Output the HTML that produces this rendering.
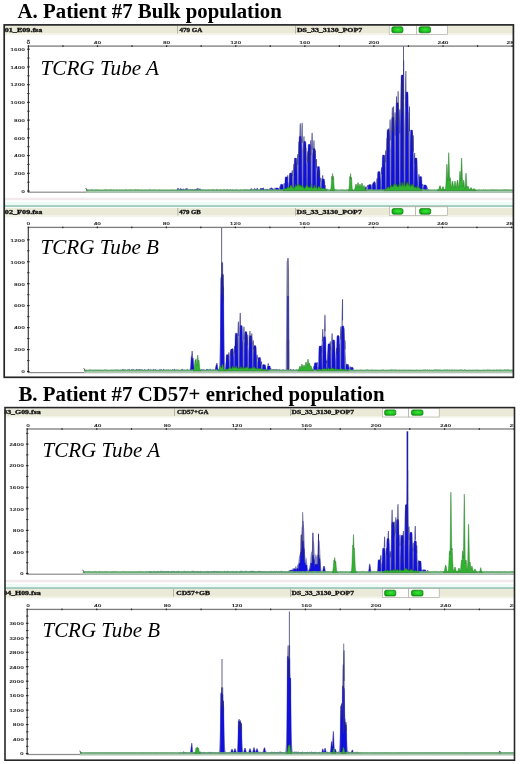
<!DOCTYPE html><html><head><meta charset="utf-8"><style>
html,body{margin:0;padding:0;background:#fff;}
body{width:520px;height:764px;overflow:hidden;position:relative;}
.ttl{font-family:"Liberation Serif",serif;font-weight:bold;font-size:20px;fill:#000;}
.tc{font-family:"Liberation Serif",serif;font-style:italic;font-size:20px;fill:#000;}
.hd{font-family:"Liberation Serif",serif;font-weight:bold;font-size:5.2px;fill:#111;stroke:#1a1a1a;stroke-width:0.3px;}
.ax{font-family:"Liberation Sans",sans-serif;font-weight:bold;font-size:10px;fill:#2a2a2a;}
</style></head><body><svg width="520" height="764" viewBox="0 0 520 764" style="position:absolute;left:0;top:0;will-change:transform;filter:blur(0.3px)">
<defs><radialGradient id="gbtn" cx="0.55" cy="0.45" r="0.6"><stop offset="0" stop-color="#3ee23e"/><stop offset="0.6" stop-color="#1ec81e"/><stop offset="1" stop-color="#129a12"/></radialGradient></defs>
<rect width="520" height="764" fill="#ffffff"/>
<text x="17.6" y="17.6" class="ttl" textLength="264.2" lengthAdjust="spacingAndGlyphs">A. Patient #7 Bulk population</text>
<text x="18.4" y="400.8" class="ttl" textLength="366.2" lengthAdjust="spacingAndGlyphs">B. Patient #7 CD57+ enriched population</text>
<rect x="4.20" y="26.00" width="509.20" height="7.60" fill="#ebe9d7"/>
<rect x="4.20" y="33.60" width="509.20" height="1.6" fill="#f3f4e8"/>
<rect x="177.20" y="26.00" width="0.8" height="7.60" fill="#a8a898"/>
<rect x="295.00" y="26.00" width="0.8" height="7.60" fill="#a8a898"/>
<text x="4.80" y="31.60" class="hd" textLength="37.50" lengthAdjust="spacingAndGlyphs">01_E09.fsa</text>
<text x="179.40" y="31.60" class="hd" textLength="23.00" lengthAdjust="spacingAndGlyphs">479 GA</text>
<text x="296.90" y="31.60" class="hd" textLength="65.40" lengthAdjust="spacingAndGlyphs">DS_33_3130_POP7</text>
<rect x="389.20" y="25.40" width="27.10" height="9.00" fill="#fdfdfb" stroke="#a4a49c" stroke-width="0.6"/>
<rect x="416.30" y="25.40" width="31.00" height="9.00" fill="#fdfdfb" stroke="#a4a49c" stroke-width="0.6"/>
<rect x="391.80" y="26.80" width="11.10" height="6.00" rx="1.6" fill="url(#gbtn)" stroke="#127a12" stroke-width="0.7"/>
<rect x="419.00" y="26.80" width="11.50" height="6.00" rx="1.6" fill="url(#gbtn)" stroke="#127a12" stroke-width="0.7"/>
<rect x="27.85" y="45.60" width="1.1" height="147.10" fill="#303030"/>
<rect x="28.40" y="45.45" width="485.00" height="1.3" fill="#7c7c7c"/>
<rect x="28.40" y="191.60" width="485.00" height="1.2" fill="#8c8c8c"/>
<rect x="27.80" y="45.30" width="1.2" height="1.6" fill="#222"/>
<text transform="translate(28.40 44.00) scale(0.660 0.440)" class="ax" text-anchor="middle">0</text>
<rect x="62.35" y="45.30" width="1.2" height="1.6" fill="#222"/>
<rect x="96.90" y="45.30" width="1.2" height="1.6" fill="#222"/>
<text transform="translate(97.50 44.00) scale(0.660 0.440)" class="ax" text-anchor="middle">40</text>
<rect x="131.45" y="45.30" width="1.2" height="1.6" fill="#222"/>
<rect x="166.00" y="45.30" width="1.2" height="1.6" fill="#222"/>
<text transform="translate(166.60 44.00) scale(0.660 0.440)" class="ax" text-anchor="middle">80</text>
<rect x="200.55" y="45.30" width="1.2" height="1.6" fill="#222"/>
<rect x="235.10" y="45.30" width="1.2" height="1.6" fill="#222"/>
<text transform="translate(235.70 44.00) scale(0.660 0.440)" class="ax" text-anchor="middle">120</text>
<rect x="269.65" y="45.30" width="1.2" height="1.6" fill="#222"/>
<rect x="304.20" y="45.30" width="1.2" height="1.6" fill="#222"/>
<text transform="translate(304.80 44.00) scale(0.660 0.440)" class="ax" text-anchor="middle">160</text>
<rect x="338.75" y="45.30" width="1.2" height="1.6" fill="#222"/>
<rect x="373.30" y="45.30" width="1.2" height="1.6" fill="#222"/>
<text transform="translate(373.90 44.00) scale(0.660 0.440)" class="ax" text-anchor="middle">200</text>
<rect x="407.85" y="45.30" width="1.2" height="1.6" fill="#222"/>
<rect x="442.40" y="45.30" width="1.2" height="1.6" fill="#222"/>
<text transform="translate(443.00 44.00) scale(0.660 0.440)" class="ax" text-anchor="middle">240</text>
<rect x="476.95" y="45.30" width="1.2" height="1.6" fill="#222"/>
<rect x="511.50" y="45.30" width="1.2" height="1.6" fill="#222"/>
<text transform="translate(512.10 44.00) scale(0.660 0.440)" class="ax" text-anchor="middle">280</text>
<rect x="27.10" y="48.65" width="2.6" height="1.1" fill="#222"/>
<text transform="translate(25.00 51.00) scale(0.660 0.440)" class="ax" text-anchor="end">1600</text>
<rect x="27.10" y="66.38" width="2.6" height="1.1" fill="#222"/>
<text transform="translate(25.00 68.73) scale(0.660 0.440)" class="ax" text-anchor="end">1400</text>
<rect x="27.10" y="84.11" width="2.6" height="1.1" fill="#222"/>
<text transform="translate(25.00 86.46) scale(0.660 0.440)" class="ax" text-anchor="end">1200</text>
<rect x="27.10" y="101.84" width="2.6" height="1.1" fill="#222"/>
<text transform="translate(25.00 104.19) scale(0.660 0.440)" class="ax" text-anchor="end">1000</text>
<rect x="27.10" y="119.57" width="2.6" height="1.1" fill="#222"/>
<text transform="translate(25.00 121.92) scale(0.660 0.440)" class="ax" text-anchor="end">800</text>
<rect x="27.10" y="137.30" width="2.6" height="1.1" fill="#222"/>
<text transform="translate(25.00 139.65) scale(0.660 0.440)" class="ax" text-anchor="end">600</text>
<rect x="27.10" y="155.03" width="2.6" height="1.1" fill="#222"/>
<text transform="translate(25.00 157.38) scale(0.660 0.440)" class="ax" text-anchor="end">400</text>
<rect x="27.10" y="172.76" width="2.6" height="1.1" fill="#222"/>
<text transform="translate(25.00 175.11) scale(0.660 0.440)" class="ax" text-anchor="end">200</text>
<rect x="27.10" y="190.49" width="2.6" height="1.1" fill="#222"/>
<text transform="translate(25.00 192.84) scale(0.660 0.440)" class="ax" text-anchor="end">0</text>
<rect x="27.20" y="57.57" width="2.4" height="1" fill="#333"/>
<rect x="27.20" y="75.30" width="2.4" height="1" fill="#333"/>
<rect x="27.20" y="93.02" width="2.4" height="1" fill="#333"/>
<rect x="27.20" y="110.75" width="2.4" height="1" fill="#333"/>
<rect x="27.20" y="128.49" width="2.4" height="1" fill="#333"/>
<rect x="27.20" y="146.22" width="2.4" height="1" fill="#333"/>
<rect x="27.20" y="163.94" width="2.4" height="1" fill="#333"/>
<rect x="27.20" y="181.68" width="2.4" height="1" fill="#333"/>
<rect x="27.20" y="39.84" width="2.4" height="1" fill="#333"/>
<text x="40.50" y="75.20" class="tc" textLength="118.50" lengthAdjust="spacingAndGlyphs">TCRG Tube A</text>
<path d="M176.0 190.60L176.00 190.60L176.50 190.49L176.75 190.32L177.00 189.98L177.25 189.46L177.50 188.84L177.75 188.32L178.00 188.11L178.25 188.32L178.50 188.84L178.75 189.46L179.00 189.98L179.25 190.01L179.50 189.55L179.75 189.00L180.00 188.57L180.25 188.43L180.50 188.65L180.75 189.13L181.00 189.33L181.25 188.98L181.50 188.86L181.75 189.03L182.00 189.41L182.25 189.11L182.50 189.03L182.75 189.21L183.00 189.56L183.50 189.12L183.75 189.12L184.25 189.57L184.50 189.48L184.75 189.58L185.00 189.32L185.25 188.91L185.50 188.72L185.75 188.85L186.00 189.23L186.25 189.36L186.50 188.74L186.75 188.27L187.00 188.14L187.25 188.42L187.75 189.58L188.00 189.45L188.25 189.49L188.50 189.69L188.75 189.98L189.00 190.12L189.50 189.55L189.75 189.40L190.00 189.45L190.25 189.67L190.50 189.73L190.75 189.61L191.00 189.67L191.25 189.86L191.50 189.85L191.75 189.51L192.00 189.28L192.25 189.25L192.50 189.44L193.00 190.06L193.25 189.99L193.50 190.02L194.00 189.76L194.25 189.79L194.75 189.34L195.00 189.28L195.25 189.44L195.50 189.74L195.75 189.57L196.00 189.15L196.25 188.88L196.50 188.89L196.75 188.98L197.00 188.49L197.25 188.28L197.50 188.46L198.00 189.36L198.25 188.92L198.50 188.70L198.75 188.79L199.25 189.55L199.50 189.06L199.75 188.70L200.00 188.63L200.25 188.89L200.75 189.83L201.00 190.13L201.25 190.16L201.50 190.26L202.00 189.97L202.25 189.94L202.50 190.01L203.25 190.45L204.50 190.37L205.25 189.93L205.50 189.92L205.75 190.02L206.00 190.19L206.50 190.04L206.75 190.07L207.50 190.44L208.25 190.50L213.00 190.22L213.50 189.83L213.75 189.76L214.00 189.82L214.75 190.38L215.00 190.44L215.75 190.11L216.00 190.10L216.50 189.69L216.75 189.61L217.00 189.70L217.75 190.35L218.00 190.49L219.25 190.41L220.00 190.00L220.25 189.98L220.50 190.07L221.00 189.91L221.25 189.94L222.00 190.40L222.25 190.46L223.25 190.20L223.50 190.26L224.00 190.04L224.25 190.01L224.50 190.07L224.75 190.20L225.00 190.26L225.50 190.15L225.75 189.98L226.00 189.88L226.25 189.90L226.75 190.14L227.25 189.70L227.50 189.62L227.75 189.71L228.25 190.16L228.50 190.26L229.00 190.26L229.50 189.95L229.75 189.91L230.00 189.99L230.75 190.45L231.00 190.47L232.00 190.25L232.25 190.19L232.75 189.84L233.00 189.79L233.25 189.88L234.00 190.42L234.25 190.52L235.25 190.18L235.50 190.18L236.00 190.35L236.75 190.40L237.50 190.21L238.50 190.49L241.00 190.54L243.25 190.54L244.50 190.39L245.25 190.13L245.50 190.14L246.00 190.34L246.50 190.16L246.75 190.12L247.00 190.16L247.75 190.47L248.75 190.44L249.25 190.24L249.75 189.89L250.00 189.82L250.25 189.89L250.50 189.61L250.75 189.09L251.00 188.68L251.25 188.55L251.50 188.76L252.00 189.71L252.25 190.11L252.50 190.04L252.75 190.07L253.00 190.18L253.25 190.19L253.50 189.87L254.00 188.82L254.25 188.46L254.50 188.43L254.75 188.75L255.00 189.14L255.25 189.01L255.50 189.14L255.75 189.47L256.00 189.75L256.25 189.73L256.50 189.37L256.75 188.74L257.00 188.24L257.25 188.09L257.50 188.35L257.75 188.91L258.00 189.53L258.25 190.03L258.50 190.35L258.75 190.33L259.25 190.16L259.50 190.18L259.75 189.88L260.25 188.73L260.50 188.28L260.75 188.19L261.00 188.48L261.25 189.04L261.50 188.81L261.75 188.31L262.00 188.12L262.25 188.35L262.50 188.88L262.75 188.58L263.00 187.98L263.25 187.75L263.50 187.99L263.75 188.59L264.00 189.30L264.25 189.89L264.50 189.83L264.75 189.87L265.00 190.02L265.25 189.75L265.50 189.40L265.75 189.17L266.00 189.17L266.50 189.64L266.75 189.23L267.00 188.95L267.25 188.94L267.50 189.19L267.75 189.59L268.25 189.51L268.50 189.64L268.75 189.89L269.00 189.74L269.25 189.66L269.75 188.52L270.00 188.17L270.25 188.22L270.50 188.64L270.75 188.93L271.00 188.21L271.25 187.73L271.50 187.69L271.75 188.12L272.00 188.83L272.25 189.22L272.50 188.97L272.75 188.98L273.00 189.24L273.50 190.04L273.75 190.21L274.00 190.20L274.25 190.11L274.75 189.48L275.00 189.29L275.25 189.31L275.50 189.54L275.75 189.86L276.00 189.99L276.50 190.14L276.75 189.96L277.00 189.85L277.25 189.86L277.50 189.63L277.75 189.18L278.00 188.86L278.25 188.80L278.50 189.03L279.00 189.90L279.25 190.21L279.50 190.25L280.00 189.98L280.25 189.90L280.50 189.93L280.75 190.07L281.25 190.02L281.50 190.07L282.00 190.35L282.25 190.19L282.50 189.75L282.75 189.11L283.00 188.40L283.25 187.87L283.50 187.76L283.75 188.10L284.25 189.46L284.50 190.01L284.75 190.34L285.00 190.50L285.25 190.60L285.25 190.60ZM363.5 190.60L363.50 190.60L364.00 190.48L364.25 190.33L364.50 190.05L364.75 189.58L365.00 188.91L365.50 187.32L365.75 186.72L366.00 186.50L366.25 186.72L366.50 187.32L366.75 188.11L367.00 188.50L367.50 186.52L367.75 185.78L368.00 185.50L368.25 185.78L368.50 186.52L368.75 187.51L369.00 188.09L369.50 185.72L369.75 184.83L370.00 184.50L370.25 184.83L370.50 185.72L371.00 188.09L371.25 187.81L371.50 186.92L371.75 186.25L372.00 186.00L372.25 186.25L372.50 186.92L373.00 188.71L373.25 189.45L373.50 189.98L373.75 190.30L374.00 190.47L374.50 190.60L374.50 190.60ZM423.0 190.60L423.00 190.60L423.50 190.45L423.75 190.26L424.00 189.91L424.25 189.33L424.50 188.50L425.00 186.52L425.25 185.78L425.50 185.50L425.75 185.78L426.00 186.52L426.50 186.00L426.75 186.25L427.00 186.92L427.50 188.71L427.75 189.45L428.00 189.98L428.25 190.30L428.50 190.47L429.00 190.60L429.00 190.60Z" fill="#1010e0" stroke="#2a2a78" stroke-width="0.42"/>
<path d="M269.0 190.60L269.00 190.59L269.25 190.58L270.25 190.28L270.50 190.08L271.50 188.80L271.75 188.58L272.00 188.50L272.25 188.58L272.50 188.80L273.25 189.80L273.50 189.83L273.75 189.42L274.50 187.94L274.75 187.62L275.00 187.50L275.25 187.62L275.50 187.94L276.25 189.42L276.50 189.83L276.75 190.13L277.00 190.34L277.25 190.46L277.50 190.50L277.75 190.40L278.00 190.21L278.25 189.91L278.50 189.45L278.75 188.85L279.25 187.35L279.50 186.66L279.75 186.17L280.00 186.00L280.25 186.17L280.50 186.66L280.75 187.35L281.25 188.85L281.50 189.45L281.75 189.91L282.00 189.96L282.25 189.45L282.50 188.70L282.75 187.70L283.00 186.50L283.25 185.23L283.50 184.09L283.75 183.29L284.00 183.00L284.25 183.29L284.50 184.09L284.75 185.23L285.00 186.50L285.25 187.70L285.50 188.70L285.75 188.24L286.00 186.71L286.25 184.65L286.50 182.19L286.75 179.58L287.00 177.23L287.25 175.59L287.50 175.00L287.75 175.59L288.00 177.23L288.25 179.58L288.50 182.19L288.75 184.18L289.00 181.51L289.25 178.69L289.50 176.16L289.75 174.39L290.00 173.75L290.25 174.39L290.50 176.16L290.75 178.69L291.00 179.49L291.25 176.04L291.50 172.95L291.75 170.78L292.00 170.00L292.25 170.78L292.50 172.95L292.75 176.04L293.00 171.63L293.25 167.59L293.50 164.77L293.75 163.75L294.00 164.77L294.25 167.59L294.50 171.63L294.75 167.56L295.00 162.66L295.25 159.23L295.50 158.00L295.75 159.23L296.00 162.66L296.25 167.56L296.50 170.72L296.75 164.56L297.00 159.02L297.25 155.14L297.50 153.75L297.75 155.14L298.00 155.73L298.25 148.31L298.50 143.12L298.75 141.25L299.00 143.12L299.25 142.83L299.50 132.67L299.75 125.56L300.00 123.00L300.25 125.56L300.50 132.67L300.75 142.83L301.00 149.30L301.25 138.13L301.50 128.90L301.75 123.44L302.00 122.92L302.25 127.46L302.50 136.07L302.75 147.00L303.00 152.02L303.25 143.81L303.50 138.07L303.75 136.00L304.00 138.07L304.25 143.81L304.50 152.02L304.75 161.15L305.00 156.09L305.25 150.64L305.50 147.77L305.75 148.09L306.00 151.55L306.25 157.39L306.50 164.46L306.75 162.62L307.00 156.66L307.25 152.50L307.50 151.00L307.75 152.50L308.00 156.66L308.25 161.91L308.50 155.81L308.75 151.54L309.00 150.00L309.25 151.54L309.50 155.81L309.75 154.84L310.00 147.24L310.25 141.91L310.50 140.00L310.75 141.91L311.00 147.24L311.25 145.84L311.50 137.96L311.75 133.30L312.00 132.86L312.25 136.73L312.50 144.08L312.75 153.40L313.00 154.84L313.25 147.24L313.50 141.91L313.75 140.00L314.00 141.91L314.25 147.24L314.50 154.84L314.75 151.54L315.00 150.00L315.25 151.54L315.50 155.81L315.75 161.91L316.00 159.96L316.25 158.75L316.50 159.96L316.75 163.30L317.00 168.09L317.25 173.42L317.50 173.80L317.75 171.74L318.00 171.00L318.25 171.74L318.50 173.80L318.75 173.51L319.00 171.11L319.25 170.03L319.50 170.50L319.75 172.42L320.00 175.38L320.25 178.45L320.50 177.58L320.75 177.68L321.00 178.73L321.25 180.51L321.50 182.19L321.75 179.58L322.00 177.23L322.25 175.59L322.50 175.00L322.75 175.59L323.00 177.23L323.25 179.58L323.50 182.19L323.75 181.36L324.00 181.00L324.25 181.36L324.50 182.37L324.75 183.82L325.00 185.00L325.25 185.21L325.50 185.80L325.75 186.64L326.25 188.47L326.50 189.20L326.75 189.29L327.00 189.01L327.25 188.82L327.50 188.75L327.75 188.82L328.00 189.01L329.00 190.14L330.25 190.58L330.50 190.59L330.50 190.60Z" fill="#8a8ac0"/>
<path d="M269.0 190.60L269.00 190.60L270.40 190.60L270.60 190.47L271.00 189.01L271.20 188.75L273.40 188.74L273.60 188.97L273.80 189.63L274.00 190.42L274.20 190.60L275.20 190.59L275.40 190.20L275.60 189.01L275.80 188.20L276.00 187.95L278.00 187.92L278.20 188.02L278.40 188.48L278.60 189.58L278.80 190.50L279.00 190.60L279.80 190.58L280.00 189.64L280.20 186.83L280.40 184.96L280.60 184.38L280.80 184.26L282.60 184.29L282.80 184.56L283.00 185.64L283.20 188.23L283.40 190.37L283.60 190.60L284.40 190.60L284.60 189.98L284.80 185.08L285.00 179.64L285.20 177.46L285.40 176.94L285.60 176.86L287.20 176.90L287.40 177.17L287.60 178.54L287.80 182.80L288.00 188.81L288.20 190.58L288.40 190.60L288.80 190.59L289.00 189.41L289.20 182.49L289.40 175.97L289.60 173.56L289.80 173.02L290.00 172.94L291.60 173.00L291.80 173.44L292.00 175.51L292.20 181.53L292.40 188.92L292.60 190.59L293.60 190.58L293.80 187.86L294.00 174.53L294.20 163.09L294.40 159.05L294.60 158.18L294.80 158.06L296.20 158.06L296.40 158.19L296.60 159.11L296.80 163.31L297.00 174.99L297.20 188.09L297.40 190.59L298.20 190.60L298.40 190.40L298.60 181.41L298.80 157.16L299.00 141.90L299.20 137.30L299.40 136.41L299.60 136.30L301.00 136.34L301.20 136.73L301.40 139.16L301.60 149.02L301.80 171.68L302.00 189.01L302.20 190.60L302.80 190.60L303.00 190.18L303.20 179.35L303.40 157.33L303.60 145.37L303.80 142.03L304.00 141.42L304.20 141.35L305.60 141.40L305.80 141.89L306.00 144.69L306.20 155.28L306.40 176.87L306.60 189.85L306.80 190.60L307.20 190.60L307.40 190.51L307.60 184.37L307.80 164.03L308.00 149.79L308.20 145.27L308.40 144.36L308.60 144.24L310.00 144.25L310.20 144.53L310.40 146.29L310.60 153.75L310.80 172.23L311.00 188.60L311.20 190.60L312.00 190.60L312.20 190.56L312.40 186.31L312.60 168.51L312.80 154.42L313.00 149.66L313.20 148.65L313.40 148.51L314.80 148.52L315.00 148.72L315.20 150.06L315.40 155.98L315.60 171.76L315.80 187.97L316.00 190.59L316.40 190.60L316.60 190.44L316.80 185.59L317.00 174.80L317.20 168.66L317.40 166.90L317.60 166.58L319.20 166.56L319.40 166.77L319.60 168.04L319.80 172.94L320.00 183.35L320.20 190.14L320.40 190.60L321.20 190.60L321.40 190.58L321.60 189.09L321.80 184.03L322.00 180.45L322.20 179.31L322.40 179.08L324.00 179.05L324.20 179.12L324.40 179.55L324.60 181.39L324.80 185.97L325.00 190.08L325.20 190.60L330.40 190.60L330.40 190.60Z" fill="#1010e0" stroke="#1c1c90" stroke-width="0.3"/>
<line x1="272.30" y1="188.90" x2="272.30" y2="189.13" stroke="#2a2a78" stroke-width="0.75"/>
<line x1="275.30" y1="187.90" x2="275.30" y2="188.43" stroke="#2a2a78" stroke-width="0.75"/>
<line x1="280.30" y1="186.40" x2="280.30" y2="187.38" stroke="#2a2a78" stroke-width="0.75"/>
<line x1="284.30" y1="183.40" x2="284.30" y2="185.28" stroke="#2a2a78" stroke-width="0.75"/>
<line x1="287.80" y1="175.40" x2="287.80" y2="179.68" stroke="#2a2a78" stroke-width="0.75"/>
<line x1="290.30" y1="174.15" x2="290.30" y2="178.81" stroke="#2a2a78" stroke-width="0.75"/>
<line x1="292.30" y1="170.40" x2="292.30" y2="176.18" stroke="#2a2a78" stroke-width="0.75"/>
<line x1="294.05" y1="164.15" x2="294.05" y2="171.81" stroke="#2a2a78" stroke-width="0.75"/>
<line x1="295.80" y1="158.40" x2="295.80" y2="167.78" stroke="#2a2a78" stroke-width="0.75"/>
<line x1="297.80" y1="154.15" x2="297.80" y2="164.81" stroke="#2a2a78" stroke-width="0.75"/>
<line x1="299.05" y1="141.65" x2="299.05" y2="156.06" stroke="#2a2a78" stroke-width="0.75"/>
<line x1="300.30" y1="123.40" x2="300.30" y2="143.28" stroke="#2a2a78" stroke-width="0.75"/>
<line x1="302.20" y1="122.90" x2="302.20" y2="142.93" stroke="#2a2a78" stroke-width="0.75"/>
<line x1="304.05" y1="136.40" x2="304.05" y2="152.38" stroke="#2a2a78" stroke-width="0.75"/>
<line x1="305.90" y1="147.90" x2="305.90" y2="160.43" stroke="#2a2a78" stroke-width="0.75"/>
<line x1="307.80" y1="151.40" x2="307.80" y2="162.88" stroke="#2a2a78" stroke-width="0.75"/>
<line x1="309.30" y1="150.40" x2="309.30" y2="162.18" stroke="#2a2a78" stroke-width="0.75"/>
<line x1="310.80" y1="140.40" x2="310.80" y2="155.18" stroke="#2a2a78" stroke-width="0.75"/>
<line x1="312.20" y1="132.90" x2="312.20" y2="149.93" stroke="#2a2a78" stroke-width="0.75"/>
<line x1="314.05" y1="140.40" x2="314.05" y2="155.18" stroke="#2a2a78" stroke-width="0.75"/>
<line x1="315.30" y1="150.40" x2="315.30" y2="162.18" stroke="#2a2a78" stroke-width="0.75"/>
<line x1="316.55" y1="159.15" x2="316.55" y2="168.31" stroke="#2a2a78" stroke-width="0.75"/>
<line x1="318.30" y1="171.40" x2="318.30" y2="176.88" stroke="#2a2a78" stroke-width="0.75"/>
<line x1="319.60" y1="170.40" x2="319.60" y2="176.18" stroke="#2a2a78" stroke-width="0.75"/>
<line x1="320.90" y1="177.90" x2="320.90" y2="181.43" stroke="#2a2a78" stroke-width="0.75"/>
<line x1="322.80" y1="175.40" x2="322.80" y2="179.68" stroke="#2a2a78" stroke-width="0.75"/>
<line x1="324.30" y1="181.40" x2="324.30" y2="183.88" stroke="#2a2a78" stroke-width="0.75"/>
<line x1="325.30" y1="185.40" x2="325.30" y2="186.68" stroke="#2a2a78" stroke-width="0.75"/>
<line x1="327.80" y1="189.15" x2="327.80" y2="189.31" stroke="#2a2a78" stroke-width="0.75"/>
<path d="M364.5 190.60L364.50 190.58L365.00 190.48L365.25 190.35L365.50 190.13L365.75 189.75L366.00 189.20L366.25 188.47L366.75 186.64L367.00 185.80L367.25 185.21L367.50 185.00L367.75 185.21L368.00 185.80L368.25 186.64L368.75 188.47L369.00 188.12L369.25 187.35L369.50 186.66L369.75 186.17L370.00 186.00L370.25 186.17L370.50 186.66L370.75 187.35L371.00 187.04L371.25 185.94L371.50 184.94L371.75 184.25L372.00 184.00L372.25 184.25L372.50 184.94L372.75 185.94L373.00 187.04L373.25 186.94L373.50 185.42L373.75 183.82L374.00 182.37L374.25 181.36L374.50 181.00L374.75 181.36L375.00 182.37L375.25 183.82L375.50 185.42L375.75 185.03L376.25 180.89L376.50 179.18L376.75 178.17L377.00 178.08L377.25 178.92L377.50 180.51L377.75 182.53L378.00 180.57L378.25 177.46L378.50 174.66L378.75 172.70L379.00 172.00L379.25 172.70L379.50 174.66L379.75 177.46L380.00 180.57L380.25 177.87L380.50 173.92L380.75 170.37L381.00 167.89L381.25 167.00L381.50 167.89L381.75 170.37L382.00 173.92L382.25 177.87L382.50 177.03L382.75 171.40L383.00 165.44L383.25 160.09L383.50 156.35L383.75 155.00L384.00 156.35L384.25 160.09L384.50 165.44L384.75 161.91L385.00 155.81L385.25 151.54L385.50 150.00L385.75 151.54L386.00 155.81L386.25 149.69L386.50 142.49L386.75 138.23L387.00 137.83L387.25 141.37L387.50 148.08L387.75 146.36L388.00 136.95L388.25 130.37L388.50 128.00L388.75 130.37L389.00 136.95L389.25 135.44L389.50 125.73L389.75 119.99L390.00 119.44L390.25 124.21L390.50 133.27L390.75 144.76L391.00 150.99L391.25 137.08L391.50 123.66L391.75 113.09L392.00 107.51L392.25 108.15L392.50 114.86L392.75 120.41L393.00 110.57L393.25 106.13L393.50 108.06L393.75 115.94L394.00 128.08L394.25 125.39L394.50 116.25L394.75 112.12L395.00 113.92L395.25 121.24L395.50 120.69L395.75 107.12L396.00 98.31L396.25 96.15L396.50 101.11L396.75 112.11L397.00 126.87L397.25 113.71L397.50 100.19L397.75 92.18L398.00 91.41L398.25 98.07L398.50 110.69L398.75 126.71L399.00 120.67L399.25 112.09L399.50 109.00L399.75 112.09L400.00 120.67L400.25 128.16L400.50 110.05L400.75 94.41L401.00 84.26L401.25 81.77L401.50 87.49L401.75 85.55L402.00 78.00L402.25 78.86L402.50 87.96L402.75 89.98L403.00 72.28L403.25 61.80L403.50 60.80L403.75 69.51L404.00 86.02L404.25 106.99L404.50 128.72L404.75 113.78L405.00 94.51L405.25 79.34L405.50 71.34L405.75 72.26L406.00 81.89L406.25 98.15L406.50 117.82L406.75 135.06L407.00 123.24L407.25 114.97L407.50 112.00L407.75 114.97L408.00 123.24L408.25 135.06L408.50 128.08L408.75 115.94L409.00 108.06L409.25 106.13L409.50 110.57L409.75 120.41L410.00 133.61L410.25 147.76L410.50 160.79L410.75 164.25L411.25 144.68L411.50 136.61L411.75 131.82L412.00 131.37L412.25 135.34L412.50 142.88L412.75 137.10L413.00 135.00L413.25 137.10L413.50 142.95L413.75 151.31L414.00 156.08L414.25 153.03L414.50 152.73L414.75 155.27L415.00 160.09L415.25 166.21L415.50 170.74L415.75 166.52L416.00 163.56L416.25 162.50L416.50 163.56L416.75 166.52L417.00 170.74L417.25 175.44L417.50 179.89L417.75 181.51L418.00 178.69L418.25 176.16L418.50 174.39L418.75 173.75L419.00 174.39L419.25 176.16L419.50 178.69L419.75 181.51L420.00 179.80L420.25 178.48L420.50 178.00L420.75 178.48L421.00 179.80L421.25 181.70L421.50 183.80L421.75 185.76L422.00 184.73L422.25 184.01L422.50 183.75L422.75 184.01L423.00 184.73L423.25 185.76L423.50 186.91L423.75 187.99L424.00 188.89L424.25 189.57L424.50 189.91L424.75 189.45L425.00 188.85L425.50 187.35L425.75 186.66L426.00 186.17L426.25 186.00L426.50 186.17L426.75 186.66L427.00 187.35L427.50 188.85L427.75 189.06L428.00 189.00L428.25 189.06L428.50 189.23L430.75 190.58L431.00 190.59L431.00 190.60Z" fill="#8a8ac0"/>
<path d="M364.5 190.60L364.50 190.60L367.70 190.60L367.90 190.53L368.10 189.06L368.30 186.39L368.50 185.03L368.70 184.66L370.70 184.66L370.90 185.03L371.10 186.42L371.30 189.09L371.50 190.53L371.70 190.60L372.10 190.60L372.30 190.34L372.50 187.64L372.70 184.22L372.90 182.76L373.10 182.40L374.90 182.35L375.10 182.49L375.30 183.21L375.50 185.58L375.70 189.26L375.90 190.57L376.10 190.60L376.90 190.60L377.10 189.80L377.30 183.11L377.50 175.51L377.70 172.42L377.90 171.69L378.10 171.58L379.70 171.62L379.90 171.99L380.10 173.83L380.30 179.65L380.50 188.01L380.70 190.56L380.90 190.60L381.50 190.60L381.70 190.43L381.90 184.01L382.10 168.08L382.30 158.49L382.50 155.67L382.70 155.13L382.90 155.06L384.30 155.09L384.50 155.37L384.70 157.08L384.90 163.86L385.10 178.95L385.30 189.73L385.50 190.60L386.10 190.60L386.30 190.56L386.50 185.02L386.70 159.61L386.90 138.51L387.10 131.20L387.30 129.64L387.50 129.42L388.90 129.42L389.10 129.69L389.30 131.50L389.50 139.68L389.70 162.05L389.90 186.27L390.10 190.58L390.30 190.60L390.90 190.59L391.10 187.34L391.30 161.26L391.50 132.22L391.70 120.56L391.90 117.83L392.10 117.40L393.50 117.37L393.70 117.56L393.90 119.03L394.10 126.27L394.30 148.93L394.50 180.98L394.70 190.47L394.90 190.60L395.30 190.60L395.50 190.56L395.70 183.31L395.90 147.42L396.10 116.40L396.30 105.44L396.50 103.06L396.70 102.71L398.10 102.71L398.30 103.07L398.50 105.54L398.70 116.79L398.90 148.23L399.10 183.72L399.30 190.56L399.50 190.60L400.10 190.60L400.30 189.83L400.50 166.45L400.70 114.59L400.90 85.12L401.10 76.71L401.30 75.14L401.50 74.96L402.70 74.95L402.90 75.06L403.10 76.10L403.30 82.20L403.50 105.81L403.70 155.86L403.90 188.40L404.10 190.60L404.90 190.60L405.10 190.45L405.30 178.48L405.50 135.63L405.70 104.39L405.90 94.26L406.10 92.18L406.30 91.90L407.70 91.93L407.90 92.48L408.10 96.01L408.30 111.19L408.50 149.77L408.70 185.75L408.90 190.59L409.50 190.60L409.70 190.36L409.90 180.00L410.10 152.86L410.30 136.04L410.50 131.02L410.70 130.05L410.90 129.93L412.30 129.97L412.50 130.43L412.70 133.21L412.90 144.42L413.10 169.89L413.30 188.92L413.50 190.60L413.90 190.60L414.10 190.03L414.30 181.06L414.50 166.85L414.70 160.05L414.90 158.27L415.10 157.97L416.70 157.99L416.90 158.42L417.10 160.73L417.30 168.90L417.50 183.53L417.70 190.36L417.90 190.60L418.50 190.60L418.70 190.23L418.90 185.88L419.10 179.96L419.30 177.34L419.50 176.69L419.70 176.58L421.30 176.60L421.50 176.82L421.70 177.97L421.90 181.82L422.10 188.10L422.30 190.54L422.50 190.60L423.10 190.60L423.30 190.12L423.50 187.76L423.70 185.74L423.90 185.03L424.10 184.88L425.90 184.88L426.10 185.04L426.30 185.78L426.50 187.85L426.70 190.16L426.90 190.60L430.90 190.60L430.90 190.60Z" fill="#1010e0" stroke="#1c1c90" stroke-width="0.3"/>
<line x1="367.80" y1="185.40" x2="367.80" y2="186.68" stroke="#2a2a78" stroke-width="0.75"/>
<line x1="370.30" y1="186.40" x2="370.30" y2="187.38" stroke="#2a2a78" stroke-width="0.75"/>
<line x1="372.30" y1="184.40" x2="372.30" y2="185.98" stroke="#2a2a78" stroke-width="0.75"/>
<line x1="374.80" y1="181.40" x2="374.80" y2="183.88" stroke="#2a2a78" stroke-width="0.75"/>
<line x1="377.20" y1="178.40" x2="377.20" y2="181.78" stroke="#2a2a78" stroke-width="0.75"/>
<line x1="379.30" y1="172.40" x2="379.30" y2="177.58" stroke="#2a2a78" stroke-width="0.75"/>
<line x1="381.55" y1="167.40" x2="381.55" y2="174.08" stroke="#2a2a78" stroke-width="0.75"/>
<line x1="384.05" y1="155.40" x2="384.05" y2="165.68" stroke="#2a2a78" stroke-width="0.75"/>
<line x1="385.80" y1="150.40" x2="385.80" y2="162.18" stroke="#2a2a78" stroke-width="0.75"/>
<line x1="387.20" y1="137.90" x2="387.20" y2="153.43" stroke="#2a2a78" stroke-width="0.75"/>
<line x1="388.80" y1="128.40" x2="388.80" y2="146.78" stroke="#2a2a78" stroke-width="0.75"/>
<line x1="390.20" y1="119.40" x2="390.20" y2="140.48" stroke="#2a2a78" stroke-width="0.75"/>
<line x1="392.40" y1="107.40" x2="392.40" y2="132.08" stroke="#2a2a78" stroke-width="0.75"/>
<line x1="393.60" y1="106.40" x2="393.60" y2="131.38" stroke="#2a2a78" stroke-width="0.75"/>
<line x1="395.10" y1="112.40" x2="395.10" y2="135.58" stroke="#2a2a78" stroke-width="0.75"/>
<line x1="396.50" y1="96.40" x2="396.50" y2="124.38" stroke="#2a2a78" stroke-width="0.75"/>
<line x1="398.20" y1="91.20" x2="398.20" y2="120.74" stroke="#2a2a78" stroke-width="0.75"/>
<line x1="399.80" y1="109.40" x2="399.80" y2="133.48" stroke="#2a2a78" stroke-width="0.75"/>
<line x1="401.50" y1="82.00" x2="401.50" y2="114.30" stroke="#2a2a78" stroke-width="0.75"/>
<line x1="402.40" y1="77.70" x2="402.40" y2="111.29" stroke="#2a2a78" stroke-width="0.75"/>
<line x1="403.70" y1="60.40" x2="403.70" y2="99.18" stroke="#2a2a78" stroke-width="0.75"/>
<line x1="405.90" y1="71.00" x2="405.90" y2="106.60" stroke="#2a2a78" stroke-width="0.75"/>
<line x1="407.80" y1="112.40" x2="407.80" y2="135.58" stroke="#2a2a78" stroke-width="0.75"/>
<line x1="409.50" y1="106.40" x2="409.50" y2="131.38" stroke="#2a2a78" stroke-width="0.75"/>
<line x1="412.20" y1="131.40" x2="412.20" y2="148.88" stroke="#2a2a78" stroke-width="0.75"/>
<line x1="413.30" y1="135.40" x2="413.30" y2="151.68" stroke="#2a2a78" stroke-width="0.75"/>
<line x1="414.70" y1="152.90" x2="414.70" y2="163.93" stroke="#2a2a78" stroke-width="0.75"/>
<line x1="416.55" y1="162.90" x2="416.55" y2="170.93" stroke="#2a2a78" stroke-width="0.75"/>
<line x1="419.05" y1="174.15" x2="419.05" y2="178.81" stroke="#2a2a78" stroke-width="0.75"/>
<line x1="420.80" y1="178.40" x2="420.80" y2="181.78" stroke="#2a2a78" stroke-width="0.75"/>
<line x1="422.80" y1="184.15" x2="422.80" y2="185.81" stroke="#2a2a78" stroke-width="0.75"/>
<line x1="426.55" y1="186.40" x2="426.55" y2="187.38" stroke="#2a2a78" stroke-width="0.75"/>
<line x1="428.30" y1="189.40" x2="428.30" y2="189.48" stroke="#2a2a78" stroke-width="0.75"/>
<rect x="403.00" y="46.50" width="0.80" height="124.10" fill="#3a3a72"/>
<rect x="86.00" y="190.90" width="426.90" height="1.9" fill="#adc9b2"/>
<rect x="86.00" y="189.50" width="426.90" height="1.4" fill="#6aa876"/>
<path d="M85.70 188.00 L87.60 191.20" stroke="#3c4a44" stroke-width="0.9"/>
<path d="M85.8 190.60L85.75 190.60L86.00 190.43L86.25 190.40L87.00 189.75L87.25 189.62L87.50 189.65L88.00 190.02L88.25 189.96L88.75 190.07L89.00 189.87L89.25 189.76L89.50 189.78L90.25 190.34L90.50 190.26L91.00 189.74L91.25 189.55L91.50 189.52L92.00 189.87L92.25 189.67L92.50 189.61L92.75 189.71L93.00 189.93L93.50 190.07L94.00 190.34L94.75 190.33L95.00 190.20L95.50 189.64L95.75 189.46L96.00 189.45L96.25 189.63L96.75 190.19L97.00 190.10L97.50 189.52L97.75 189.38L98.00 189.45L98.25 189.68L98.75 190.25L99.75 190.47L100.50 190.09L100.75 190.03L101.00 190.07L101.50 190.32L103.25 190.38L103.75 190.23L104.25 189.74L104.50 189.55L104.75 189.52L105.00 189.67L105.25 189.93L105.75 189.77L106.00 189.81L106.50 189.37L106.75 189.32L107.00 189.47L107.50 190.08L107.75 190.33L108.00 190.38L108.75 189.75L109.00 189.66L109.25 189.73L109.50 189.92L109.75 189.75L110.00 189.49L110.25 189.38L110.50 189.48L110.75 189.73L111.25 189.53L111.50 189.58L111.75 189.78L112.00 190.05L112.25 190.24L112.50 190.21L112.75 190.23L113.25 189.71L113.50 189.50L113.75 189.46L114.00 189.61L114.50 190.14L114.75 190.00L115.00 189.94L115.25 190.00L116.00 190.40L116.25 190.22L116.75 189.72L117.00 189.58L117.25 189.60L117.50 189.77L118.00 190.27L118.25 190.38L119.00 189.77L119.25 189.69L119.50 189.75L120.00 190.16L120.50 190.11L121.00 190.16L121.25 190.01L121.50 189.94L121.75 189.98L122.25 190.17L122.50 190.02L122.75 189.93L123.00 189.95L123.25 190.07L123.50 190.07L123.75 189.97L124.00 189.98L124.75 190.38L125.00 190.17L125.50 189.56L125.75 189.35L126.00 189.35L126.25 189.54L126.75 190.15L127.00 190.09L127.50 190.09L127.75 189.97L128.00 189.95L128.25 190.04L128.50 190.19L129.00 189.75L129.25 189.61L129.50 189.63L129.75 189.80L130.00 189.78L130.25 189.55L130.50 189.48L130.75 189.60L131.00 189.84L131.25 189.95L131.50 189.94L131.75 190.04L132.00 190.20L132.25 190.10L132.50 189.93L132.75 189.85L133.00 189.89L133.50 190.23L134.00 190.26L134.25 190.03L134.75 189.46L135.00 189.36L135.25 189.46L135.50 189.68L135.75 189.58L136.00 189.65L136.25 189.86L136.50 189.88L136.75 189.61L137.00 189.46L137.25 189.49L137.75 189.95L138.00 189.71L138.25 189.56L138.50 189.58L138.75 189.77L139.00 190.02L139.25 189.91L139.50 189.87L139.75 189.95L140.50 190.44L140.75 190.46L141.50 189.97L141.75 189.87L142.00 189.88L142.25 190.01L142.75 189.94L143.00 190.00L143.25 190.14L143.50 190.21L143.75 190.14L144.25 190.17L144.50 190.00L144.75 189.91L145.00 189.92L145.25 190.05L145.50 190.05L145.75 189.88L146.00 189.80L146.25 189.86L147.00 190.39L147.25 190.50L148.00 190.37L148.25 190.25L148.75 189.72L149.00 189.52L149.25 189.49L149.50 189.64L149.75 189.90L150.00 189.83L150.25 189.63L150.50 189.57L150.75 189.67L151.25 190.16L151.50 190.30L152.25 190.28L152.75 189.86L153.00 189.74L153.25 189.75L153.50 189.90L153.75 190.11L154.00 190.11L154.50 189.67L154.75 189.62L155.00 189.73L155.75 190.38L156.00 190.43L156.75 190.16L157.00 190.17L157.50 190.36L158.25 190.45L158.75 190.34L159.50 189.73L159.75 189.68L160.00 189.78L160.50 190.21L161.75 190.49L162.75 190.07L163.00 190.06L163.75 190.41L164.00 190.47L164.25 190.38L165.00 189.96L165.25 189.95L165.50 190.04L166.00 189.82L166.25 189.85L167.25 190.49L168.75 190.48L169.50 190.40L169.75 190.29L170.25 189.87L170.50 189.74L170.75 189.74L171.00 189.88L171.50 190.30L172.00 190.34L172.25 190.28L172.75 189.78L173.00 189.60L173.25 189.57L173.50 189.71L174.00 190.21L174.25 190.31L174.75 190.35L175.25 190.12L175.50 190.09L175.75 190.14L176.00 190.25L176.25 190.26L176.50 190.19L176.75 190.19L177.50 190.46L177.75 190.31L178.50 189.47L178.75 189.34L179.00 189.43L179.25 189.68L179.75 190.26L180.25 190.21L180.75 190.37L181.50 190.20L182.00 190.25L182.50 189.79L182.75 189.65L183.00 189.66L183.25 189.82L183.75 190.25L184.25 189.71L184.50 189.50L184.75 189.47L185.00 189.62L185.50 189.54L185.75 189.65L186.25 190.14L186.75 189.87L187.00 189.88L187.25 189.81L187.50 189.57L187.75 189.47L188.00 189.56L188.50 190.08L189.00 189.72L189.25 189.69L189.50 189.81L189.75 190.03L190.00 190.16L190.25 190.11L190.50 190.14L191.00 190.36L191.75 190.34L192.25 190.08L192.50 190.04L192.75 190.09L193.50 190.46L193.75 190.46L194.50 190.22L195.00 190.29L195.25 190.28L195.75 190.18L196.00 190.23L196.25 190.11L196.75 189.56L197.00 189.43L197.25 189.50L197.50 189.73L197.75 190.02L198.00 190.08L198.50 189.48L198.75 189.32L199.00 189.38L199.25 189.62L199.75 190.22L200.00 190.16L200.25 190.17L200.75 189.80L201.00 189.72L201.25 189.79L201.50 189.97L201.75 189.84L202.00 189.56L202.25 189.40L202.50 189.44L202.75 189.65L203.00 189.61L203.25 189.46L203.50 189.50L203.75 189.71L204.00 189.99L204.25 190.04L204.50 189.97L204.75 190.00L205.25 190.28L205.50 190.38L206.75 190.47L207.00 190.38L207.25 190.17L207.75 189.60L208.00 189.43L208.25 189.45L208.50 189.65L208.75 189.70L209.00 189.61L209.25 189.69L209.50 189.89L210.00 189.55L210.25 189.51L210.50 189.65L211.00 190.17L211.25 190.16L211.50 189.98L211.75 189.70L212.00 189.51L212.25 189.49L212.75 189.81L213.00 189.53L213.25 189.37L213.50 189.41L213.75 189.64L214.25 190.23L214.50 190.42L216.75 190.46L217.00 190.31L217.75 189.63L218.00 189.58L218.25 189.70L218.75 190.18L219.25 190.16L219.50 190.19L219.75 190.08L220.00 189.82L220.25 189.63L220.50 189.59L220.75 189.71L221.00 189.94L221.50 189.86L221.75 189.94L222.25 190.29L222.50 190.15L223.00 189.60L223.25 189.45L223.50 189.49L223.75 189.70L224.00 189.71L224.25 189.47L224.50 189.40L224.75 189.52L225.25 190.09L225.50 190.24L225.75 190.26L226.00 190.19L226.50 189.67L226.75 189.53L227.00 189.57L227.25 189.76L227.75 189.75L228.00 189.90L228.75 190.46L229.25 190.54L229.50 190.44L229.75 190.25L230.25 189.65L230.50 189.40L230.75 189.32L231.00 189.45L231.50 190.05L231.75 190.31L232.00 190.42L233.50 190.49L234.25 190.49L235.25 190.11L235.50 190.14L235.75 190.24L236.25 189.70L236.50 189.48L236.75 189.42L237.00 189.57L237.50 190.12L237.75 190.27L238.50 190.48L239.25 190.51L239.50 190.44L239.75 190.25L240.25 189.66L240.50 189.40L240.75 189.32L241.00 189.46L241.25 189.74L241.50 189.86L241.75 189.83L242.00 189.93L242.50 190.23L242.75 190.12L243.25 189.56L243.50 189.42L243.75 189.47L244.00 189.69L244.25 189.99L244.50 189.67L244.75 189.42L245.00 189.34L245.25 189.47L245.75 190.06L246.00 190.27L246.75 189.42L247.00 189.33L247.25 189.44L247.50 189.71L247.75 189.86L248.00 189.72L248.25 189.73L248.50 189.87L249.00 190.30L249.75 190.34L250.50 190.20L251.00 190.34L251.25 190.36L251.50 190.12L252.00 189.51L252.25 189.34L252.50 189.37L252.75 189.59L253.00 189.90L253.25 189.78L253.50 189.76L253.75 189.88L254.00 189.86L254.25 189.57L254.50 189.39L254.75 189.41L255.00 189.62L255.50 190.20L256.00 190.27L256.50 190.20L256.75 190.20L257.00 190.26L257.50 189.72L257.75 189.50L258.00 189.44L258.25 189.58L258.75 190.13L259.25 190.23L259.75 189.93L260.00 189.85L260.25 189.89L260.75 190.22L261.00 190.30L262.00 190.28L262.50 189.97L262.75 189.89L263.00 189.92L263.75 190.39L264.00 190.45L264.75 190.22L265.25 190.31L266.00 189.97L266.25 189.98L267.00 190.39L267.50 190.37L268.25 189.69L268.50 189.57L268.75 189.62L269.00 189.58L269.25 189.39L269.50 189.40L269.75 189.59L270.00 189.68L270.25 189.59L270.50 189.67L270.75 189.88L271.00 190.03L271.25 189.77L271.50 189.58L271.75 189.54L272.00 189.68L272.50 190.19L272.75 190.31L273.50 189.51L273.75 189.41L274.00 189.49L274.25 189.74L274.50 189.52L274.75 189.44L275.00 189.55L275.25 189.59L275.50 189.43L275.75 189.46L276.00 189.66L276.50 190.20L276.75 190.26L277.00 190.12L277.50 189.64L277.75 189.55L278.00 189.64L278.25 189.86L278.50 189.96L278.75 189.69L279.00 189.53L279.25 189.53L279.50 189.71L279.75 189.97L280.25 189.72L280.50 189.72L280.75 189.86L281.00 190.08L281.25 190.04L281.50 190.07L281.75 189.85L282.00 189.70L282.25 189.69L282.50 189.82L283.00 190.27L283.25 190.21L283.75 189.61L284.00 189.39L284.25 189.36L284.50 189.53L285.00 190.07L285.25 189.93L285.50 189.89L285.75 189.96L286.00 189.92L286.25 189.66L286.50 189.51L286.75 189.53L287.00 189.72L287.25 189.99L287.50 190.10L287.75 190.09L288.25 190.28L288.50 190.28L288.75 190.17L289.25 189.80L289.50 189.76L289.75 189.86L290.00 190.05L290.25 189.91L290.50 189.86L290.75 189.93L291.00 190.08L291.50 190.16L292.00 190.37L292.25 190.21L292.75 189.69L293.00 189.54L293.25 189.55L293.50 189.74L293.75 190.00L294.00 190.09L294.25 190.09L294.75 190.29L295.00 190.33L295.25 190.30L295.75 190.01L296.00 189.92L296.25 189.94L296.50 190.06L297.00 189.80L297.25 189.76L297.75 189.96L298.00 189.78L298.25 189.71L298.50 189.79L299.00 190.20L299.25 190.32L299.75 190.32L300.25 190.07L300.50 189.98L300.75 190.00L301.00 190.11L301.50 190.06L301.75 190.10L302.00 189.95L302.25 189.66L302.50 189.46L302.75 189.44L303.00 189.60L303.50 190.17L303.75 190.28L304.75 190.43L305.00 190.45L305.75 190.01L306.00 189.94L306.25 189.97L307.00 190.41L307.50 190.40L307.75 190.24L308.25 189.70L308.50 189.50L308.75 189.46L309.00 189.62L309.25 189.87L309.50 189.72L309.75 189.71L310.00 189.85L310.50 190.25L310.75 190.15L311.00 190.12L311.25 190.17L311.50 190.12L312.00 189.70L312.25 189.65L312.50 189.75L312.75 189.94L313.00 189.68L313.25 189.51L313.50 189.51L313.75 189.69L314.00 189.96L314.50 189.44L314.75 189.35L315.00 189.47L315.75 190.31L316.25 190.41L317.00 190.32L317.75 189.67L318.00 189.62L318.50 189.79L318.75 189.71L319.00 189.78L319.50 190.18L320.00 190.15L320.75 190.39L322.25 190.55L322.50 190.49L322.75 190.36L323.50 189.66L323.75 189.55L324.00 189.62L324.50 190.08L324.75 190.27L325.25 190.29L325.50 190.13L326.00 189.54L326.25 189.37L326.50 189.40L326.75 189.61L327.00 189.65L327.25 189.59L327.50 189.71L327.75 189.93L328.00 190.02L328.25 189.83L328.50 189.74L328.75 189.80L329.25 190.18L329.75 190.02L330.00 190.07L330.25 190.18L330.75 189.58L331.00 189.37L331.25 189.36L331.75 189.78L332.00 189.59L332.25 189.57L332.50 189.71L333.00 190.21L333.25 190.39L334.25 190.44L334.50 190.35L334.75 190.11L335.25 189.52L335.50 189.36L335.75 189.41L336.25 189.85L336.50 189.83L336.75 189.93L337.50 190.44L337.75 190.43L339.25 190.47L339.50 190.49L340.50 190.04L340.75 190.05L341.25 189.80L341.50 189.80L341.75 189.93L342.00 189.88L342.25 189.63L342.50 189.52L342.75 189.58L343.25 190.06L343.50 190.23L344.00 190.36L345.25 190.36L346.00 190.30L346.75 189.63L347.00 189.57L347.25 189.69L347.50 189.92L347.75 189.71L348.00 189.44L348.25 189.33L348.50 189.43L349.00 190.01L349.50 189.97L350.00 190.11L350.50 189.67L350.75 189.60L351.00 189.70L351.50 190.17L351.75 190.11L352.00 190.11L352.75 190.43L354.25 190.45L354.50 190.36L355.25 189.91L355.50 189.90L355.75 190.01L356.00 190.18L356.50 189.73L356.75 189.61L357.00 189.67L357.75 190.32L358.00 190.43L358.25 190.42L358.50 190.30L359.00 189.95L359.25 189.86L359.50 189.89L359.75 190.03L360.25 189.95L360.50 189.99L360.75 190.11L361.25 189.91L361.50 189.95L361.75 190.09L362.00 190.03L362.25 190.05L362.75 190.28L363.00 190.21L363.25 190.21L363.50 190.05L363.75 189.80L364.00 189.62L364.25 189.59L364.50 189.73L364.75 189.97L365.00 190.08L365.25 189.98L365.50 189.97L366.00 190.22L366.50 190.11L366.75 190.13L367.25 190.34L367.50 190.37L368.25 189.86L368.50 189.83L368.75 189.92L369.00 190.10L369.50 189.64L369.75 189.52L370.00 189.59L370.25 189.80L370.75 189.36L371.00 189.34L371.25 189.52L371.50 189.80L371.75 189.59L372.00 189.52L372.25 189.62L372.50 189.86L373.00 189.63L373.25 189.70L373.75 190.14L374.00 190.29L374.50 190.21L374.75 190.08L375.00 189.90L375.25 189.80L375.50 189.83L376.00 190.18L376.50 190.14L376.75 190.19L377.25 190.10L377.75 190.23L378.00 190.12L378.25 190.07L378.50 190.11L378.75 190.22L379.00 190.14L379.25 189.96L379.50 189.85L379.75 189.86L380.00 189.99L380.25 189.90L380.50 189.62L380.75 189.45L381.00 189.47L381.25 189.66L381.50 189.95L381.75 190.07L382.00 189.97L382.25 189.97L382.75 190.12L383.00 189.92L383.25 189.79L383.50 189.78L384.00 190.09L384.25 189.90L384.50 189.79L384.75 189.81L385.00 189.96L385.25 189.92L385.50 189.80L385.75 189.80L386.00 189.93L386.25 189.81L386.50 189.53L386.75 189.39L387.00 189.44L387.50 189.92L387.75 189.66L388.00 189.51L388.25 189.54L388.75 189.98L389.00 189.72L389.25 189.56L389.50 189.57L389.75 189.73L390.25 190.20L390.50 190.15L390.75 190.16L391.25 189.75L391.50 189.68L391.75 189.77L392.25 190.16L392.50 189.99L392.75 189.90L393.00 189.92L393.25 189.78L393.50 189.58L393.75 189.52L394.00 189.64L394.25 189.89L394.50 190.06L394.75 189.99L395.25 190.03L395.50 189.94L395.75 189.96L396.25 190.24L396.75 190.06L397.25 190.09L397.50 189.88L397.75 189.76L398.00 189.77L398.25 189.91L398.75 189.95L399.25 190.21L399.75 189.80L400.00 189.70L400.25 189.76L400.50 189.94L401.00 189.71L401.25 189.74L402.00 190.33L402.25 190.22L402.75 189.67L403.00 189.48L403.25 189.47L403.50 189.63L404.00 190.18L404.25 190.39L404.50 190.38L405.25 189.94L405.50 189.93L406.00 190.08L406.25 189.96L406.50 189.94L406.75 190.03L407.25 190.34L407.75 190.38L408.00 190.28L408.50 189.84L408.75 189.69L409.00 189.69L409.25 189.83L409.75 190.28L410.75 190.37L412.00 190.43L412.75 190.35L413.50 189.60L413.75 189.48L414.00 189.54L414.25 189.76L414.75 190.28L415.25 190.33L416.00 189.72L416.25 189.69L416.50 189.80L417.25 190.41L417.50 190.52L417.75 190.46L418.50 189.94L418.75 189.81L419.00 189.81L419.25 189.93L419.50 190.13L419.75 190.05L420.00 190.05L420.25 190.15L420.50 190.01L420.75 189.76L421.00 189.60L421.25 189.60L421.75 189.87L422.00 189.79L422.25 189.84L422.75 189.38L423.00 189.35L423.50 189.72L423.75 189.49L424.00 189.41L424.25 189.54L424.75 190.02L425.00 189.86L425.25 189.81L425.50 189.90L425.75 190.06L426.00 189.94L426.25 189.92L426.50 190.02L427.00 190.34L427.25 190.43L427.50 190.39L428.25 190.13L428.50 190.17L429.00 190.38L429.75 190.31L430.00 190.19L430.50 189.76L430.75 189.67L431.00 189.73L431.75 190.35L432.00 190.32L432.50 190.02L432.75 189.96L433.00 190.00L433.50 190.29L433.75 190.18L434.25 189.85L434.50 189.83L434.75 189.93L435.25 190.30L435.50 190.35L435.75 190.24L436.25 189.81L436.50 189.69L436.75 189.73L437.00 189.89L437.25 189.87L437.50 189.57L437.75 189.37L438.00 189.37L438.25 189.57L438.75 190.17L439.25 190.18L440.00 190.47L441.50 190.48L442.50 189.97L442.75 189.97L443.50 190.37L443.75 190.19L444.25 189.68L444.50 189.54L444.75 189.58L445.25 190.00L445.50 189.87L445.75 189.86L446.00 189.96L446.25 189.79L446.50 189.68L446.75 189.71L447.00 189.89L447.25 189.92L447.50 189.83L447.75 189.87L448.00 190.02L448.25 189.91L448.50 189.59L448.75 189.36L449.00 189.32L449.50 189.63L449.75 189.56L450.00 189.67L450.50 190.15L450.75 190.24L451.00 190.19L451.25 190.21L451.50 190.13L451.75 189.95L452.00 189.85L452.25 189.88L452.75 190.20L453.00 190.21L453.25 190.11L453.50 190.08L454.00 190.20L454.50 189.73L454.75 189.62L455.25 189.68L455.50 189.46L455.75 189.42L456.00 189.57L456.50 190.14L456.75 190.36L457.00 190.47L458.50 190.44L458.75 190.34L459.50 189.61L459.75 189.51L460.00 189.59L460.75 190.32L461.00 190.28L461.50 189.77L461.75 189.56L462.00 189.51L462.25 189.64L462.75 190.16L463.25 190.35L463.50 190.31L464.00 189.92L464.25 189.79L464.50 189.79L465.00 190.09L465.25 189.87L465.50 189.73L465.75 189.72L466.00 189.86L466.25 190.07L466.75 189.79L467.00 189.74L467.25 189.83L467.50 190.01L467.75 189.84L468.00 189.78L468.25 189.85L468.50 190.03L468.75 190.14L469.00 189.93L469.25 189.79L469.50 189.78L469.75 189.90L470.50 190.44L470.75 190.39L471.50 189.88L471.75 189.83L472.25 190.02L472.50 189.86L472.75 189.81L473.00 189.89L473.25 190.07L473.50 190.03L473.75 189.93L474.00 189.94L474.50 190.16L474.75 190.14L475.25 190.31L476.25 190.38L477.00 190.05L477.25 190.07L477.50 190.18L478.00 189.76L478.25 189.67L478.50 189.74L478.75 189.93L479.00 189.97L479.25 189.76L479.50 189.66L479.75 189.72L480.25 190.14L480.50 190.31L481.50 190.44L482.50 190.39L482.75 190.18L483.25 189.65L483.50 189.50L483.75 189.53L484.00 189.72L484.50 190.25L484.75 190.34L485.50 189.63L485.75 189.54L486.00 189.63L486.50 190.12L487.00 190.14L488.00 190.53L488.25 190.50L489.25 190.04L489.50 190.04L489.75 190.13L490.25 190.09L490.50 190.14L490.75 190.03L491.00 189.75L491.25 189.52L491.50 189.46L491.75 189.58L492.00 189.83L492.50 189.95L492.75 189.70L493.00 189.57L493.25 189.60L493.50 189.79L494.00 190.28L494.50 189.86L494.75 189.69L495.00 189.65L495.25 189.78L496.00 190.41L496.25 190.30L496.75 189.81L497.00 189.61L497.25 189.55L497.50 189.67L498.00 190.17L498.25 190.25L498.50 190.21L499.25 190.33L500.00 190.35L501.00 190.10L501.50 189.65L501.75 189.58L502.00 189.69L502.50 190.15L502.75 189.97L503.00 189.85L503.25 189.86L503.50 189.96L503.75 189.80L504.00 189.75L504.25 189.85L504.50 189.72L504.75 189.44L505.00 189.32L505.25 189.40L505.50 189.66L505.75 189.85L506.00 189.62L506.25 189.52L506.50 189.59L507.00 190.09L507.25 189.96L507.50 189.90L507.75 189.96L508.00 190.11L508.25 189.96L508.50 189.70L508.75 189.54L509.00 189.55L509.25 189.72L509.75 190.24L510.00 190.34L510.50 190.02L510.75 189.93L511.00 189.95L511.50 190.17L511.75 190.15L513.25 190.60L513.25 190.60Z" fill="#6cbc78" stroke="#5a9a66" stroke-width="0.35"/>
<path d="M283.2 190.60L283.25 190.60L283.50 190.53L283.75 190.40L284.00 190.08L284.25 189.53L284.50 188.81L284.75 188.16L285.00 187.90L285.25 188.16L285.50 188.81L285.75 188.94L286.00 188.64L286.25 188.72L286.50 188.87L286.75 188.02L287.00 187.46L287.25 187.50L287.50 188.11L287.75 187.45L288.00 186.49L288.25 186.24L288.50 186.83L288.75 187.95L289.00 187.48L289.25 187.14L289.50 187.47L289.75 188.07L290.00 186.61L290.25 185.49L290.50 185.27L290.75 186.08L291.00 186.31L291.25 185.24L291.50 185.16L291.75 186.11L292.00 187.59L292.25 187.46L292.50 186.90L292.75 187.06L293.00 187.84L293.25 187.91L293.50 187.78L294.00 188.68L294.25 187.57L294.50 186.72L294.75 186.55L295.00 187.17L295.25 186.79L295.50 185.31L295.75 184.61L296.00 185.09L296.25 186.48L296.50 185.87L296.75 185.89L297.00 186.26L297.25 184.75L297.50 184.19L297.75 184.89L298.00 185.14L298.25 183.59L298.50 183.28L298.75 184.38L299.00 186.31L299.25 185.04L299.50 184.63L299.75 185.38L300.00 186.89L300.25 186.30L300.50 185.18L300.75 185.04L301.00 185.96L301.25 187.06L301.50 185.71L301.75 185.11L302.00 185.59L302.25 186.88L302.50 186.35L302.75 185.34L303.00 185.31L303.25 186.27L303.50 187.71L303.75 187.51L304.00 187.59L304.25 188.23L304.50 188.63L304.75 187.69L305.00 187.10L305.25 187.17L305.50 187.87L305.75 186.77L306.00 185.44L306.25 184.94L306.75 186.19L307.00 184.97L307.25 184.74L307.50 185.65L307.75 186.98L308.00 186.44L308.25 186.72L308.50 187.65L308.75 187.19L309.00 186.66L309.25 186.90L309.50 187.77L309.75 187.52L310.00 187.03L310.25 187.24L310.50 187.78L310.75 185.89L311.00 184.19L311.25 183.50L311.50 184.21L311.75 185.92L312.00 187.41L312.25 187.27L312.50 187.78L312.75 188.56L313.00 187.90L313.25 187.70L313.50 188.06L313.75 186.66L314.00 185.36L314.25 184.93L314.50 185.62L314.75 187.03L315.00 187.96L315.25 187.48L315.50 187.61L315.75 187.47L316.00 186.23L316.25 185.64L316.50 186.02L316.75 187.17L317.00 188.50L317.25 188.29L317.50 188.50L317.75 188.54L318.00 187.38L318.25 186.51L318.50 186.37L318.75 187.04L319.00 187.32L319.25 186.63L319.50 186.68L319.75 187.45L320.00 188.53L320.25 188.35L320.50 188.62L320.75 188.65L321.00 188.17L321.25 188.14L321.50 188.58L321.75 188.45L322.00 187.87L322.25 187.77L322.50 188.22L322.75 188.97L323.00 188.46L323.25 188.09L323.50 188.22L323.75 188.76L324.00 189.03L324.25 188.59L324.50 188.51L324.75 188.83L325.00 189.38L325.25 189.08L325.50 188.99L325.75 189.22L326.25 190.05L326.50 190.35L326.75 190.50L327.00 190.60L327.00 190.60ZM330.0 190.60L330.00 190.60L330.25 190.56L330.50 190.38L330.75 189.64L331.00 187.59L331.25 183.68L331.50 178.91L331.75 176.09L332.25 178.60L332.50 173.54L332.75 174.19L333.00 179.93L333.25 176.79L333.50 176.36L333.75 179.81L334.00 184.60L334.25 188.15L334.50 189.86L334.75 190.44L335.00 190.60L335.00 190.60ZM348.2 190.60L348.25 190.60L348.50 190.48L348.75 190.04L349.00 188.62L349.25 185.46L349.50 180.76L349.75 176.79L350.00 176.36L350.25 178.60L350.50 173.54L350.75 174.19L351.00 179.93L351.25 177.73L351.50 177.33L351.75 180.55L352.00 185.01L352.25 188.32L352.50 189.91L352.75 190.45L353.00 190.60L353.00 190.60ZM353.5 190.60L353.50 190.60L354.00 190.41L354.25 190.17L354.50 189.71L354.75 188.95L355.00 187.89L355.50 185.32L355.75 184.36L356.00 184.00L356.25 184.36L356.50 185.32L356.75 186.60L357.00 187.27L357.50 184.11L357.75 182.94L358.00 182.50L358.25 182.94L358.50 184.11L359.00 187.27L359.25 186.60L359.50 185.32L359.75 184.36L360.00 184.00L360.25 184.36L360.50 185.32L360.75 186.60L361.00 187.48L361.50 184.51L361.75 183.41L362.00 183.00L362.25 183.41L362.50 184.51L363.00 187.48L363.25 187.51L363.50 186.52L363.75 185.78L364.00 185.50L364.25 185.78L364.50 186.52L365.00 188.50L365.25 189.33L365.50 189.91L365.75 190.26L366.00 190.45L366.50 190.60L366.50 190.60ZM384.2 190.60L384.25 190.60L384.75 190.47L385.00 190.28L385.25 189.94L385.75 189.09L386.00 188.92L386.25 189.09L386.50 188.97L386.75 188.02L387.00 187.29L387.25 187.14L387.50 187.66L387.75 188.44L388.00 187.30L388.25 186.49L388.50 186.45L388.75 187.18L389.00 188.31L389.25 187.89L389.50 187.84L389.75 188.32L390.25 185.63L390.50 185.07L390.75 185.60L391.00 186.92L391.25 186.88L391.50 185.48L391.75 184.88L392.00 185.40L392.25 186.76L392.50 186.88L392.75 186.61L393.00 187.13L393.25 186.05L393.50 184.72L393.75 184.41L394.00 185.30L394.50 183.28L394.75 183.68L395.00 185.28L395.25 185.22L395.50 183.89L395.75 183.79L396.25 186.13L396.50 184.58L396.75 184.01L397.00 184.73L397.25 186.35L397.50 187.01L397.75 186.57L398.00 186.92L398.25 186.96L398.50 185.39L398.75 184.54L399.00 184.87L399.25 186.19L399.50 185.14L399.75 183.09L400.00 182.19L400.25 182.94L400.50 184.92L400.75 185.97L401.00 185.80L401.25 186.56L401.50 185.78L401.75 183.46L402.00 182.00L402.25 182.18L402.50 183.89L402.75 185.11L403.00 184.41L403.25 184.92L403.50 186.37L403.75 184.25L404.00 181.91L404.25 180.92L404.50 181.84L404.75 184.15L405.00 186.73L405.25 185.61L405.50 185.10L405.75 185.66L406.00 186.35L406.25 184.38L406.50 183.18L406.75 183.41L407.00 184.47L407.25 182.44L407.50 181.76L407.75 182.82L408.00 185.03L408.25 185.48L408.50 183.82L408.75 183.30L409.00 184.20L409.25 186.04L409.75 183.73L410.00 183.86L410.25 185.23L410.50 187.12L410.75 186.00L411.00 185.34L411.50 186.06L411.75 184.41L412.00 183.73L412.25 184.41L412.50 186.05L412.75 185.36L413.00 184.06L413.25 183.96L413.50 185.12L413.75 186.80L414.00 186.10L414.25 186.27L414.75 188.11L415.00 187.12L415.25 186.66L415.50 186.96L415.75 187.87L416.00 188.12L416.25 187.88L416.50 188.18L416.75 186.83L417.00 185.83L417.25 185.69L417.50 186.49L417.75 187.80L418.00 187.24L418.25 187.27L418.50 187.92L418.75 187.20L419.00 186.89L419.25 187.31L419.50 188.23L419.75 188.32L420.00 188.13L420.25 188.42L420.75 189.69L421.00 190.17L421.25 190.43L421.50 190.55L421.75 190.60L421.75 190.60ZM437.5 190.60L437.50 190.60L438.00 190.46L438.25 190.27L438.50 189.92L438.75 189.35L439.00 188.54L439.50 186.60L439.75 185.87L440.00 185.60L440.25 185.87L440.50 186.60L441.00 188.54L441.25 189.35L441.50 189.92L441.75 189.58L442.00 188.91L442.50 187.32L442.75 186.72L443.00 186.50L443.25 186.72L443.50 187.32L444.00 188.91L444.25 189.58L444.50 190.05L444.75 190.33L445.00 190.42L445.25 189.99L445.50 188.84L445.75 186.33L446.00 181.90L446.25 175.70L446.50 169.14L446.75 164.62L447.00 164.17L447.25 167.99L447.50 174.34L447.75 180.78L448.00 175.56L448.25 165.40L448.50 156.24L448.75 152.50L449.00 156.24L449.25 165.40L449.50 175.56L449.75 180.71L450.00 178.21L450.25 177.55L450.50 179.04L450.75 181.99L451.00 185.21L451.25 187.77L451.50 186.65L452.00 182.91L452.25 181.52L452.50 181.00L452.75 181.52L453.00 182.91L453.50 186.65L453.75 188.21L454.00 186.65L454.50 182.91L454.75 181.52L455.00 181.00L455.25 181.52L455.50 182.91L456.00 186.65L456.25 187.96L456.50 186.24L457.00 182.11L457.25 180.57L457.50 180.00L457.75 180.57L458.00 182.11L458.50 186.24L458.75 187.96L459.00 185.71L459.25 181.63L459.50 176.75L459.75 172.63L460.00 171.00L460.25 172.63L460.50 176.75L460.75 180.57L461.00 172.34L461.25 163.57L461.50 158.04L461.75 158.71L462.00 165.19L462.25 174.14L462.50 181.92L462.75 186.71L463.25 181.66L463.50 180.15L463.75 180.33L464.00 182.11L464.25 184.71L464.50 187.16L464.75 188.91L465.00 187.23L465.25 183.65L465.50 178.96L465.75 174.73L466.00 173.00L466.25 174.73L466.50 178.96L466.75 183.65L467.00 187.23L467.25 187.81L467.50 186.92L467.75 186.25L468.00 186.00L468.25 186.25L468.50 186.92L469.00 188.71L469.25 189.45L469.50 189.98L469.75 189.83L470.00 189.33L470.50 188.12L470.75 187.67L471.00 187.50L471.25 187.67L471.50 188.12L472.00 189.33L472.25 189.83L472.50 190.18L472.75 190.08L473.00 189.74L473.50 188.92L473.75 188.61L474.00 188.50L474.25 188.61L474.50 188.92L475.00 189.74L475.25 190.08L475.50 190.32L475.75 190.46L476.25 190.60L476.25 190.60Z" fill="#30b430" stroke="#2a702a" stroke-width="0.42"/>
<rect x="4.20" y="197.80" width="509.20" height="2.4" fill="#f1e9ec"/>
<rect x="4.20" y="202.00" width="509.20" height="3" fill="#eefaf6"/>
<rect x="4.20" y="205.10" width="509.20" height="2.0" fill="#a2cbc0"/>
<rect x="4.20" y="208.00" width="509.20" height="7.60" fill="#ebe9d7"/>
<rect x="4.20" y="215.60" width="509.20" height="1.6" fill="#f3f4e8"/>
<rect x="177.50" y="208.00" width="0.8" height="7.60" fill="#a8a898"/>
<rect x="295.00" y="208.00" width="0.8" height="7.60" fill="#a8a898"/>
<text x="4.80" y="213.60" class="hd" textLength="37.50" lengthAdjust="spacingAndGlyphs">02_F09.fsa</text>
<text x="179.20" y="213.60" class="hd" textLength="21.60" lengthAdjust="spacingAndGlyphs">479 GB</text>
<text x="296.50" y="213.60" class="hd" textLength="65.40" lengthAdjust="spacingAndGlyphs">DS_33_3130_POP7</text>
<rect x="389.50" y="206.80" width="26.00" height="8.80" fill="#fdfdfb" stroke="#a4a49c" stroke-width="0.6"/>
<rect x="415.50" y="206.80" width="31.80" height="8.80" fill="#fdfdfb" stroke="#a4a49c" stroke-width="0.6"/>
<rect x="392.00" y="208.60" width="11.00" height="5.60" rx="1.6" fill="url(#gbtn)" stroke="#127a12" stroke-width="0.7"/>
<rect x="419.60" y="208.60" width="11.10" height="5.60" rx="1.6" fill="url(#gbtn)" stroke="#127a12" stroke-width="0.7"/>
<rect x="27.75" y="226.90" width="1.1" height="146.20" fill="#303030"/>
<rect x="28.30" y="226.75" width="485.10" height="1.3" fill="#7c7c7c"/>
<rect x="28.30" y="372.00" width="485.10" height="1.2" fill="#8c8c8c"/>
<rect x="27.70" y="226.60" width="1.2" height="1.6" fill="#222"/>
<text transform="translate(28.30 225.20) scale(0.660 0.440)" class="ax" text-anchor="middle">0</text>
<rect x="62.21" y="226.60" width="1.2" height="1.6" fill="#222"/>
<rect x="96.72" y="226.60" width="1.2" height="1.6" fill="#222"/>
<text transform="translate(97.32 225.20) scale(0.660 0.440)" class="ax" text-anchor="middle">40</text>
<rect x="131.23" y="226.60" width="1.2" height="1.6" fill="#222"/>
<rect x="165.74" y="226.60" width="1.2" height="1.6" fill="#222"/>
<text transform="translate(166.34 225.20) scale(0.660 0.440)" class="ax" text-anchor="middle">80</text>
<rect x="200.25" y="226.60" width="1.2" height="1.6" fill="#222"/>
<rect x="234.76" y="226.60" width="1.2" height="1.6" fill="#222"/>
<text transform="translate(235.36 225.20) scale(0.660 0.440)" class="ax" text-anchor="middle">120</text>
<rect x="269.27" y="226.60" width="1.2" height="1.6" fill="#222"/>
<rect x="303.78" y="226.60" width="1.2" height="1.6" fill="#222"/>
<text transform="translate(304.38 225.20) scale(0.660 0.440)" class="ax" text-anchor="middle">160</text>
<rect x="338.29" y="226.60" width="1.2" height="1.6" fill="#222"/>
<rect x="372.80" y="226.60" width="1.2" height="1.6" fill="#222"/>
<text transform="translate(373.40 225.20) scale(0.660 0.440)" class="ax" text-anchor="middle">200</text>
<rect x="407.31" y="226.60" width="1.2" height="1.6" fill="#222"/>
<rect x="441.82" y="226.60" width="1.2" height="1.6" fill="#222"/>
<text transform="translate(442.42 225.20) scale(0.660 0.440)" class="ax" text-anchor="middle">240</text>
<rect x="476.33" y="226.60" width="1.2" height="1.6" fill="#222"/>
<rect x="510.84" y="226.60" width="1.2" height="1.6" fill="#222"/>
<text transform="translate(511.44 225.20) scale(0.660 0.440)" class="ax" text-anchor="middle">280</text>
<rect x="27.00" y="239.25" width="2.6" height="1.1" fill="#222"/>
<text transform="translate(24.90 241.60) scale(0.660 0.440)" class="ax" text-anchor="end">1200</text>
<rect x="27.00" y="261.20" width="2.6" height="1.1" fill="#222"/>
<text transform="translate(24.90 263.55) scale(0.660 0.440)" class="ax" text-anchor="end">1000</text>
<rect x="27.00" y="283.15" width="2.6" height="1.1" fill="#222"/>
<text transform="translate(24.90 285.50) scale(0.660 0.440)" class="ax" text-anchor="end">800</text>
<rect x="27.00" y="305.10" width="2.6" height="1.1" fill="#222"/>
<text transform="translate(24.90 307.45) scale(0.660 0.440)" class="ax" text-anchor="end">600</text>
<rect x="27.00" y="327.05" width="2.6" height="1.1" fill="#222"/>
<text transform="translate(24.90 329.40) scale(0.660 0.440)" class="ax" text-anchor="end">400</text>
<rect x="27.00" y="349.00" width="2.6" height="1.1" fill="#222"/>
<text transform="translate(24.90 351.35) scale(0.660 0.440)" class="ax" text-anchor="end">200</text>
<rect x="27.00" y="370.95" width="2.6" height="1.1" fill="#222"/>
<text transform="translate(24.90 373.30) scale(0.660 0.440)" class="ax" text-anchor="end">0</text>
<rect x="27.10" y="250.28" width="2.4" height="1" fill="#333"/>
<rect x="27.10" y="272.23" width="2.4" height="1" fill="#333"/>
<rect x="27.10" y="294.18" width="2.4" height="1" fill="#333"/>
<rect x="27.10" y="316.12" width="2.4" height="1" fill="#333"/>
<rect x="27.10" y="338.08" width="2.4" height="1" fill="#333"/>
<rect x="27.10" y="360.03" width="2.4" height="1" fill="#333"/>
<text x="40.50" y="254.40" class="tc" textLength="118.50" lengthAdjust="spacingAndGlyphs">TCRG Tube B</text>
<path d="M118.5 370.80L118.50 370.80L120.25 370.41L120.50 370.26L120.75 370.17L121.00 370.19L121.50 370.46L121.75 370.43L122.50 369.45L122.75 369.33L123.00 369.46L123.25 369.77L123.50 369.99L123.75 369.71L124.00 369.58L124.25 369.65L124.50 369.88L124.75 369.99L125.00 369.94L125.25 370.04L125.75 370.44L126.25 370.56L127.00 370.48L127.25 370.35L127.75 369.72L128.00 369.51L128.25 369.50L128.50 369.70L128.75 370.02L129.25 369.58L129.50 369.53L129.75 369.68L130.25 370.29L130.50 370.32L130.75 370.28L131.25 369.74L131.50 369.63L131.75 369.71L132.00 369.95L132.25 369.95L132.50 369.62L132.75 369.41L133.00 369.43L133.50 369.87L133.75 369.84L134.00 369.96L134.25 370.18L134.50 370.15L134.75 370.01L135.00 370.00L135.25 370.12L135.50 370.12L136.00 369.91L136.25 369.55L136.50 369.33L136.75 369.34L137.00 369.59L137.25 369.95L137.50 370.14L137.75 369.97L138.00 369.93L138.25 370.02L138.50 369.66L138.75 369.40L139.00 369.36L139.25 369.55L139.50 369.89L139.75 369.57L140.00 369.40L140.25 369.45L140.50 369.71L140.75 370.06L141.00 370.15L141.25 370.01L141.50 370.00L141.75 370.12L142.00 370.07L142.25 369.89L142.50 369.85L142.75 369.96L143.25 370.41L143.50 370.44L144.00 369.84L144.25 369.58L144.50 369.50L144.75 369.64L145.25 370.25L145.50 370.51L145.75 370.57L146.25 370.38L146.50 370.35L146.75 370.40L147.00 370.32L147.25 370.15L147.50 370.05L147.75 370.08L148.00 369.78L148.25 369.41L148.50 369.21L148.75 369.28L149.00 369.57L149.25 369.97L149.50 370.14L149.75 370.21L150.00 369.96L150.25 369.81L150.50 369.81L150.75 369.97L151.00 370.22L151.50 370.26L152.00 370.48L152.50 370.29L152.75 370.31L153.00 370.10L153.25 369.74L153.50 369.45L153.75 369.35L154.00 369.50L154.50 370.17L154.75 370.22L155.25 369.66L155.50 369.58L155.75 369.69L156.25 370.26L156.50 370.43L156.75 370.42L157.25 370.57L158.50 370.70L158.75 370.61L159.00 370.39L159.50 369.72L159.75 369.44L160.00 369.37L160.25 369.54L160.50 369.86L160.75 370.09L161.00 369.81L161.25 369.64L161.50 369.66L161.75 369.86L162.25 370.42L162.50 370.60L162.75 370.37L163.25 369.65L163.50 369.35L163.75 369.26L164.00 369.42L164.50 370.15L164.75 370.20L165.00 370.14L165.25 370.20L165.50 370.34L165.75 370.24L166.00 369.99L166.25 369.83L166.50 369.82L166.75 369.97L167.25 370.44L167.50 370.36L168.00 370.36L168.25 370.20L168.50 370.10L168.75 370.11L169.00 370.23L169.50 370.19L169.75 370.26L170.25 370.48L170.75 370.28L171.00 370.28L171.50 370.50L172.25 369.66L172.50 369.55L172.75 369.64L173.25 370.21L173.50 370.24L174.00 369.49L174.25 369.26L174.50 369.27L174.75 369.53L175.25 370.28L175.50 370.47L176.00 370.59L176.25 370.40L176.75 369.89L177.00 369.73L177.25 369.75L177.50 369.93L178.00 370.45L178.25 370.63L179.00 370.40L180.00 370.66L180.50 370.58L180.75 370.36L181.25 369.77L181.50 369.58L181.75 369.59L182.00 369.80L182.50 369.27L182.75 369.24L183.00 369.47L183.50 370.22L183.75 370.41L184.75 370.71L185.75 370.41L186.25 370.40L186.75 369.77L187.00 369.53L187.25 369.48L187.50 369.64L188.00 370.27L188.25 370.53L188.50 370.61L189.25 370.41L189.75 370.50L190.00 370.44L190.25 369.75L190.50 367.87L190.75 364.44L191.00 360.05L191.25 356.65L191.50 356.29L191.75 354.99L192.00 351.00L192.25 351.49L192.50 356.13L192.75 359.06L193.00 358.00L193.25 359.06L193.50 361.75L193.75 364.94L194.00 367.61L194.25 369.34L194.50 369.36L194.75 369.52L195.00 369.85L195.25 369.79L195.50 369.58L195.75 369.55L196.00 369.73L196.25 370.03L196.50 370.18L196.75 370.04L197.00 370.02L197.25 370.12L197.75 370.46L198.00 370.49L198.25 370.27L198.75 369.58L199.00 369.38L199.25 369.41L199.50 369.65L200.00 370.34L200.50 370.26L200.75 370.32L201.00 370.13L201.25 369.81L201.50 369.58L201.75 369.53L202.00 369.69L202.25 369.99L202.50 369.72L202.75 369.52L203.00 369.53L203.25 369.73L203.50 370.05L203.75 369.83L204.00 369.75L204.25 369.85L204.75 370.33L205.00 370.40L205.25 370.37L205.50 370.42L205.75 370.23L206.25 369.50L206.50 369.29L206.75 369.32L207.00 369.57L207.25 369.30L207.50 369.26L207.75 369.47L208.00 369.84L208.25 370.12L208.50 369.87L208.75 369.74L209.00 369.78L209.50 369.39L209.75 369.40L210.00 369.63L210.25 369.35L210.50 369.25L210.75 369.41L211.25 370.13L211.50 370.44L211.75 370.39L212.25 369.91L212.50 369.79L212.75 369.83L213.00 370.02L213.25 369.91L213.50 369.67L213.75 369.61L214.00 369.74L214.50 370.30L214.75 370.49L215.00 370.02L215.25 369.14L215.50 367.86L215.75 366.42L216.00 365.31L216.25 365.02L216.50 364.55L216.75 363.24L217.00 363.11L217.25 364.22L217.75 367.94L218.00 369.35L218.25 369.84L218.50 369.53L218.75 369.40L219.00 369.49L219.25 369.78L219.50 369.68L219.75 369.44L220.00 369.41L220.50 369.86L220.75 369.73L221.25 369.86L221.50 369.54L221.75 369.38L222.00 369.45L222.25 369.73L222.50 370.08L222.75 370.15L223.00 370.05L223.25 370.08L224.00 370.56L224.75 369.92L225.00 369.85L225.25 369.94L225.50 369.93L225.75 369.61L226.00 369.43L226.25 369.47L226.50 369.72L227.00 370.37L227.25 370.50L228.00 369.68L228.25 369.57L228.50 369.67L229.25 370.48L229.50 370.62L229.75 370.42L230.25 369.80L230.50 369.55L230.75 369.48L231.00 369.63L231.25 369.93L231.75 369.99L232.00 369.97L232.25 369.69L232.50 369.54L232.75 369.61L233.00 369.85L233.50 370.43L233.75 370.25L234.25 369.51L234.50 369.28L234.75 369.29L235.00 369.54L235.50 370.28L235.75 370.31L236.25 369.64L236.50 369.41L236.75 369.41L237.00 369.63L237.25 369.97L237.50 370.16L237.75 370.11L238.00 370.17L238.25 370.31L238.75 369.72L239.00 369.57L239.50 369.65L239.75 369.43L240.00 369.42L240.25 369.63L240.75 370.30L241.25 370.44L241.50 370.39L241.75 370.23L242.00 370.13L242.25 370.14L243.00 370.58L244.00 370.64L244.75 370.52L245.25 370.15L245.50 370.02L245.75 370.03L246.00 370.15L246.50 369.95L246.75 369.96L247.25 370.26L247.75 369.74L248.00 369.66L248.25 369.77L248.75 370.30L249.25 370.35L249.50 370.16L249.75 370.04L250.00 370.04L250.25 370.15L250.50 370.34L251.00 370.04L251.25 370.04L251.50 370.16L251.75 370.35L252.50 370.54L253.00 370.29L253.25 370.23L253.50 370.27L253.75 370.15L254.25 369.41L254.50 369.23L254.75 369.31L255.00 369.61L255.25 370.00L255.50 369.80L255.75 369.72L256.00 369.82L256.50 370.32L257.00 370.30L257.50 370.48L258.00 370.13L258.25 370.05L258.50 370.10L259.00 370.44L259.50 370.33L259.75 370.32L260.00 370.39L260.25 370.21L260.75 369.64L261.00 369.54L261.25 369.65L261.75 370.23L262.00 370.12L262.25 370.10L262.50 369.96L262.75 369.69L263.00 369.57L263.25 369.65L263.50 369.89L263.75 369.86L264.00 369.74L264.25 369.80L264.75 370.28L265.00 370.22L265.50 369.62L265.75 369.51L266.25 369.64L266.50 369.40L266.75 369.38L267.00 369.58L267.25 369.93L267.75 369.89L268.00 370.01L268.25 370.02L268.50 369.84L268.75 369.82L269.00 369.95L269.25 370.18L269.50 370.16L269.75 370.21L270.25 370.51L270.50 370.57L271.25 370.56L272.00 370.28L272.25 370.30L272.75 370.51L273.00 370.23L273.50 369.51L273.75 369.30L274.00 369.33L274.25 369.60L274.50 369.97L275.00 369.56L275.25 369.53L275.50 369.71L275.75 370.01L276.25 369.36L276.50 369.28L276.75 369.44L277.00 369.78L277.25 369.87L277.50 369.90L277.75 370.06L278.00 370.09L278.25 369.92L278.50 369.89L278.75 370.00L279.00 370.21L279.25 370.03L279.50 369.74L279.75 369.59L280.00 369.64L280.25 369.86L280.75 370.43L281.00 370.62L281.25 370.61L281.50 370.47L282.00 369.96L282.25 369.77L282.50 369.73L282.75 369.86L283.00 370.11L283.25 370.05L283.50 369.86L283.75 369.82L284.00 369.93L284.50 370.40L285.00 370.32L285.25 370.35L285.50 370.45L285.75 370.43L286.25 370.17L286.50 370.16L286.75 370.22L287.25 369.54L287.50 369.37L287.75 369.44L288.00 369.71L288.50 370.36L288.75 370.31L289.25 370.41L289.50 370.31L290.00 370.28L290.50 369.52L290.75 369.25L291.00 369.23L291.25 369.46L291.75 370.22L292.25 370.16L292.50 370.21L293.00 369.64L293.25 369.50L293.50 369.57L293.75 369.82L294.00 370.14L294.50 370.20L295.00 370.50L295.25 370.45L295.75 369.92L296.00 369.73L296.25 369.70L296.50 369.86L296.75 370.12L297.00 370.30L297.25 370.22L297.50 370.24L297.75 370.34L298.00 370.33L298.50 369.87L298.75 369.80L299.00 369.90L299.75 370.56L300.00 370.69L300.75 370.80L300.75 370.80Z" fill="#1010e0" stroke="#2a2a78" stroke-width="0.42"/>
<rect x="221.30" y="228.00" width="0.80" height="142.80" fill="#3a3a72"/>
<path d="M218.4 370.80L218.40 370.38L218.65 369.78L218.90 368.50L219.15 366.02L219.40 361.59L219.65 354.37L219.90 343.67L220.15 329.33L220.40 312.11L220.65 293.92L220.90 277.56L221.15 266.12L221.40 262.00L221.65 266.12L221.90 272.23L222.15 263.50L222.40 262.67L222.65 269.92L222.90 274.60L223.15 275.34L223.40 283.10L223.65 296.22L224.15 328.01L224.40 341.93L224.65 352.77L224.90 360.37L225.15 365.22L225.40 368.03L225.65 369.53L225.90 370.26L225.90 370.80Z" fill="#8a8ac0"/>
<path d="M218.4 370.80L218.40 370.80L220.20 370.80L220.40 368.22L220.60 307.23L220.80 279.33L221.00 277.36L221.60 277.33L221.80 274.57L222.00 274.23L222.60 274.23L222.80 274.57L223.00 283.54L223.20 286.45L223.40 286.48L223.60 288.26L223.80 313.43L224.00 368.47L224.20 370.80L225.80 370.80L225.80 370.80Z" fill="#1010e0" stroke="#1c1c90" stroke-width="0.3"/>
<line x1="221.70" y1="262.40" x2="221.70" y2="294.64" stroke="#2a2a78" stroke-width="0.75"/>
<line x1="222.60" y1="262.40" x2="222.60" y2="294.64" stroke="#2a2a78" stroke-width="0.75"/>
<line x1="223.30" y1="274.40" x2="223.30" y2="303.04" stroke="#2a2a78" stroke-width="0.75"/>
<path d="M223.9 370.80L223.90 370.74L224.15 370.65L224.40 370.47L224.65 370.11L224.90 369.46L225.15 368.41L225.40 366.86L225.65 364.78L225.90 362.28L226.15 359.63L226.40 357.26L226.65 355.60L226.90 355.00L227.15 355.60L227.40 357.26L227.65 359.63L227.90 358.14L228.15 355.20L228.40 353.02L228.65 352.03L228.90 352.46L229.15 354.21L229.40 356.91L229.65 358.54L229.90 354.99L230.15 351.91L230.40 349.92L230.65 349.43L230.90 350.56L231.15 353.05L231.40 356.38L231.65 356.20L231.90 352.54L232.15 349.66L232.40 348.14L232.65 348.31L232.90 350.14L233.15 353.23L233.40 356.97L233.65 352.99L233.90 349.20L234.15 346.55L234.40 345.60L234.65 346.55L234.90 349.20L235.15 352.99L235.40 349.09L235.65 343.22L235.90 338.37L236.15 335.49L236.40 335.22L236.65 337.61L236.90 342.13L237.15 342.41L237.40 334.18L237.65 327.07L237.90 322.46L238.15 321.33L238.40 323.93L238.65 329.69L238.90 337.42L239.15 333.48L239.40 324.12L239.65 316.75L239.90 312.86L240.15 313.30L240.40 317.98L240.65 325.88L241.15 345.03L241.40 345.26L241.65 342.13L241.90 341.00L242.15 342.13L242.40 345.26L242.65 349.69L242.90 342.28L243.15 335.13L243.40 329.49L243.65 326.52L243.90 326.86L244.15 330.44L244.40 336.48L244.65 343.78L244.90 341.09L245.15 335.32L245.40 331.58L245.65 330.66L245.90 332.77L246.15 337.45L246.40 343.72L246.65 347.50L246.90 341.65L247.15 337.05L247.40 334.62L247.65 334.90L247.90 337.82L248.15 342.76L248.40 348.72L248.65 351.75L248.90 345.06L249.15 338.61L249.40 333.53L249.65 330.85L249.90 331.15L250.15 334.38L250.40 339.83L250.65 346.42L250.90 342.87L251.15 337.44L251.40 333.92L251.65 333.06L251.90 335.04L252.15 339.44L252.40 345.34L252.65 342.24L252.90 340.19L253.15 340.42L253.40 342.90L253.65 347.07L253.90 348.69L254.15 345.98L254.40 345.00L254.65 345.98L254.90 348.69L255.15 352.57L255.40 356.88L255.65 360.97L255.90 361.95L256.15 359.21L256.40 356.75L256.65 355.02L256.90 354.40L257.15 355.02L257.40 356.75L257.65 359.21L257.90 361.95L258.15 360.15L258.40 358.47L258.65 357.58L258.90 357.68L259.15 358.75L259.40 360.55L259.90 364.92L260.15 366.27L260.65 363.15L260.90 361.95L261.15 361.31L261.40 361.38L261.65 362.15L261.90 363.44L262.15 365.01L262.40 365.35L262.65 364.50L262.90 364.04L263.15 364.09L263.40 364.64L263.65 365.56L264.15 367.79L264.40 367.16L264.65 366.58L264.90 366.28L265.15 366.31L265.40 366.68L265.65 367.29L266.15 368.79L266.40 369.44L266.65 368.67L266.90 367.59L267.40 365.04L267.65 363.92L267.90 363.19L268.15 363.01L268.40 363.42L268.65 364.33L268.90 365.55L269.15 366.85L269.40 368.05L269.65 369.03L269.90 368.73L270.15 368.33L270.40 368.07L270.65 368.00L270.90 368.15L271.15 368.48L271.40 368.91L271.65 369.13L271.90 369.01L272.15 369.02L272.40 369.17L273.65 370.46L274.90 370.79L274.90 370.80Z" fill="#8a8ac0"/>
<path d="M223.9 370.80L223.90 370.80L225.50 370.80L225.70 370.16L225.90 364.56L226.10 358.03L226.30 355.34L226.50 354.70L226.70 354.60L228.30 354.63L228.50 354.94L228.70 356.47L228.90 361.34L229.10 368.49L229.30 370.76L229.50 370.80L230.10 370.78L230.30 368.64L230.50 359.46L230.70 352.10L230.90 349.60L231.10 349.07L231.30 348.99L232.70 349.00L232.90 349.10L233.10 349.78L233.30 352.80L233.50 360.93L233.70 369.39L233.90 370.79L234.30 370.80L234.50 370.68L234.70 364.75L234.90 348.02L235.10 337.25L235.30 333.97L235.50 333.33L235.70 333.25L237.10 333.27L237.30 333.53L237.50 335.15L237.70 341.79L237.90 357.32L238.10 369.59L238.30 370.80L239.10 370.80L239.30 370.75L239.50 365.76L239.70 346.34L239.90 331.54L240.10 326.63L240.30 325.61L240.50 325.47L241.90 325.48L242.10 325.72L242.30 327.23L242.50 333.88L242.70 351.21L242.90 368.26L243.10 370.79L243.90 370.80L244.10 370.56L244.30 362.88L244.50 345.50L244.70 335.52L244.90 332.65L245.10 332.12L245.30 332.05L246.70 332.08L246.90 332.43L247.10 334.43L247.30 342.25L247.50 358.96L247.70 370.03L247.90 370.80L248.50 370.80L248.70 370.68L248.90 364.98L249.10 349.31L249.30 339.36L249.50 336.35L249.70 335.77L249.90 335.69L251.30 335.72L251.50 335.97L251.70 337.52L251.90 343.82L252.10 358.42L252.30 369.73L252.50 370.80L252.90 370.80L253.10 370.75L253.30 367.49L253.50 356.55L253.70 348.85L253.90 346.40L254.10 345.90L254.30 345.84L255.70 345.85L255.90 345.99L256.10 346.93L256.30 350.93L256.50 360.85L256.70 369.70L256.90 370.80L257.50 370.79L257.70 369.81L257.90 364.47L258.10 359.64L258.30 357.90L258.50 357.51L260.30 357.51L260.50 357.86L260.70 359.49L260.90 364.14L261.10 369.64L261.30 370.79L262.30 370.80L262.50 370.20L262.70 367.61L262.90 365.52L263.10 364.80L263.30 364.65L265.10 364.66L265.30 364.85L265.50 365.70L265.70 367.99L265.90 370.39L266.10 370.80L267.10 370.79L267.30 370.09L267.50 368.00L267.70 366.61L267.90 366.18L268.10 366.10L269.90 366.12L270.10 366.31L270.30 367.11L270.50 369.04L270.70 370.63L270.90 370.80L274.90 370.80L274.90 370.80Z" fill="#1010e0" stroke="#1c1c90" stroke-width="0.3"/>
<line x1="227.20" y1="355.40" x2="227.20" y2="359.74" stroke="#2a2a78" stroke-width="0.75"/>
<line x1="229.00" y1="352.40" x2="229.00" y2="357.64" stroke="#2a2a78" stroke-width="0.75"/>
<line x1="230.90" y1="349.80" x2="230.90" y2="355.82" stroke="#2a2a78" stroke-width="0.75"/>
<line x1="232.80" y1="348.40" x2="232.80" y2="354.84" stroke="#2a2a78" stroke-width="0.75"/>
<line x1="234.70" y1="346.00" x2="234.70" y2="353.16" stroke="#2a2a78" stroke-width="0.75"/>
<line x1="236.60" y1="335.40" x2="236.60" y2="345.74" stroke="#2a2a78" stroke-width="0.75"/>
<line x1="238.40" y1="321.65" x2="238.40" y2="336.12" stroke="#2a2a78" stroke-width="0.75"/>
<line x1="240.30" y1="312.90" x2="240.30" y2="329.99" stroke="#2a2a78" stroke-width="0.75"/>
<line x1="242.20" y1="341.40" x2="242.20" y2="349.94" stroke="#2a2a78" stroke-width="0.75"/>
<line x1="244.05" y1="326.65" x2="244.05" y2="339.62" stroke="#2a2a78" stroke-width="0.75"/>
<line x1="245.90" y1="331.00" x2="245.90" y2="342.66" stroke="#2a2a78" stroke-width="0.75"/>
<line x1="247.80" y1="334.80" x2="247.80" y2="345.32" stroke="#2a2a78" stroke-width="0.75"/>
<line x1="250.05" y1="331.00" x2="250.05" y2="342.66" stroke="#2a2a78" stroke-width="0.75"/>
<line x1="251.90" y1="333.40" x2="251.90" y2="344.34" stroke="#2a2a78" stroke-width="0.75"/>
<line x1="253.30" y1="340.40" x2="253.30" y2="349.24" stroke="#2a2a78" stroke-width="0.75"/>
<line x1="254.70" y1="345.40" x2="254.70" y2="352.74" stroke="#2a2a78" stroke-width="0.75"/>
<line x1="257.20" y1="354.80" x2="257.20" y2="359.32" stroke="#2a2a78" stroke-width="0.75"/>
<line x1="259.05" y1="357.90" x2="259.05" y2="361.49" stroke="#2a2a78" stroke-width="0.75"/>
<line x1="261.55" y1="361.65" x2="261.55" y2="364.12" stroke="#2a2a78" stroke-width="0.75"/>
<line x1="263.30" y1="364.40" x2="263.30" y2="366.04" stroke="#2a2a78" stroke-width="0.75"/>
<line x1="265.30" y1="366.65" x2="265.30" y2="367.62" stroke="#2a2a78" stroke-width="0.75"/>
<line x1="268.40" y1="363.40" x2="268.40" y2="365.34" stroke="#2a2a78" stroke-width="0.75"/>
<line x1="270.90" y1="368.40" x2="270.90" y2="368.84" stroke="#2a2a78" stroke-width="0.75"/>
<line x1="272.30" y1="369.40" x2="272.30" y2="369.54" stroke="#2a2a78" stroke-width="0.75"/>
<path d="M285.7 370.80 L286.6 262 L287.4 258.2 L288.4 258.2 L289.0 270 L289.6 370.80 Z" fill="#8a8ab2"/>
<rect x="287.3" y="296" width="1.3" height="44" fill="#1a1ac8"/>
<rect x="286.9" y="340" width="2.2" height="30.80" fill="#3a3a9a"/>
<line x1="288.1" y1="258" x2="288.1" y2="370.80" stroke="#34346e" stroke-width="0.6"/>
<path d="M310.8 370.80L310.75 370.78L311.50 370.59L311.75 370.39L312.00 370.08L312.25 369.60L312.50 368.97L313.00 367.41L313.25 366.69L313.50 366.18L313.75 366.00L314.00 366.18L314.25 366.69L314.50 367.41L315.00 368.97L315.25 369.47L315.50 368.61L315.75 367.45L316.00 366.05L316.25 364.58L316.50 363.26L316.75 362.33L317.00 362.00L317.25 362.33L317.50 363.26L317.75 364.58L318.00 366.05L318.25 367.45L318.50 366.86L318.75 364.78L319.00 362.28L319.25 359.63L319.50 357.26L319.75 355.60L320.00 355.00L320.25 355.60L320.50 356.88L320.75 352.57L321.00 348.69L321.25 345.98L321.50 345.00L321.75 341.09L322.00 334.76L322.25 330.34L322.50 328.75L322.75 330.34L323.00 334.76L323.25 341.09L323.50 348.12L323.75 340.38L324.00 330.95L324.25 322.47L324.50 316.53L324.75 314.40L325.00 316.53L325.25 322.47L325.50 330.95L325.75 340.38L326.00 349.30L326.25 356.74L326.50 360.41L326.75 361.54L327.00 361.42L327.25 358.12L327.50 354.95L327.75 352.44L328.00 351.12L328.25 351.27L328.50 352.86L328.75 355.55L329.00 354.73L329.25 349.74L329.50 345.26L329.75 342.13L330.00 341.00L330.25 342.13L330.50 345.26L330.75 349.74L331.00 347.87L331.25 341.68L331.50 336.55L331.75 333.52L332.00 333.23L332.25 335.75L332.50 340.53L332.75 346.60L333.00 350.80L333.25 346.55L333.50 343.57L333.75 342.50L334.00 343.57L334.25 346.55L334.50 350.80L334.75 355.53L335.00 360.01L335.25 358.23L335.50 354.34L335.75 350.83L336.00 348.38L336.25 347.50L336.50 348.38L336.75 350.83L337.00 354.34L337.25 358.23L337.50 360.49L337.75 356.21L338.00 351.69L338.25 347.62L338.50 344.77L338.75 343.75L339.00 344.77L339.25 347.62L339.50 349.69L339.75 342.28L340.00 335.13L340.25 329.49L340.50 326.52L340.75 326.86L341.00 330.44L341.25 331.94L341.50 319.89L341.75 309.05L342.00 301.48L342.25 298.75L342.50 301.48L342.75 309.05L343.00 319.89L343.25 331.94L343.50 329.62L343.75 328.00L344.00 329.62L344.25 334.12L344.50 340.56L344.75 340.00L345.00 341.17L345.25 344.40L345.50 349.04L345.75 354.19L346.00 359.06L346.25 363.12L346.50 364.41L346.75 363.85L347.00 363.79L347.25 364.26L347.50 365.15L348.00 367.46L348.25 368.51L348.50 369.35L348.75 369.07L349.25 367.58L349.50 366.90L349.75 366.42L350.00 366.25L350.25 366.42L350.50 366.90L350.75 367.58L351.25 369.07L351.50 369.67L351.75 370.11L352.00 370.41L352.25 370.60L353.75 370.00L356.25 370.78L356.75 370.80L356.75 370.80Z" fill="#8a8ac0"/>
<path d="M310.8 370.80L310.75 370.80L313.55 370.80L313.75 370.75L313.95 369.19L314.15 365.60L314.35 363.53L314.55 362.93L314.75 362.82L316.35 362.81L316.55 362.88L316.75 363.29L316.95 364.89L317.15 368.33L317.35 370.64L317.55 370.80L318.15 370.80L318.35 370.61L318.55 365.39L318.75 354.31L318.95 348.15L319.15 346.41L319.35 346.09L320.95 346.08L321.15 346.31L321.35 347.67L321.55 352.85L321.75 363.63L321.95 370.38L322.15 370.80L322.55 370.80L322.75 369.40L322.95 357.52L323.15 343.86L323.35 338.30L323.55 336.98L323.75 336.77L325.15 336.76L325.35 336.84L325.55 337.50L325.75 340.76L325.95 351.10L326.15 366.08L326.35 370.73L326.55 370.80L327.15 370.80L327.35 369.32L327.55 359.23L327.75 348.89L327.95 344.91L328.15 344.00L328.35 343.86L329.75 343.85L329.95 343.93L330.15 344.54L330.35 347.43L330.55 356.18L330.75 367.76L330.95 370.77L331.15 370.80L331.55 370.80L331.75 370.72L331.95 366.26L332.15 352.62L332.35 343.45L332.55 340.60L332.75 340.03L332.95 339.96L334.35 339.97L334.55 340.17L334.75 341.42L334.95 346.62L335.15 359.14L335.35 369.65L335.55 370.80L336.15 370.80L336.35 369.01L336.55 356.06L336.75 342.38L336.95 337.03L337.15 335.79L337.35 335.60L338.75 335.59L338.95 335.69L339.15 336.44L339.35 340.11L339.55 351.35L339.75 366.59L339.95 370.75L340.15 370.80L340.75 370.80L340.95 370.69L341.15 364.32L341.35 344.53L341.55 331.14L341.75 326.96L341.95 326.13L342.15 326.02L343.55 326.04L343.75 326.33L343.95 328.12L344.15 335.60L344.35 353.72L344.55 369.08L344.75 370.80L345.55 370.79L345.75 370.09L345.95 367.38L346.15 365.31L346.35 364.62L346.55 364.48L348.35 364.49L348.55 364.71L348.75 365.64L349.15 370.45L349.35 370.80L349.95 370.80L350.15 370.55L350.35 369.15L350.55 367.87L350.75 367.41L350.95 367.31L352.75 367.30L352.95 367.39L353.15 367.82L353.35 369.03L353.55 370.49L353.75 370.80L356.75 370.80L356.75 370.80Z" fill="#1010e0" stroke="#1c1c90" stroke-width="0.3"/>
<line x1="314.05" y1="366.40" x2="314.05" y2="367.44" stroke="#2a2a78" stroke-width="0.75"/>
<line x1="317.30" y1="362.40" x2="317.30" y2="364.64" stroke="#2a2a78" stroke-width="0.75"/>
<line x1="320.30" y1="355.40" x2="320.30" y2="359.74" stroke="#2a2a78" stroke-width="0.75"/>
<line x1="321.80" y1="345.40" x2="321.80" y2="352.74" stroke="#2a2a78" stroke-width="0.75"/>
<line x1="322.80" y1="329.15" x2="322.80" y2="341.37" stroke="#2a2a78" stroke-width="0.75"/>
<line x1="325.05" y1="314.80" x2="325.05" y2="331.32" stroke="#2a2a78" stroke-width="0.75"/>
<line x1="326.55" y1="360.40" x2="326.55" y2="363.24" stroke="#2a2a78" stroke-width="0.75"/>
<line x1="328.40" y1="351.40" x2="328.40" y2="356.94" stroke="#2a2a78" stroke-width="0.75"/>
<line x1="330.30" y1="341.40" x2="330.30" y2="349.94" stroke="#2a2a78" stroke-width="0.75"/>
<line x1="332.20" y1="333.40" x2="332.20" y2="344.34" stroke="#2a2a78" stroke-width="0.75"/>
<line x1="334.05" y1="342.90" x2="334.05" y2="350.99" stroke="#2a2a78" stroke-width="0.75"/>
<line x1="336.55" y1="347.90" x2="336.55" y2="354.49" stroke="#2a2a78" stroke-width="0.75"/>
<line x1="339.05" y1="344.15" x2="339.05" y2="351.87" stroke="#2a2a78" stroke-width="0.75"/>
<line x1="340.90" y1="326.65" x2="340.90" y2="339.62" stroke="#2a2a78" stroke-width="0.75"/>
<line x1="342.55" y1="299.15" x2="342.55" y2="320.37" stroke="#2a2a78" stroke-width="0.75"/>
<line x1="344.05" y1="328.40" x2="344.05" y2="340.84" stroke="#2a2a78" stroke-width="0.75"/>
<line x1="345.05" y1="340.40" x2="345.05" y2="349.24" stroke="#2a2a78" stroke-width="0.75"/>
<line x1="347.20" y1="364.15" x2="347.20" y2="365.87" stroke="#2a2a78" stroke-width="0.75"/>
<line x1="350.30" y1="366.65" x2="350.30" y2="367.62" stroke="#2a2a78" stroke-width="0.75"/>
<line x1="354.05" y1="370.40" x2="354.05" y2="370.24" stroke="#2a2a78" stroke-width="0.75"/>
<rect x="84.00" y="371.10" width="428.90" height="1.9" fill="#adc9b2"/>
<rect x="84.00" y="369.70" width="428.90" height="1.4" fill="#6aa876"/>
<path d="M83.70 368.20 L85.60 371.40" stroke="#3c4a44" stroke-width="0.9"/>
<path d="M83.8 370.80L83.75 370.80L84.00 370.47L84.50 370.50L85.00 370.29L85.25 370.29L85.50 370.37L86.00 370.03L86.25 369.93L86.50 369.97L87.25 370.55L87.50 370.68L88.25 370.45L88.50 370.30L89.00 369.63L89.25 369.43L89.50 369.44L90.00 369.90L90.25 369.69L90.50 369.64L90.75 369.78L91.00 370.04L91.50 369.91L92.00 370.08L92.25 369.94L92.50 369.93L92.75 370.06L93.00 370.27L93.25 370.27L93.50 370.12L93.75 370.07L94.00 370.14L94.25 370.29L94.75 369.94L95.00 369.86L95.25 369.94L95.75 369.74L96.00 369.79L96.25 369.99L96.50 370.26L96.75 370.40L97.00 370.25L97.50 369.69L97.75 369.59L98.00 369.68L98.25 369.93L98.50 369.94L98.75 369.80L99.00 369.83L99.25 370.00L99.50 370.25L100.00 369.85L100.25 369.81L100.50 369.93L101.00 370.40L101.50 370.25L101.75 370.27L102.25 370.43L102.75 370.19L103.00 370.19L103.25 370.29L103.50 370.24L104.00 369.67L104.25 369.57L104.50 369.67L105.00 370.23L105.25 370.18L105.75 369.56L106.00 369.45L106.25 369.56L106.50 369.84L106.75 370.03L107.00 369.93L107.25 369.97L107.50 370.13L107.75 370.16L108.00 370.09L108.25 370.14L108.75 370.37L109.00 370.31L109.50 370.39L110.00 370.03L110.25 369.98L110.50 370.07L110.75 370.26L111.00 370.20L111.25 369.98L111.50 369.85L111.75 369.88L112.25 370.20L112.50 369.90L112.75 369.67L113.00 369.60L113.25 369.73L113.75 370.26L114.00 370.03L114.25 369.88L114.50 369.88L114.75 369.96L115.00 369.70L115.25 369.60L115.50 369.69L115.75 369.94L116.00 370.12L116.25 369.80L116.50 369.58L116.75 369.55L117.00 369.71L117.25 370.01L117.75 369.81L118.25 369.95L118.50 369.71L118.75 369.64L119.00 369.75L119.50 370.30L119.75 370.41L120.00 370.17L120.25 369.88L120.50 369.66L120.75 369.61L121.00 369.76L121.50 370.33L121.75 370.55L122.00 370.68L122.25 370.68L122.50 370.62L123.25 370.24L123.50 370.23L124.00 370.43L124.25 370.39L124.50 370.42L124.75 370.30L125.25 369.72L125.50 369.58L125.75 369.64L126.00 369.88L126.75 369.99L127.00 369.82L127.25 369.81L127.50 369.95L128.00 369.60L128.25 369.59L128.50 369.77L129.00 370.34L129.25 370.18L129.50 370.10L129.75 370.13L130.25 370.44L130.50 370.49L131.00 370.37L131.25 370.25L131.50 370.06L131.75 369.96L132.00 370.00L132.50 370.37L132.75 370.51L133.25 370.10L133.50 369.97L133.75 369.96L134.00 370.09L134.75 370.65L135.00 370.64L135.75 370.37L136.00 370.37L136.25 370.45L136.50 370.23L137.00 369.65L137.25 369.54L137.50 369.65L138.00 370.22L138.25 370.16L138.75 370.29L139.00 370.07L139.25 369.92L139.50 369.91L139.75 370.05L140.00 370.27L140.25 370.11L140.50 370.02L140.75 370.06L141.00 370.17L141.25 369.84L141.50 369.58L141.75 369.48L142.00 369.61L142.50 370.22L143.00 370.22L143.50 370.47L143.75 370.51L144.00 370.47L144.25 370.23L144.75 369.59L145.00 369.44L145.25 369.51L145.50 369.77L145.75 370.11L146.25 370.04L146.75 370.25L147.00 370.22L147.25 370.29L148.00 370.68L148.25 370.59L149.00 370.00L149.25 369.92L149.75 370.04L150.00 369.93L150.25 369.96L150.50 370.11L150.75 370.04L151.00 369.88L151.25 369.86L151.50 369.99L151.75 370.01L152.00 369.84L152.25 369.82L152.50 369.96L153.00 370.43L153.25 370.55L154.00 369.92L154.25 369.85L154.50 369.95L155.00 370.39L155.25 370.51L155.75 370.46L156.00 370.38L156.50 370.02L156.75 369.97L157.00 370.07L157.25 370.25L157.50 370.31L157.75 370.29L158.25 370.39L158.50 370.30L158.75 370.29L159.25 370.48L159.75 370.38L160.00 370.40L160.50 369.88L160.75 369.73L161.00 369.76L161.25 369.94L161.50 370.02L161.75 370.02L162.00 370.14L162.25 370.33L162.50 370.45L163.00 370.34L163.50 369.81L163.75 369.68L164.00 369.73L164.25 369.95L164.75 370.48L165.00 370.39L165.50 369.93L165.75 369.82L166.00 369.88L166.50 370.32L166.75 370.36L167.25 369.83L167.50 369.65L167.75 369.66L168.00 369.85L168.25 369.87L168.50 369.65L168.75 369.61L169.00 369.77L169.50 370.33L169.75 370.35L170.00 370.24L170.50 369.67L170.75 369.56L171.00 369.66L171.75 370.49L172.00 370.40L172.50 370.09L173.00 370.08L173.25 369.82L173.50 369.68L173.75 369.72L174.00 369.93L174.50 370.46L174.75 370.55L175.00 370.38L175.50 369.84L175.75 369.68L176.00 369.71L176.50 370.05L176.75 369.79L177.00 369.67L177.25 369.74L178.00 370.49L178.25 370.29L178.75 369.78L179.00 369.69L179.25 369.78L179.75 370.29L180.50 370.38L180.75 370.26L181.00 370.21L181.25 370.25L181.75 369.65L182.00 369.51L182.25 369.59L182.50 369.85L183.00 370.45L183.25 370.53L183.50 370.29L184.00 369.71L184.25 369.57L184.50 369.64L184.75 369.87L185.00 370.18L185.25 370.35L185.50 370.23L185.75 370.19L186.25 370.34L186.75 369.72L187.00 369.53L187.25 369.53L187.50 369.74L187.75 369.87L188.00 369.76L188.25 369.82L188.75 370.24L189.00 370.02L189.25 369.89L189.50 369.90L189.75 370.05L190.00 370.28L190.25 370.42L190.50 370.40L191.00 370.53L191.50 370.45L192.00 370.06L192.25 369.98L192.50 370.03L192.75 369.99L193.00 369.75L193.25 369.67L193.50 369.77L194.00 369.54L194.25 369.61L194.50 369.86L194.75 369.91L195.00 369.63L195.25 369.51L195.50 369.60L196.00 370.07L196.25 369.77L196.50 369.57L196.75 369.57L197.00 369.76L197.50 370.36L197.75 370.58L198.00 370.71L199.00 370.56L199.75 369.95L200.00 369.87L200.25 369.94L200.75 370.32L201.00 370.23L201.25 370.23L201.75 370.42L202.25 370.02L202.50 369.94L202.75 370.01L203.25 370.40L204.00 370.55L204.50 370.24L204.75 370.14L205.00 370.15L205.50 370.43L206.00 370.32L206.50 370.30L206.75 370.13L207.00 370.05L207.25 370.10L208.00 370.59L208.50 370.57L208.75 370.37L209.25 369.75L209.50 369.54L209.75 369.53L210.00 369.73L210.25 370.03L210.50 369.92L210.75 369.70L211.00 369.65L211.50 369.97L211.75 369.92L212.00 370.01L212.75 370.60L213.00 370.71L214.00 370.42L214.50 370.45L215.00 370.22L215.50 370.25L215.75 369.98L216.00 369.77L216.25 369.72L216.50 369.84L217.25 370.56L217.50 370.58L217.75 370.35L218.25 369.70L218.50 369.47L218.75 369.46L219.00 369.66L219.50 370.31L219.75 370.55L220.00 370.68L221.00 370.36L221.25 370.38L221.50 370.45L222.00 370.31L222.25 370.33L222.50 370.43L223.00 370.05L223.25 369.98L223.50 370.05L224.00 370.42L224.25 370.53L225.25 370.63L225.50 370.46L226.00 369.98L226.25 369.82L226.50 369.82L226.75 369.97L227.25 370.45L227.50 370.58L228.25 370.28L228.50 370.31L228.75 370.26L229.25 369.77L229.50 369.71L230.00 369.99L230.25 369.76L230.50 369.68L230.75 369.78L231.25 370.31L231.50 370.22L231.75 370.20L232.00 370.28L232.25 370.26L232.50 370.14L232.75 370.11L233.00 370.20L233.25 370.36L233.50 370.34L233.75 370.23L234.00 370.22L234.50 370.43L235.00 370.17L235.25 370.17L235.50 370.26L236.00 370.06L236.25 370.08L237.25 370.69L238.25 370.21L238.50 370.22L238.75 370.32L239.00 370.14L239.25 369.81L239.50 369.56L239.75 369.49L240.00 369.64L240.25 369.88L240.50 369.62L240.75 369.54L241.00 369.67L241.50 370.26L241.75 370.47L242.00 370.43L242.75 370.63L243.25 370.63L243.50 370.50L244.00 370.05L244.25 369.90L244.50 369.89L244.75 370.02L245.00 370.24L245.50 369.78L245.75 369.69L246.00 369.78L246.25 370.02L246.50 370.04L246.75 369.83L247.00 369.77L247.25 369.88L248.00 370.57L248.25 370.66L248.75 370.72L249.00 370.61L249.25 370.43L249.75 369.91L250.00 369.74L250.25 369.74L250.50 369.91L250.75 370.17L251.00 370.25L251.50 369.68L251.75 369.57L252.00 369.66L252.75 370.48L253.00 370.65L253.25 370.72L254.25 370.60L255.00 369.97L255.25 369.86L255.50 369.91L255.75 370.09L256.00 370.02L256.25 369.70L256.50 369.49L256.75 369.50L257.00 369.70L257.25 370.03L257.50 369.79L257.75 369.68L258.25 369.87L258.50 369.73L258.75 369.77L259.00 369.97L259.25 370.02L259.50 369.84L259.75 369.81L260.00 369.93L260.50 369.75L260.75 369.83L261.50 370.53L261.75 370.67L262.50 370.16L262.75 370.03L263.00 370.02L263.25 370.14L263.75 370.52L265.25 370.46L265.50 370.34L266.00 369.85L266.25 369.75L266.50 369.82L267.00 370.30L267.50 370.31L267.75 370.41L268.25 370.31L268.50 370.33L269.25 370.63L269.50 370.44L270.00 369.81L270.25 369.53L270.50 369.44L270.75 369.57L271.00 369.87L271.25 369.85L271.50 369.75L271.75 369.83L272.00 370.02L272.25 369.86L272.50 369.85L272.75 369.99L273.00 370.22L273.50 369.89L273.75 369.87L274.00 369.99L274.25 370.21L274.75 370.12L275.25 370.19L275.50 369.88L275.75 369.63L276.00 369.55L276.25 369.67L277.00 370.51L277.25 370.33L277.75 369.72L278.00 369.54L278.25 369.55L278.50 369.77L278.75 370.08L279.00 370.22L279.25 370.18L279.50 370.25L280.00 370.54L281.75 370.56L282.75 370.34L283.25 369.90L283.50 369.83L283.75 369.92L284.25 370.37L284.50 370.46L284.75 370.40L285.00 370.39L285.50 370.46L286.00 370.23L286.25 370.23L286.75 370.39L287.25 370.03L287.50 369.98L287.75 370.08L288.25 370.46L288.50 370.45L289.00 370.16L289.25 370.13L289.50 370.21L290.00 370.53L290.50 370.58L291.00 370.38L291.25 370.35L292.00 370.61L293.00 370.59L293.75 370.16L294.00 370.13L294.25 370.22L294.50 370.38L295.00 370.15L295.25 370.17L295.50 370.28L295.75 370.17L296.00 369.89L296.25 369.69L296.50 369.66L296.75 369.82L297.00 370.09L297.25 370.20L297.50 370.13L297.75 370.16L298.00 370.29L298.50 369.73L298.75 369.60L299.00 369.67L299.25 369.91L299.50 369.91L299.75 369.78L300.00 369.82L300.25 370.00L300.50 370.25L300.75 370.32L301.00 370.19L301.25 370.15L301.50 370.21L302.00 370.48L302.50 370.49L303.00 370.04L303.25 369.88L303.50 369.87L303.75 370.01L304.00 370.23L304.50 369.74L304.75 369.61L305.00 369.67L305.25 369.90L305.75 370.46L306.00 370.56L306.25 370.59L306.75 370.54L307.00 370.41L307.50 369.84L307.75 369.64L308.00 369.61L308.25 369.78L308.75 370.36L309.00 370.48L309.75 370.54L310.00 370.54L310.50 370.37L310.75 370.37L311.00 370.24L311.25 369.99L311.50 369.81L311.75 369.79L312.00 369.93L312.75 370.61L313.00 370.63L313.75 370.39L314.00 370.41L314.50 370.09L314.75 369.99L315.00 370.03L315.75 370.56L316.00 370.65L316.75 370.25L317.00 370.19L317.25 370.23L317.75 370.51L318.25 370.48L319.00 369.58L319.25 369.46L319.50 369.56L320.00 370.12L320.25 370.04L320.50 370.08L321.00 370.42L322.00 370.66L322.50 370.63L322.75 370.44L323.25 369.84L323.50 369.60L323.75 369.53L324.00 369.67L324.25 369.63L324.50 369.48L324.75 369.56L325.00 369.82L325.25 369.85L325.50 369.72L325.75 369.77L326.00 369.98L326.25 370.25L326.50 370.44L326.75 370.39L327.25 370.42L327.75 369.99L328.00 369.89L328.25 369.94L328.75 370.34L329.00 370.48L329.50 370.44L329.75 370.32L330.25 369.68L330.50 369.48L330.75 369.49L331.00 369.71L331.25 370.04L331.50 370.15L331.75 370.06L332.00 370.08L332.25 370.22L332.75 370.11L333.00 370.21L333.50 369.84L333.75 369.80L334.00 369.93L334.25 370.17L334.50 370.16L334.75 370.03L335.00 370.02L335.25 370.14L335.75 369.90L336.00 369.95L336.75 370.56L337.25 370.58L337.50 370.44L338.00 370.01L338.25 369.89L338.50 369.92L338.75 369.78L339.00 369.55L339.25 369.51L339.50 369.67L340.00 370.29L340.50 370.44L341.00 370.05L341.25 369.96L341.50 370.02L341.75 370.18L342.00 370.09L342.25 369.93L342.50 369.90L342.75 370.02L343.25 370.40L343.50 370.36L344.25 370.60L344.50 370.62L344.75 370.43L345.25 369.93L345.50 369.76L345.75 369.77L346.25 370.07L346.50 369.85L346.75 369.76L347.00 369.85L347.50 370.33L347.75 370.43L348.00 370.27L348.50 369.70L348.75 369.58L349.00 369.66L349.50 370.10L349.75 370.12L350.00 370.05L350.25 369.82L350.50 369.72L350.75 369.81L351.25 370.30L351.75 370.37L352.00 370.30L352.25 370.13L352.50 370.04L352.75 370.08L353.25 370.42L353.75 370.31L354.00 370.33L354.75 370.65L355.75 370.65L356.00 370.49L356.50 369.98L356.75 369.77L357.00 369.71L357.25 369.84L357.75 370.35L358.00 370.56L358.25 370.54L359.00 370.22L359.25 370.24L359.50 370.33L360.00 369.84L360.25 369.68L360.50 369.69L360.75 369.88L361.00 370.16L361.25 370.12L361.50 369.99L361.75 369.99L362.25 370.28L362.50 370.24L362.75 370.29L363.25 370.08L363.50 370.07L363.75 370.19L364.25 370.54L364.50 370.50L365.25 369.77L365.50 369.71L365.75 369.82L366.25 369.68L366.50 369.77L366.75 370.00L367.00 370.01L367.25 369.69L367.50 369.49L367.75 369.50L368.00 369.72L368.25 370.04L368.75 370.04L369.00 370.16L369.25 370.21L369.50 370.01L369.75 369.92L370.00 369.96L370.50 370.32L371.00 369.89L371.25 369.84L371.50 369.95L371.75 369.86L372.00 369.65L372.25 369.61L372.50 369.76L372.75 370.04L373.00 370.04L373.25 369.96L373.50 370.02L374.25 370.58L374.50 370.70L374.75 370.59L375.50 369.98L375.75 369.88L376.00 369.93L376.25 370.11L376.50 370.20L376.75 370.09L377.00 370.08L377.25 370.19L377.75 370.54L378.75 370.69L379.00 370.67L379.25 370.53L380.00 369.94L380.25 369.90L380.50 370.02L380.75 370.22L381.00 370.07L381.25 370.01L381.50 370.08L381.75 370.25L382.00 370.10L382.25 369.80L382.50 369.59L382.75 369.57L383.00 369.75L383.25 369.79L383.50 369.69L383.75 369.78L384.50 370.52L384.75 370.67L385.75 370.47L386.25 370.12L386.50 370.05L386.75 370.10L387.25 370.44L387.50 370.44L387.75 370.36L388.00 370.35L388.25 370.42L388.50 370.35L389.00 369.90L389.25 369.83L389.50 369.91L390.00 369.62L390.25 369.63L390.50 369.83L390.75 369.91L391.00 369.63L391.25 369.50L391.50 369.59L392.00 370.08L392.25 369.86L392.50 369.76L392.75 369.84L393.00 370.01L393.25 369.77L393.50 369.67L393.75 369.76L394.00 369.99L394.25 370.12L394.50 369.83L394.75 369.63L395.00 369.61L395.50 370.00L395.75 369.80L396.00 369.74L396.25 369.86L397.00 370.57L398.75 370.57L399.00 370.43L399.50 369.97L399.75 369.83L400.00 369.85L400.25 370.02L400.50 370.26L401.00 370.21L401.25 370.27L401.50 370.40L401.75 370.46L402.00 370.39L402.25 370.38L402.50 370.30L403.00 369.82L403.25 369.74L403.50 369.83L404.25 370.54L404.50 370.56L404.75 370.46L405.25 369.98L405.50 369.82L405.75 369.81L406.00 369.96L406.25 370.20L406.50 370.30L406.75 370.29L407.00 370.36L407.50 370.05L407.75 369.97L408.00 370.02L408.50 370.40L408.75 370.39L409.25 369.87L409.50 369.72L409.75 369.74L410.00 369.93L410.25 370.19L410.50 370.16L410.75 370.23L411.25 370.51L411.50 370.51L412.00 370.28L412.25 370.23L412.50 370.28L413.25 370.66L414.75 370.68L415.50 370.27L415.75 370.18L416.25 370.24L416.50 370.00L416.75 369.84L417.00 369.83L417.25 369.98L417.50 370.22L418.00 370.31L419.00 370.75L420.25 370.47L420.75 370.17L421.00 370.14L421.25 370.21L421.75 369.94L422.00 369.96L422.25 370.11L422.50 370.33L422.75 370.46L423.25 369.98L423.50 369.81L423.75 369.80L424.00 369.95L424.25 369.86L424.50 369.71L424.75 369.73L425.00 369.92L425.25 369.78L425.50 369.54L425.75 369.51L426.00 369.68L426.50 370.30L426.75 370.36L427.25 369.82L427.50 369.67L427.75 369.70L428.00 369.90L428.25 370.19L428.50 370.36L429.00 370.22L429.25 369.99L429.50 369.86L429.75 369.87L430.00 370.04L430.25 370.27L430.50 370.22L430.75 370.04L431.00 369.97L431.25 370.03L432.00 370.59L433.25 370.66L433.50 370.57L433.75 370.35L434.25 369.74L434.50 369.56L434.75 369.57L435.00 369.78L435.25 369.56L435.50 369.44L435.75 369.54L436.00 369.82L436.25 369.85L436.50 369.69L436.75 369.71L437.00 369.90L437.25 370.16L437.50 369.83L437.75 369.57L438.00 369.49L438.25 369.62L438.75 370.23L439.00 370.40L439.50 369.78L439.75 369.54L440.00 369.48L440.25 369.65L440.75 370.28L441.00 370.42L441.75 370.66L442.25 370.64L443.00 370.34L443.50 370.31L444.00 369.69L444.25 369.51L444.50 369.55L444.75 369.77L445.00 369.83L445.25 369.77L445.50 369.87L445.75 370.09L446.00 369.95L446.25 369.71L446.50 369.63L446.75 369.74L447.00 370.00L447.25 369.72L447.50 369.53L447.75 369.54L448.00 369.75L448.25 370.06L448.50 370.23L448.75 370.23L449.00 370.08L449.25 369.83L449.50 369.71L449.75 369.77L450.00 369.98L450.25 370.25L450.50 370.43L450.75 370.35L451.25 369.88L451.50 369.79L451.75 369.87L452.00 370.07L452.25 370.03L452.50 369.85L452.75 369.81L453.00 369.93L453.25 370.16L453.75 370.12L454.00 370.18L454.25 369.94L454.50 369.81L454.75 369.84L455.25 370.16L455.50 370.16L455.75 370.27L456.00 370.26L456.25 370.03L456.50 369.88L456.75 369.87L457.00 370.01L457.50 370.46L457.75 370.50L458.00 370.43L458.50 370.00L458.75 369.90L459.00 369.95L459.25 370.12L459.50 370.12L459.75 369.82L460.00 369.61L460.25 369.60L460.50 369.77L460.75 369.87L461.00 369.62L461.25 369.55L461.50 369.68L462.00 370.27L462.25 370.36L462.50 370.33L463.25 370.60L463.50 370.48L464.25 369.59L464.50 369.46L464.75 369.56L465.00 369.83L465.25 370.02L465.50 370.03L465.75 370.16L466.50 370.67L468.00 370.60L468.50 370.53L469.00 370.14L469.25 370.00L469.50 369.99L469.75 370.11L470.25 370.48L470.75 370.60L471.00 370.61L472.00 370.51L472.50 370.25L472.75 370.21L473.00 370.27L473.25 370.40L473.75 370.03L474.00 369.95L474.25 370.02L474.50 370.20L474.75 370.31L475.00 370.14L475.25 370.05L475.50 370.09L476.00 370.42L476.25 370.28L476.75 369.75L477.00 369.64L477.25 369.73L478.00 370.50L478.25 370.66L478.50 370.68L482.00 370.52L482.25 370.42L482.75 370.02L483.00 369.94L483.25 370.00L483.50 370.18L484.00 369.80L484.25 369.74L484.50 369.85L485.00 370.35L485.25 370.38L485.50 370.32L485.75 370.34L486.00 370.43L486.50 370.22L486.75 370.18L487.00 370.05L487.25 369.78L487.50 369.64L487.75 369.68L488.00 369.90L488.25 369.97L488.50 369.74L488.75 369.66L489.00 369.77L489.25 370.01L489.75 370.06L490.00 370.17L490.25 370.04L490.50 369.84L490.75 369.78L491.00 369.89L491.50 370.32L491.75 370.35L492.50 370.67L492.75 370.55L493.50 369.86L493.75 369.77L494.00 369.85L494.25 370.06L494.75 369.90L495.00 369.94L495.75 370.52L496.00 370.43L496.50 369.79L496.75 369.50L497.00 369.41L497.25 369.54L497.75 370.19L498.25 370.26L498.50 370.39L498.75 370.40L499.25 369.79L499.50 369.55L499.75 369.51L500.00 369.67L500.25 369.98L500.50 369.85L500.75 369.63L501.00 369.58L501.25 369.74L501.75 370.28L502.00 370.07L502.25 369.95L502.50 369.97L502.75 370.12L503.00 370.33L503.25 370.26L503.50 370.10L503.75 370.05L504.00 370.12L504.25 369.90L504.50 369.61L504.75 369.47L505.00 369.56L505.50 370.05L505.75 369.73L506.00 369.51L506.25 369.49L506.50 369.69L506.75 370.00L507.00 369.80L507.25 369.72L507.50 369.82L507.75 369.84L508.00 369.54L508.25 369.40L508.50 369.50L508.75 369.78L509.25 370.43L509.75 370.40L510.50 370.63L510.75 370.57L511.00 370.45L511.50 369.96L511.75 369.81L512.00 369.81L512.25 369.97L512.75 370.46L513.25 370.80L513.25 370.80Z" fill="#6cbc78" stroke="#5a9a66" stroke-width="0.35"/>
<path d="M193.0 370.80L193.00 370.80L193.25 370.75L193.50 370.60L193.75 370.22L194.00 369.34L194.25 367.72L194.50 365.33L194.75 362.65L195.00 360.58L195.25 360.04L195.50 361.27L195.75 359.93L196.00 358.75L196.25 359.93L196.50 362.83L196.75 366.04L197.00 364.56L197.25 360.35L197.50 356.55L197.75 355.00L198.00 356.55L198.25 360.35L198.50 361.27L198.75 360.04L199.00 360.58L199.25 362.65L199.50 365.33L199.75 367.72L200.00 369.34L200.25 370.22L200.50 370.60L200.75 370.75L201.00 370.80L201.00 370.80ZM218.0 370.80L218.00 370.80L218.50 370.66L218.75 370.48L219.00 370.15L219.25 369.60L219.50 368.83L220.00 366.96L220.25 366.26L220.50 366.00L220.75 366.26L221.00 366.96L221.25 367.89L221.50 368.00L222.00 365.35L222.25 364.37L222.50 364.00L222.75 364.37L223.00 365.35L223.50 368.00L223.75 369.10L224.00 369.88L224.25 370.35L224.50 370.61L224.75 370.63L225.00 370.37L225.25 369.92L225.75 368.78L226.00 368.56L226.25 368.78L226.50 369.32L226.75 369.77L227.00 369.43L227.25 369.33L227.50 369.51L227.75 369.53L228.00 368.95L228.25 368.61L228.50 368.69L228.75 369.05L229.00 368.07L229.25 367.33L229.50 367.21L229.75 367.78L230.00 367.09L230.25 366.62L230.50 366.97L231.00 368.89L231.25 368.22L231.50 367.95L231.75 368.25L232.00 368.84L232.25 367.55L232.50 366.42L232.75 366.00L233.00 366.51L233.25 367.69L233.50 367.81L233.75 367.21L234.00 367.30L234.25 368.03L234.50 368.00L234.75 367.02L235.00 366.64L235.25 367.07L235.50 368.09L235.75 367.54L236.00 366.35L236.25 365.86L236.50 366.34L236.75 367.53L237.00 368.17L237.25 367.71L237.50 367.84L237.75 368.50L238.00 368.83L238.25 368.03L238.50 367.63L238.75 367.85L239.00 368.57L239.25 368.52L239.50 367.88L239.75 367.76L240.00 368.23L240.25 368.57L240.50 367.36L240.75 366.49L241.00 366.41L241.25 367.16L241.50 368.34L241.75 368.29L242.00 367.96L242.25 368.18L242.50 368.84L243.00 366.76L243.25 366.38L243.50 366.88L243.75 367.97L244.00 368.50L244.25 367.90L244.50 367.84L244.75 368.33L245.00 368.33L245.25 367.47L245.50 367.16L245.75 367.56L246.00 368.32L246.25 367.46L246.50 367.14L247.00 367.95L247.25 366.65L247.50 365.88L247.75 366.06L248.00 367.08L248.25 368.43L248.50 368.65L248.75 368.54L249.00 368.86L249.25 369.36L249.50 368.58L249.75 368.02L250.00 367.96L250.25 368.45L250.50 368.68L250.75 368.13L251.00 368.07L251.25 368.53L251.50 368.51L251.75 367.71L252.00 367.41L252.25 367.78L252.50 368.61L253.00 366.93L253.25 366.76L253.50 367.37L253.75 368.43L254.00 367.46L254.25 366.83L254.50 366.97L254.75 367.79L255.00 368.68L255.25 368.08L255.50 367.96L255.75 368.39L256.00 368.96L256.25 368.56L256.50 368.59L256.75 369.02L257.00 369.07L257.25 368.61L257.50 368.55L257.75 368.91L258.00 369.42L258.25 368.69L258.50 368.18L258.75 368.16L259.00 368.63L259.25 368.56L259.50 368.36L259.75 368.63L260.00 369.23L260.25 368.89L260.50 368.49L260.75 368.52L261.00 368.98L261.25 369.61L261.50 369.59L261.75 369.69L262.00 369.95L262.25 369.50L262.50 369.19L262.75 369.17L263.00 369.47L263.25 369.90L263.50 369.47L263.75 369.19L264.00 369.23L264.25 369.55L264.50 369.68L264.75 369.32L265.00 369.19L265.25 369.39L265.50 369.79L265.75 369.97L266.00 369.89L266.25 369.99L266.50 370.21L266.75 370.28L267.00 370.12L267.25 370.06L267.50 370.15L268.25 370.67L268.75 370.80L268.75 370.80ZM297.5 370.80L297.50 370.80L298.00 370.66L298.25 370.48L298.50 370.15L298.75 369.60L299.00 368.83L299.50 366.96L299.75 366.26L300.00 366.00L300.25 366.26L300.50 366.96L300.75 367.89L301.00 368.00L301.50 365.35L301.75 364.37L302.00 364.00L302.25 364.37L302.50 365.35L303.00 368.00L303.25 367.28L303.50 366.16L303.75 365.31L304.00 365.00L304.25 365.31L304.50 366.16L304.75 367.28L305.00 367.18L305.50 363.75L305.75 362.48L306.00 362.00L306.25 362.48L306.50 363.75L306.75 365.46L307.00 365.95L307.50 361.35L307.75 359.64L308.00 359.00L308.25 359.64L308.50 361.35L308.75 363.64L309.00 364.55L309.25 363.42L309.50 363.00L309.75 363.42L310.00 364.55L310.25 366.07L310.50 366.96L310.75 366.26L311.00 366.00L311.25 366.26L311.50 366.96L312.00 368.83L312.25 369.60L312.50 370.15L312.75 370.48L313.00 370.66L313.50 370.80L313.50 370.80ZM316.5 370.80L316.50 370.80L317.00 370.57L317.25 370.32L317.75 369.70L318.00 369.58L318.25 369.70L318.50 369.55L318.75 369.13L319.00 368.99L319.25 369.20L319.50 369.65L319.75 369.78L320.00 369.65L320.25 369.74L320.50 370.01L320.75 369.81L321.00 369.48L321.25 369.38L321.50 369.55L321.75 369.86L322.00 369.27L322.25 368.79L322.50 368.65L323.00 369.18L323.25 368.82L323.50 368.83L323.75 369.21L324.00 368.70L324.25 368.33L324.50 368.43L324.75 368.95L325.00 369.22L325.25 368.91L325.50 368.97L325.75 369.36L326.25 368.39L326.50 368.38L326.75 368.81L327.00 369.47L327.25 369.61L327.50 369.39L327.75 369.44L328.00 369.14L328.25 368.33L328.50 367.80L328.75 367.85L329.00 368.43L329.25 369.23L329.50 369.11L329.75 369.33L330.00 369.11L330.25 368.82L330.50 368.91L330.75 369.33L331.25 368.25L331.50 368.20L331.75 368.65L332.00 369.02L332.25 368.22L332.50 367.77L332.75 367.91L333.00 368.55L333.25 368.71L333.50 368.55L333.75 368.82L334.00 369.39L334.25 369.21L334.50 369.29L334.75 369.07L335.00 368.43L335.25 368.16L335.50 368.41L335.75 369.03L336.25 369.03L336.50 369.37L336.75 369.43L337.00 369.09L337.25 369.06L337.50 369.37L337.75 369.84L338.00 369.50L338.25 369.35L338.50 369.48L338.75 369.82L339.00 369.77L339.25 369.39L339.50 369.24L339.75 369.39L340.00 369.47L340.25 369.09L340.50 369.02L340.75 369.29L341.25 368.49L341.50 368.55L341.75 369.02L342.00 369.66L342.25 369.48L342.50 369.47L342.75 369.71L343.00 369.26L343.25 369.03L343.50 369.15L343.75 369.54L344.00 369.76L344.25 369.62L344.50 369.71L344.75 369.98L345.25 369.66L345.50 369.69L345.75 369.93L346.00 369.99L346.25 369.70L346.50 369.58L346.75 369.71L347.25 370.29L347.50 370.15L347.75 370.13L348.00 370.23L349.25 370.80L349.25 370.80Z" fill="#30b430" stroke="#2a702a" stroke-width="0.42"/>
<rect x="513.90" y="24" width="6.60" height="355" fill="#fff"/>
<rect x="4.20" y="24.9" width="509.20" height="352.4" fill="none" stroke="#262626" stroke-width="1.7"/>
<rect x="5.00" y="408.60" width="509.50" height="7.40" fill="#ebe9d7"/>
<rect x="5.00" y="416.00" width="509.50" height="1.6" fill="#f3f4e8"/>
<rect x="174.00" y="408.60" width="0.8" height="7.40" fill="#a8a898"/>
<rect x="290.00" y="408.60" width="0.8" height="7.40" fill="#a8a898"/>
<text x="3.20" y="414.20" class="hd" textLength="37.50" lengthAdjust="spacingAndGlyphs">03_G09.fsa</text>
<text x="177.00" y="414.20" class="hd" textLength="31.50" lengthAdjust="spacingAndGlyphs">CD57+GA</text>
<text x="291.50" y="414.20" class="hd" textLength="62.50" lengthAdjust="spacingAndGlyphs">DS_33_3130_POP7</text>
<rect x="382.30" y="408.20" width="26.20" height="8.80" fill="#fdfdfb" stroke="#a4a49c" stroke-width="0.6"/>
<rect x="408.50" y="408.20" width="30.70" height="8.80" fill="#fdfdfb" stroke="#a4a49c" stroke-width="0.6"/>
<rect x="384.60" y="409.90" width="11.20" height="5.40" rx="1.6" fill="url(#gbtn)" stroke="#127a12" stroke-width="0.7"/>
<rect x="411.50" y="409.90" width="11.50" height="5.40" rx="1.6" fill="url(#gbtn)" stroke="#127a12" stroke-width="0.7"/>
<rect x="26.65" y="428.50" width="1.1" height="146.20" fill="#303030"/>
<rect x="27.20" y="428.35" width="487.30" height="1.3" fill="#7c7c7c"/>
<rect x="27.20" y="573.60" width="487.30" height="1.2" fill="#8c8c8c"/>
<rect x="26.60" y="428.20" width="1.2" height="1.6" fill="#222"/>
<text transform="translate(28.20 426.60) scale(0.660 0.440)" class="ax" text-anchor="middle">0</text>
<rect x="61.38" y="428.20" width="1.2" height="1.6" fill="#222"/>
<rect x="96.16" y="428.20" width="1.2" height="1.6" fill="#222"/>
<text transform="translate(97.76 426.60) scale(0.660 0.440)" class="ax" text-anchor="middle">40</text>
<rect x="130.94" y="428.20" width="1.2" height="1.6" fill="#222"/>
<rect x="165.72" y="428.20" width="1.2" height="1.6" fill="#222"/>
<text transform="translate(167.32 426.60) scale(0.660 0.440)" class="ax" text-anchor="middle">80</text>
<rect x="200.50" y="428.20" width="1.2" height="1.6" fill="#222"/>
<rect x="235.28" y="428.20" width="1.2" height="1.6" fill="#222"/>
<text transform="translate(236.88 426.60) scale(0.660 0.440)" class="ax" text-anchor="middle">120</text>
<rect x="270.06" y="428.20" width="1.2" height="1.6" fill="#222"/>
<rect x="304.84" y="428.20" width="1.2" height="1.6" fill="#222"/>
<text transform="translate(306.44 426.60) scale(0.660 0.440)" class="ax" text-anchor="middle">160</text>
<rect x="339.62" y="428.20" width="1.2" height="1.6" fill="#222"/>
<rect x="374.40" y="428.20" width="1.2" height="1.6" fill="#222"/>
<text transform="translate(376.00 426.60) scale(0.660 0.440)" class="ax" text-anchor="middle">200</text>
<rect x="409.18" y="428.20" width="1.2" height="1.6" fill="#222"/>
<rect x="443.96" y="428.20" width="1.2" height="1.6" fill="#222"/>
<text transform="translate(445.56 426.60) scale(0.660 0.440)" class="ax" text-anchor="middle">240</text>
<rect x="478.74" y="428.20" width="1.2" height="1.6" fill="#222"/>
<rect x="513.52" y="428.20" width="1.2" height="1.6" fill="#222"/>
<text transform="translate(515.12 426.60) scale(0.660 0.440)" class="ax" text-anchor="middle">280</text>
<rect x="25.90" y="443.55" width="2.6" height="1.1" fill="#222"/>
<text transform="translate(23.80 445.90) scale(0.660 0.440)" class="ax" text-anchor="end">2400</text>
<rect x="25.90" y="465.12" width="2.6" height="1.1" fill="#222"/>
<text transform="translate(23.80 467.47) scale(0.660 0.440)" class="ax" text-anchor="end">2000</text>
<rect x="25.90" y="486.69" width="2.6" height="1.1" fill="#222"/>
<text transform="translate(23.80 489.04) scale(0.660 0.440)" class="ax" text-anchor="end">1600</text>
<rect x="25.90" y="508.26" width="2.6" height="1.1" fill="#222"/>
<text transform="translate(23.80 510.61) scale(0.660 0.440)" class="ax" text-anchor="end">1200</text>
<rect x="25.90" y="529.83" width="2.6" height="1.1" fill="#222"/>
<text transform="translate(23.80 532.18) scale(0.660 0.440)" class="ax" text-anchor="end">800</text>
<rect x="25.90" y="551.40" width="2.6" height="1.1" fill="#222"/>
<text transform="translate(23.80 553.75) scale(0.660 0.440)" class="ax" text-anchor="end">400</text>
<rect x="25.90" y="572.97" width="2.6" height="1.1" fill="#222"/>
<text transform="translate(23.80 575.32) scale(0.660 0.440)" class="ax" text-anchor="end">0</text>
<rect x="26.00" y="454.39" width="2.4" height="1" fill="#333"/>
<rect x="26.00" y="475.96" width="2.4" height="1" fill="#333"/>
<rect x="26.00" y="497.53" width="2.4" height="1" fill="#333"/>
<rect x="26.00" y="519.10" width="2.4" height="1" fill="#333"/>
<rect x="26.00" y="540.66" width="2.4" height="1" fill="#333"/>
<rect x="26.00" y="562.24" width="2.4" height="1" fill="#333"/>
<rect x="26.00" y="432.81" width="2.4" height="1" fill="#333"/>
<text x="42.50" y="457.30" class="tc" textLength="117.50" lengthAdjust="spacingAndGlyphs">TCRG Tube A</text>
<path d="M148.2 572.40L148.25 572.40L148.75 572.27L149.00 572.12L149.75 571.38L150.00 571.29L150.25 571.38L150.75 571.89L151.25 571.72L151.50 571.75L152.25 572.20L152.50 572.22L153.25 571.78L153.50 571.74L153.75 571.81L154.00 571.96L154.25 572.02L154.50 571.92L154.75 571.88L155.00 571.93L155.50 572.13L156.00 572.02L156.25 572.05L156.50 571.99L157.00 571.51L157.25 571.38L157.50 571.43L158.00 571.77L158.25 571.66L158.50 571.67L159.25 572.15L159.75 572.09L160.25 571.56L160.50 571.34L160.75 571.28L161.25 571.51L161.50 571.31L161.75 571.29L162.00 571.45L162.25 571.71L162.50 571.43L162.75 571.24L163.00 571.24L163.25 571.42L163.75 571.99L164.00 572.19L164.25 572.05L164.75 571.52L165.00 571.32L165.25 571.28L165.50 571.43L166.00 571.97L166.25 572.10L166.75 571.67L167.00 571.53L167.25 571.53L167.50 571.58L167.75 571.27L168.00 571.08L168.25 571.11L168.50 571.34L169.00 571.97L169.25 572.12L169.75 572.15L170.25 571.92L170.50 571.90L170.75 571.95L171.00 571.92L171.50 571.32L171.75 571.14L172.00 571.17L172.25 571.39L172.50 571.70L172.75 571.55L173.00 571.50L173.25 571.60L173.50 571.81L173.75 571.53L174.00 571.32L174.25 571.28L174.50 571.42L175.00 571.96L175.25 572.17L175.50 572.24L176.25 571.69L176.50 571.57L176.75 571.58L177.00 571.72L177.25 571.69L177.50 571.58L177.75 571.61L178.25 571.21L178.50 571.18L178.75 571.36L179.25 571.94L179.50 572.17L179.75 572.25L180.75 571.96L181.00 572.01L181.50 571.74L181.75 571.74L182.25 572.00L182.50 572.11L182.75 572.13L183.00 572.02L183.50 571.56L183.75 571.43L184.25 571.49L184.50 571.33L184.75 571.34L185.00 571.52L185.25 571.79L185.50 571.94L185.75 572.01L186.00 572.01L186.50 571.61L186.75 571.53L187.00 571.60L187.50 571.91L187.75 571.87L188.00 571.92L188.50 572.17L189.75 572.34L190.00 572.27L190.25 572.13L191.00 571.43L191.25 571.36L191.50 571.45L191.75 571.45L192.00 571.16L192.25 571.03L192.50 571.13L192.75 571.36L193.00 571.10L193.25 571.03L193.50 571.19L194.00 571.79L194.25 571.58L194.50 571.47L194.75 571.51L195.25 571.92L195.50 571.91L195.75 571.80L196.00 571.78L196.25 571.86L196.50 571.87L197.00 571.37L197.25 571.29L197.50 571.39L198.00 571.84L198.25 571.75L198.50 571.76L199.00 572.04L199.50 571.83L199.75 571.83L200.00 571.57L200.25 571.39L200.50 571.37L200.75 571.51L201.00 571.76L201.50 571.74L202.25 572.18L203.75 572.21L204.50 571.90L205.00 571.97L205.25 571.83L205.50 571.77L205.75 571.81L206.25 572.10L206.50 572.12L207.00 572.04L207.50 571.47L207.75 571.23L208.00 571.17L208.25 571.32L208.75 571.90L209.00 572.03L209.50 572.06L210.00 571.77L210.25 571.73L210.75 571.94L211.00 571.87L211.25 571.90L211.75 571.40L212.00 571.28L212.25 571.34L212.50 571.56L212.75 571.57L213.00 571.48L213.25 571.54L213.50 571.73L213.75 571.72L214.00 571.40L214.25 571.17L214.50 571.12L214.75 571.28L215.00 571.57L215.25 571.60L215.50 571.56L215.75 571.65L216.00 571.84L216.50 571.85L216.75 571.92L217.25 571.40L217.50 571.29L217.75 571.37L218.25 571.87L218.50 572.08L218.75 572.01L219.00 572.00L219.50 571.80L219.75 571.77L220.00 571.85L221.00 572.33L222.00 572.25L222.75 571.94L223.00 571.89L223.50 572.02L224.00 571.45L224.25 571.25L224.50 571.22L224.75 571.38L225.25 571.95L225.50 572.16L225.75 572.10L226.25 571.69L226.50 571.56L226.75 571.56L227.00 571.70L227.50 571.34L227.75 571.32L228.00 571.46L228.25 571.72L228.50 571.89L228.75 571.76L229.00 571.71L229.25 571.78L230.00 572.24L231.25 572.18L232.00 571.62L232.25 571.55L232.75 571.66L233.00 571.53L233.25 571.55L233.50 571.69L234.00 572.11L234.25 572.18L235.00 571.77L235.25 571.76L235.75 572.00L236.25 571.59L236.50 571.52L236.75 571.59L237.50 572.18L238.50 572.32L239.00 572.24L239.25 572.06L240.00 571.22L240.25 571.12L240.50 571.25L240.75 571.52L241.00 571.64L241.25 571.35L241.50 571.17L241.75 571.19L242.25 571.64L242.50 571.47L242.75 571.44L243.00 571.57L243.75 572.21L244.25 572.17L244.50 571.94L245.00 571.33L245.25 571.15L245.50 571.17L246.00 571.54L246.25 571.35L246.50 571.32L246.75 571.47L247.25 571.99L248.50 572.31L248.75 572.25L249.00 572.08L249.25 571.80L249.75 571.16L250.00 571.03L250.25 571.13L250.50 571.41L250.75 571.17L251.00 571.09L251.50 571.34L251.75 571.20L252.00 571.26L252.25 571.45L252.50 571.17L252.75 571.05L253.00 571.15L253.25 571.44L253.75 571.12L254.00 571.17L254.25 571.41L254.75 572.02L255.00 572.12L255.50 571.69L255.75 571.54L256.00 571.52L256.25 571.64L257.00 572.23L257.75 571.90L258.00 571.73L258.25 571.38L258.50 571.10L258.75 571.01L259.00 571.15L259.25 571.46L259.50 571.46L259.75 571.18L260.00 571.07L260.25 571.18L260.75 571.79L261.00 571.95L261.25 571.92L261.75 571.50L262.00 571.38L262.25 571.43L262.50 571.63L263.00 571.65L263.50 571.89L263.75 571.75L264.00 571.71L264.25 571.78L267.50 572.25L268.25 572.21L269.00 571.87L269.25 571.87L269.75 572.08L270.00 572.09L270.25 572.02L270.75 571.42L271.00 571.18L271.25 571.13L271.50 571.29L272.00 571.90L272.25 572.14L272.50 572.19L273.50 572.00L274.00 571.48L274.25 571.32L274.50 571.33L274.75 571.51L275.25 572.04L275.50 572.14L275.75 572.15L276.25 571.91L276.50 571.87L276.75 571.92L277.00 572.03L277.50 571.85L277.75 571.87L278.25 572.03L278.75 571.68L279.00 571.63L279.25 571.70L279.50 571.87L279.75 571.63L280.00 571.44L280.25 571.40L280.50 571.53L280.75 571.75L281.00 571.48L281.25 571.30L281.50 571.30L282.00 571.65L282.25 571.49L282.50 571.48L282.75 571.62L283.25 572.06L283.50 572.20L284.25 572.15L284.75 571.90L285.00 571.86L285.25 571.91L286.25 572.34L287.75 572.31L289.00 572.33L289.25 572.25L289.50 572.09L290.00 571.57L290.25 571.36L290.50 571.30L290.75 571.43L291.00 571.68L291.50 571.63L291.75 571.75L292.25 572.11L293.00 572.01L293.50 571.53L293.75 571.39L294.00 571.43L294.25 571.61L294.75 572.09L295.00 572.17L295.75 572.25L296.00 572.23L296.25 572.03L296.75 571.39L297.00 571.11L297.25 571.03L297.50 571.17L297.75 571.24L298.00 571.11L298.25 571.20L298.75 571.77L299.00 571.56L299.25 571.46L299.50 571.51L300.25 572.14L300.50 572.28L301.00 572.40L301.00 572.40ZM321.8 572.40L321.75 572.40L322.00 572.31L322.25 572.12L322.50 571.67L322.75 570.80L323.00 569.47L323.25 567.88L323.50 566.53L323.75 566.00L324.00 566.53L324.25 566.27L324.50 566.58L324.75 567.76L325.00 569.29L325.25 570.64L325.50 571.57L325.75 572.07L326.00 572.29L326.50 572.40L326.50 572.40ZM367.5 572.40L367.50 572.40L368.00 572.28L368.25 572.02L368.50 571.41L368.75 570.24L369.00 568.44L369.25 566.29L369.50 564.47L369.75 563.75L370.00 564.47L370.25 566.29L370.50 568.44L370.75 570.24L371.00 571.41L371.25 572.02L371.50 572.28L372.00 572.40L372.00 572.40Z" fill="#1010e0" stroke="#2a2a78" stroke-width="0.42"/>
<path d="M286.4 572.40L286.40 572.39L287.40 572.20L287.65 572.04L287.90 571.80L288.15 571.49L288.90 570.34L289.15 570.09L289.40 570.00L289.65 570.09L289.90 570.34L290.65 571.49L290.90 571.60L291.15 571.13L291.40 570.55L291.90 569.28L292.15 568.78L292.40 568.52L292.65 568.55L292.90 568.87L293.15 569.40L293.65 570.68L293.90 571.24L294.15 570.65L294.40 569.77L294.90 567.67L295.15 566.75L295.40 566.16L295.65 566.01L295.90 566.35L296.15 567.09L296.40 568.09L296.65 567.28L296.90 565.99L297.15 564.98L297.40 564.45L297.65 564.51L298.15 565.77L298.40 563.01L298.65 560.10L298.90 557.49L299.15 555.66L299.40 555.00L299.65 555.66L299.90 554.09L300.15 547.66L300.40 541.45L300.65 536.56L300.90 533.99L301.15 534.28L301.40 532.64L301.65 527.76L301.90 526.00L302.15 527.76L302.40 520.64L302.65 514.29L302.90 512.00L303.15 514.29L303.40 520.64L303.65 524.70L303.90 525.06L304.15 528.91L304.40 535.42L304.90 551.18L305.15 555.50L305.40 558.03L305.65 560.47L305.90 558.59L306.15 557.59L306.40 557.71L306.65 558.90L306.90 560.92L307.40 565.81L307.65 567.96L307.90 569.62L308.15 570.00L308.40 570.13L308.65 570.00L308.90 568.89L309.40 566.47L309.65 565.54L309.90 565.05L310.15 562.38L310.40 558.86L310.65 555.46L310.90 552.79L311.15 551.38L311.40 551.54L311.65 553.24L311.90 549.85L312.15 542.86L312.40 536.58L312.65 532.18L312.90 530.60L313.15 532.18L313.40 536.58L313.65 541.19L313.90 541.43L314.15 543.95L314.40 548.21L314.90 558.52L315.15 555.94L315.40 554.20L315.65 553.78L315.90 554.76L316.15 556.93L316.40 556.97L316.65 555.08L316.90 554.40L317.15 555.08L317.40 553.21L317.65 546.47L317.90 539.97L318.15 534.85L318.40 532.15L318.65 532.46L318.90 535.71L319.15 541.20L319.40 540.00L319.65 541.23L319.90 544.63L320.15 549.50L320.40 554.92L320.65 560.05L320.90 564.32L321.15 567.51L321.40 569.66L321.65 570.98L321.90 571.72L322.15 572.08L322.40 572.23L323.15 572.38L323.15 572.40Z" fill="#8a8ac0"/>
<path d="M286.4 572.40L286.40 572.40L288.20 572.40L288.40 572.37L288.60 571.56L288.80 571.20L290.00 571.20L290.20 570.48L290.40 570.07L291.40 570.05L291.60 570.15L291.80 570.63L292.00 570.44L293.20 570.50L293.40 568.73L293.60 568.55L294.60 568.58L294.80 569.25L295.00 569.08L295.20 569.00L296.00 569.00L296.20 569.08L296.40 570.09L296.60 571.26L296.80 568.79L297.00 568.42L298.00 568.42L298.20 568.79L298.40 571.26L298.60 566.19L298.80 563.47L299.00 563.28L299.80 563.28L300.00 563.47L300.20 558.86L300.40 552.92L300.60 552.50L301.00 552.49L301.20 551.51L301.40 549.36L301.60 549.28L302.00 549.28L302.20 543.86L302.40 540.93L302.60 540.82L303.20 540.82L303.40 540.93L303.60 543.86L303.80 548.54L304.20 548.57L304.40 549.67L304.60 560.63L304.80 562.72L305.20 562.74L305.40 563.18L305.60 565.32L305.80 564.98L306.60 564.97L306.80 565.03L307.00 566.33L307.20 571.53L307.40 571.51L307.60 571.42L308.60 571.42L308.80 571.51L309.00 572.12L309.20 570.27L309.40 569.33L309.60 569.26L310.20 569.26L310.40 567.79L310.60 563.49L310.80 563.06L311.60 563.05L311.80 563.13L312.00 564.76L312.20 556.89L312.40 555.30L313.40 555.30L313.60 556.89L313.80 559.37L314.20 559.38L314.40 559.98L314.60 565.97L314.80 566.91L315.00 564.49L315.20 564.32L316.00 564.32L316.20 564.49L316.40 564.37L317.40 564.37L317.60 565.12L317.80 556.63L318.00 555.01L318.20 554.95L318.80 554.95L319.00 555.01L319.20 556.63L319.40 558.70L319.80 558.70L320.00 558.99L320.20 563.08L320.40 571.05L320.80 571.07L321.00 571.30L321.20 572.24L321.40 572.40L323.20 572.40L323.20 572.40Z" fill="#1010e0" stroke="#1c1c90" stroke-width="0.3"/>
<line x1="302.90" y1="521.00" x2="302.90" y2="560.00" stroke="#262678" stroke-width="0.9"/>
<line x1="312.90" y1="533.00" x2="312.90" y2="562.00" stroke="#262678" stroke-width="0.9"/>
<line x1="318.50" y1="534.00" x2="318.50" y2="566.00" stroke="#262678" stroke-width="0.9"/>
<line x1="301.30" y1="535.00" x2="301.30" y2="555.00" stroke="#262678" stroke-width="0.9"/>
<line x1="302.6" y1="512" x2="302.6" y2="522" stroke="#6a6a96" stroke-width="0.8"/>
<path d="M375.8 572.40L375.75 572.38L376.50 572.21L376.75 572.03L377.00 571.74L377.25 571.30L377.50 570.72L378.00 569.29L378.25 568.63L378.50 568.17L378.75 568.00L379.00 568.17L379.25 566.75L379.50 564.16L379.75 561.26L380.00 558.47L380.25 556.27L380.50 555.11L380.75 555.24L381.00 556.64L381.25 558.99L381.50 561.85L381.75 564.34L382.00 562.63L382.25 561.43L382.50 561.00L382.75 561.43L383.00 561.62L383.25 556.42L383.75 544.55L384.00 539.65L384.25 536.75L384.50 536.47L384.75 538.88L385.00 543.45L385.25 549.26L385.50 554.80L385.75 551.06L386.00 548.44L386.25 547.50L386.50 548.44L386.75 551.06L387.00 552.59L387.25 545.64L387.50 538.93L387.75 533.64L388.00 530.86L388.25 531.18L388.50 534.53L388.75 540.20L389.25 553.92L389.50 554.06L389.75 551.81L390.00 551.00L390.25 551.81L390.50 553.61L390.75 544.55L391.25 523.86L391.50 515.32L391.75 510.27L392.00 509.79L392.25 513.99L392.50 521.95L392.75 532.07L393.00 542.55L393.25 536.25L393.50 528.56L393.75 523.19L394.00 521.25L394.25 523.19L394.50 528.56L394.75 536.25L395.00 527.96L395.25 520.94L395.50 517.24L395.75 517.67L396.00 522.12L396.25 529.64L396.50 538.74L396.75 535.37L397.00 523.89L397.25 513.57L397.50 506.35L397.75 503.75L398.00 506.35L398.25 513.57L398.50 523.89L398.75 535.37L399.00 545.55L399.25 539.83L399.50 535.84L399.75 534.40L400.00 535.84L400.25 539.83L400.50 545.55L400.75 551.90L401.00 557.92L401.25 560.92L401.50 558.90L401.75 557.71L402.00 552.59L402.25 545.64L402.50 538.93L402.75 533.64L403.00 530.86L403.25 531.18L403.50 534.53L403.75 540.20L404.00 546.48L404.25 535.72L404.50 524.35L404.75 514.12L405.00 506.97L405.25 504.40L405.50 506.97L405.75 514.12L406.00 524.35L406.25 527.14L406.50 510.29L406.75 493.51L407.00 479.63L407.25 471.41L407.50 470.63L407.75 477.46L408.00 490.40L408.25 506.84L408.50 523.88L408.75 526.25L409.00 528.00L409.25 532.85L409.50 539.79L409.75 547.51L410.00 554.81L410.25 552.90L410.50 546.85L410.75 541.42L411.00 537.62L411.25 536.25L411.50 537.62L411.75 541.42L412.00 546.85L412.25 549.36L412.50 545.31L412.75 542.91L413.00 542.68L413.25 544.68L413.50 548.46L413.75 553.26L414.00 547.16L414.25 539.33L414.50 532.29L414.75 527.37L415.00 525.60L415.25 527.37L415.50 532.29L415.75 539.33L416.00 547.16L416.25 546.04L416.50 545.00L416.75 546.04L417.00 548.92L417.25 553.04L417.50 557.62L417.75 561.96L418.00 561.77L418.25 560.47L418.50 560.00L418.75 560.47L419.00 561.77L419.50 565.54L419.75 564.70L420.00 564.40L420.25 564.70L420.50 565.54L420.75 566.75L421.00 568.08L421.25 569.35L421.50 570.41L421.75 570.28L422.00 569.83L422.25 569.51L422.50 569.40L422.75 569.51L423.00 569.83L423.75 571.26L424.00 571.65L424.25 571.95L424.50 572.15L425.00 572.34L425.50 572.20L425.75 572.04L426.00 571.80L426.25 571.49L427.00 570.34L427.25 570.09L427.50 570.00L427.75 570.09L428.00 570.34L428.75 571.49L429.00 571.80L429.25 572.04L429.50 572.20L430.50 572.39L430.50 572.40Z" fill="#8a8ac0"/>
<path d="M375.8 572.40L375.75 572.40L377.35 572.40L377.55 571.67L377.95 562.10L378.15 560.28L378.35 559.86L380.15 559.83L380.35 560.12L380.55 561.50L380.75 565.64L380.95 571.03L381.15 572.39L381.75 572.39L381.95 570.85L382.15 561.46L382.35 552.39L382.55 549.01L382.75 548.25L382.95 548.14L384.35 548.13L384.55 548.21L384.75 548.80L384.95 551.57L385.15 559.74L385.35 569.97L385.55 572.38L385.75 572.40L385.95 572.40L386.15 572.37L386.35 569.08L386.55 554.87L386.75 543.43L386.95 539.54L387.15 538.71L387.35 538.59L388.75 538.60L388.95 538.76L389.15 539.80L389.35 544.48L389.55 557.05L389.75 570.20L389.95 572.39L390.95 572.40L391.15 571.02L391.35 555.29L391.55 534.17L391.75 524.86L391.95 522.55L392.15 522.16L393.55 522.13L393.75 522.23L393.95 523.03L394.15 527.17L394.35 541.08L394.55 563.58L394.75 572.20L394.95 572.40L395.55 572.40L395.75 572.20L395.95 563.30L396.15 539.67L396.35 524.95L396.55 520.53L396.75 519.68L396.95 519.57L398.35 519.61L398.55 520.00L398.75 522.40L398.95 532.08L399.15 554.21L399.35 570.90L399.55 572.40L400.15 572.40L400.35 572.10L400.55 564.12L400.75 547.52L400.95 538.39L401.15 535.83L401.35 535.36L402.95 535.35L403.15 535.70L403.35 537.77L403.55 545.64L403.75 561.85L403.95 571.80L404.15 572.40L404.55 572.40L404.75 572.17L404.95 561.23L405.15 530.96L405.35 511.66L405.55 505.82L405.75 504.68L405.95 504.54L407.35 504.58L407.55 505.06L407.75 508.04L407.95 520.18L408.15 548.35L408.35 570.30L408.55 572.40L408.95 572.40L409.15 572.11L409.35 563.73L409.55 545.73L409.75 535.66L409.95 532.81L410.15 532.29L411.75 532.26L411.95 532.64L412.15 534.81L412.35 543.17L412.55 560.64L412.75 571.69L412.95 572.40L413.35 572.40L413.55 571.37L413.75 561.05L413.95 548.11L414.15 542.59L414.35 541.25L414.55 541.03L415.95 541.01L416.15 541.08L416.35 541.62L416.55 544.39L416.75 553.43L416.95 567.40L417.15 572.30L417.35 572.40L417.95 572.40L418.15 571.51L418.35 566.93L418.55 562.89L418.75 561.44L418.95 561.12L420.75 561.12L420.95 561.43L421.15 562.84L421.35 566.84L421.55 571.46L421.75 572.39L422.55 572.39L422.75 571.93L422.95 570.77L423.15 570.06L423.35 569.86L425.35 569.83L425.55 569.96L425.75 570.44L425.95 571.54L426.15 572.33L426.35 572.40L430.35 572.40L430.35 572.40Z" fill="#1010e0" stroke="#1c1c90" stroke-width="0.3"/>
<line x1="379.05" y1="568.40" x2="379.05" y2="569.32" stroke="#2a2a78" stroke-width="0.75"/>
<line x1="380.90" y1="555.40" x2="380.90" y2="560.22" stroke="#2a2a78" stroke-width="0.75"/>
<line x1="382.80" y1="561.40" x2="382.80" y2="564.42" stroke="#2a2a78" stroke-width="0.75"/>
<line x1="384.70" y1="536.65" x2="384.70" y2="547.10" stroke="#2a2a78" stroke-width="0.75"/>
<line x1="386.55" y1="547.90" x2="386.55" y2="554.97" stroke="#2a2a78" stroke-width="0.75"/>
<line x1="388.40" y1="531.00" x2="388.40" y2="543.14" stroke="#2a2a78" stroke-width="0.75"/>
<line x1="390.30" y1="551.40" x2="390.30" y2="557.42" stroke="#2a2a78" stroke-width="0.75"/>
<line x1="392.20" y1="509.80" x2="392.20" y2="528.30" stroke="#2a2a78" stroke-width="0.75"/>
<line x1="394.30" y1="521.65" x2="394.30" y2="536.60" stroke="#2a2a78" stroke-width="0.75"/>
<line x1="395.90" y1="517.30" x2="395.90" y2="533.55" stroke="#2a2a78" stroke-width="0.75"/>
<line x1="398.05" y1="504.15" x2="398.05" y2="524.35" stroke="#2a2a78" stroke-width="0.75"/>
<line x1="400.05" y1="534.80" x2="400.05" y2="545.80" stroke="#2a2a78" stroke-width="0.75"/>
<line x1="402.20" y1="557.90" x2="402.20" y2="561.97" stroke="#2a2a78" stroke-width="0.75"/>
<line x1="403.40" y1="531.00" x2="403.40" y2="543.14" stroke="#2a2a78" stroke-width="0.75"/>
<line x1="405.55" y1="504.80" x2="405.55" y2="524.80" stroke="#2a2a78" stroke-width="0.75"/>
<line x1="407.70" y1="470.40" x2="407.70" y2="500.72" stroke="#2a2a78" stroke-width="0.75"/>
<line x1="409.05" y1="526.65" x2="409.05" y2="540.10" stroke="#2a2a78" stroke-width="0.75"/>
<line x1="411.55" y1="536.65" x2="411.55" y2="547.10" stroke="#2a2a78" stroke-width="0.75"/>
<line x1="413.20" y1="542.90" x2="413.20" y2="551.47" stroke="#2a2a78" stroke-width="0.75"/>
<line x1="415.30" y1="526.00" x2="415.30" y2="539.64" stroke="#2a2a78" stroke-width="0.75"/>
<line x1="416.80" y1="545.40" x2="416.80" y2="553.22" stroke="#2a2a78" stroke-width="0.75"/>
<line x1="418.80" y1="560.40" x2="418.80" y2="563.72" stroke="#2a2a78" stroke-width="0.75"/>
<line x1="420.30" y1="564.80" x2="420.30" y2="566.80" stroke="#2a2a78" stroke-width="0.75"/>
<line x1="422.80" y1="569.80" x2="422.80" y2="570.30" stroke="#2a2a78" stroke-width="0.75"/>
<line x1="427.80" y1="570.40" x2="427.80" y2="570.72" stroke="#2a2a78" stroke-width="0.75"/>
<rect x="406.60" y="431.30" width="1.60" height="101.10" fill="#1e1ea8"/>
<rect x="83.00" y="572.70" width="431.00" height="1.9" fill="#adc9b2"/>
<rect x="83.00" y="571.30" width="431.00" height="1.4" fill="#6aa876"/>
<path d="M82.70 569.80 L84.60 573.00" stroke="#3c4a44" stroke-width="0.9"/>
<path d="M82.8 572.40L82.75 572.40L83.00 571.59L83.25 571.66L83.50 571.83L83.75 571.68L84.00 571.46L84.25 571.37L84.50 571.45L85.00 571.87L85.25 571.63L85.50 571.47L85.75 571.45L86.00 571.59L86.75 572.22L87.00 572.18L87.25 571.96L87.75 571.37L88.00 571.19L88.25 571.21L88.75 571.64L89.00 571.37L89.25 571.23L89.50 571.29L89.75 571.51L90.00 571.80L90.25 571.80L90.50 571.89L91.00 571.70L91.25 571.72L92.00 572.18L92.25 572.28L93.50 572.09L93.75 571.96L94.25 571.50L94.50 571.41L95.00 571.57L95.25 571.39L95.50 571.38L96.00 571.67L96.25 571.60L96.50 571.66L97.50 572.31L98.25 572.14L98.50 571.95L99.00 571.34L99.25 571.15L99.50 571.15L99.75 571.36L100.25 571.97L100.50 572.05L100.75 572.02L101.25 572.15L101.75 571.82L102.00 571.71L102.25 571.72L103.00 572.16L103.75 572.16L104.50 571.56L104.75 571.50L105.00 571.59L105.25 571.79L105.50 571.74L105.75 571.45L106.00 571.27L106.25 571.26L106.50 571.43L107.00 571.94L107.25 571.94L108.00 572.21L108.75 572.01L110.00 572.34L111.00 571.98L111.25 571.96L111.50 571.81L111.75 571.55L112.00 571.37L112.25 571.35L112.50 571.50L113.00 572.01L113.50 572.03L114.00 571.61L114.25 571.49L114.50 571.52L115.00 571.16L115.25 571.15L115.50 571.34L115.75 571.46L116.00 571.43L116.25 571.56L117.00 572.21L117.25 572.32L117.50 572.29L118.50 571.92L118.75 571.95L119.50 572.27L119.75 572.29L121.25 572.26L122.00 572.15L122.25 572.02L122.75 571.44L123.00 571.23L123.25 571.20L123.50 571.37L124.00 571.94L124.25 572.01L124.50 571.95L125.00 571.96L125.25 571.80L125.50 571.72L125.75 571.75L126.50 572.20L126.75 572.26L127.00 572.21L127.25 572.02L127.75 571.53L128.00 571.38L128.25 571.39L128.50 571.57L129.00 572.06L129.25 572.23L129.50 572.33L130.75 572.24L131.50 571.72L131.75 571.61L132.00 571.64L132.50 571.97L132.75 572.07L133.00 571.98L133.25 571.96L133.75 572.11L134.25 571.79L134.50 571.70L134.75 571.72L135.25 572.02L136.25 572.19L136.50 572.05L137.00 571.62L137.25 571.51L137.50 571.54L138.25 572.13L138.50 572.12L138.75 571.87L139.25 571.27L139.50 571.12L139.75 571.19L140.00 571.44L140.25 571.75L140.50 571.89L140.75 571.88L141.00 571.93L141.25 571.75L141.50 571.64L141.75 571.65L142.25 571.97L142.50 571.93L142.75 571.83L143.00 571.81L145.00 572.34L145.25 572.24L145.50 572.07L146.00 571.56L146.25 571.36L146.50 571.32L147.00 571.55L147.25 571.45L147.50 571.51L148.00 571.93L148.50 571.62L148.75 571.59L149.00 571.69L149.75 572.23L151.50 572.26L152.50 572.01L153.00 571.39L153.25 571.16L153.50 571.11L153.75 571.28L154.00 571.58L154.25 571.51L154.50 571.24L154.75 571.13L155.00 571.23L155.50 571.81L156.00 571.79L156.50 572.01L156.75 571.86L157.00 571.78L157.25 571.80L157.50 571.91L157.75 571.93L158.00 571.88L158.25 571.91L158.50 572.01L158.75 571.93L159.00 571.92L159.25 571.98L159.50 571.92L160.00 571.33L160.25 571.16L160.50 571.20L160.75 571.42L161.00 571.73L161.25 571.81L161.50 571.75L161.75 571.80L162.25 572.09L162.50 572.12L163.25 571.44L163.50 571.39L163.75 571.50L164.25 571.97L164.50 571.99L164.75 571.93L165.25 572.02L165.75 571.54L166.00 571.40L166.25 571.43L166.50 571.60L166.75 571.85L167.00 571.65L167.25 571.54L167.50 571.58L168.00 571.95L168.25 572.00L168.50 571.93L168.75 571.94L169.25 572.14L170.00 572.05L170.50 571.61L170.75 571.44L171.00 571.41L171.25 571.54L171.75 572.02L172.25 572.02L172.50 572.08L172.75 572.04L173.25 571.65L173.50 571.56L173.75 571.61L174.50 572.17L174.75 572.29L176.25 572.14L176.75 571.86L177.00 571.80L177.25 571.84L177.50 571.96L177.75 571.88L178.00 571.68L178.25 571.57L178.50 571.59L178.75 571.73L179.00 571.94L179.25 572.03L179.50 571.96L179.75 571.96L180.00 572.02L180.50 571.58L180.75 571.45L181.00 571.48L181.25 571.65L181.50 571.88L181.75 572.04L182.00 571.96L182.25 571.95L182.50 572.02L182.75 571.86L183.25 571.35L183.50 571.27L183.75 571.38L184.00 571.63L184.50 571.20L184.75 571.14L185.00 571.28L185.50 571.88L186.00 571.74L186.25 571.75L187.00 572.18L187.50 572.13L187.75 571.89L188.25 571.32L188.50 571.18L188.75 571.25L189.00 571.49L189.25 571.66L189.50 571.52L189.75 571.52L190.25 571.85L190.50 571.62L190.75 571.47L191.00 571.47L191.25 571.62L191.75 571.39L192.00 571.47L192.25 571.68L192.50 571.71L192.75 571.56L193.00 571.54L193.50 571.79L193.75 571.64L194.00 571.59L194.25 571.68L194.50 571.86L194.75 571.81L195.00 571.63L195.25 571.57L195.50 571.65L196.25 572.20L196.50 572.19L197.25 571.84L197.50 571.84L198.00 572.08L198.25 572.15L198.75 572.13L199.00 572.05L199.50 571.67L199.75 571.58L200.00 571.63L200.25 571.80L200.75 571.81L201.50 572.21L202.25 571.99L202.50 572.00L203.00 572.17L203.25 572.15L203.75 571.86L204.00 571.80L204.50 571.89L204.75 571.70L205.00 571.61L205.25 571.64L205.75 571.99L206.00 572.11L207.50 572.34L209.50 572.26L210.00 572.27L210.75 571.95L211.25 571.86L211.50 571.68L211.75 571.60L212.00 571.66L212.25 571.81L212.50 571.70L212.75 571.71L213.00 571.83L213.50 571.66L213.75 571.67L214.25 571.92L214.75 571.43L215.00 571.34L215.25 571.42L215.50 571.64L216.00 571.35L216.25 571.40L216.50 571.60L216.75 571.86L217.00 571.96L217.50 571.94L217.75 571.75L218.00 571.64L218.25 571.65L218.50 571.77L219.00 571.26L219.25 571.16L219.50 571.26L220.00 571.83L220.25 571.77L220.50 571.64L220.75 571.62L221.00 571.73L221.50 571.28L221.75 571.25L222.00 571.41L222.50 571.96L222.75 572.09L223.25 571.71L223.50 571.61L223.75 571.63L224.00 571.77L224.25 571.62L224.50 571.59L224.75 571.68L225.25 572.07L225.75 571.91L226.00 571.94L226.50 572.15L226.75 572.11L227.00 571.90L227.50 571.30L227.75 571.14L228.00 571.19L228.25 571.43L228.50 571.33L228.75 571.16L229.00 571.20L229.25 571.42L229.50 571.72L229.75 571.82L230.00 571.67L230.25 571.63L230.50 571.69L230.75 571.38L231.00 571.16L231.25 571.14L231.50 571.32L232.00 571.90L232.50 571.79L233.00 571.21L233.25 571.12L233.50 571.24L234.00 571.84L234.25 572.03L235.75 572.18L236.50 571.83L236.75 571.84L237.00 571.73L237.25 571.50L237.50 571.39L237.75 571.44L238.50 572.11L238.75 572.26L239.00 572.31L240.50 572.05L241.00 571.57L241.25 571.41L241.50 571.40L241.75 571.56L242.25 572.01L242.75 571.41L243.00 571.17L243.25 571.12L243.50 571.28L243.75 571.58L244.00 571.63L244.25 571.62L244.50 571.74L244.75 571.79L245.00 571.62L245.25 571.56L245.50 571.64L245.75 571.83L246.25 571.46L246.50 571.45L246.75 571.59L247.25 571.41L247.50 571.50L247.75 571.71L248.00 571.75L248.25 571.71L248.50 571.78L249.00 572.04L249.25 572.02L249.50 572.06L249.75 572.02L250.00 571.88L250.25 571.80L250.75 571.80L251.00 571.57L251.25 571.44L251.50 571.47L251.75 571.64L252.25 572.10L252.50 572.22L253.25 571.83L253.50 571.81L254.00 571.93L254.50 571.38L254.75 571.25L255.00 571.31L255.25 571.52L255.75 572.07L256.00 572.24L256.25 572.25L257.00 571.88L257.25 571.84L257.50 571.90L257.75 571.86L258.00 571.64L258.25 571.50L258.50 571.50L258.75 571.65L259.00 571.87L259.50 571.78L259.75 571.81L260.25 572.08L260.75 571.92L261.25 571.84L261.50 571.57L261.75 571.36L262.00 571.30L262.25 571.42L262.75 571.94L264.00 572.32L264.25 572.29L264.50 572.17L265.25 571.57L265.50 571.50L265.75 571.58L266.25 571.99L266.75 572.05L267.00 571.95L267.50 571.39L267.75 571.23L268.00 571.26L268.25 571.47L268.50 571.76L269.00 571.85L269.25 571.99L269.50 571.84L269.75 571.76L270.00 571.78L270.75 572.20L271.00 572.12L271.75 571.42L272.00 571.35L272.25 571.45L272.75 571.94L273.00 572.12L273.25 572.03L273.75 571.53L274.00 571.39L274.25 571.40L274.50 571.57L275.00 572.06L275.25 572.23L275.50 572.13L275.75 571.89L276.25 571.28L276.50 571.13L276.75 571.19L277.00 571.43L277.25 571.75L277.50 571.74L277.75 571.56L278.00 571.49L278.25 571.57L278.75 571.31L279.00 571.37L279.25 571.58L279.50 571.61L279.75 571.56L280.00 571.66L280.25 571.85L280.50 571.84L280.75 571.62L281.00 571.49L281.25 571.50L281.50 571.66L281.75 571.88L282.00 572.02L282.75 572.24L283.75 572.16L284.25 571.91L284.50 571.86L284.75 571.90L285.25 571.61L285.50 571.61L285.75 571.73L286.50 572.26L286.75 572.31L287.00 572.22L287.75 571.72L288.00 571.65L288.25 571.71L288.50 571.86L289.00 571.37L289.25 571.26L289.50 571.34L290.00 571.85L290.25 571.85L290.50 571.93L290.75 571.75L291.00 571.63L291.25 571.64L291.50 571.77L292.00 571.25L292.25 571.18L292.50 571.32L293.00 571.90L293.25 572.13L293.50 572.28L293.75 572.30L294.75 572.18L295.50 571.76L295.75 571.75L296.25 572.01L296.75 571.74L297.00 571.68L297.25 571.74L297.75 572.06L298.75 572.18L299.75 572.14L300.25 571.83L300.50 571.73L300.75 571.75L301.25 572.04L301.50 572.10L301.75 571.92L302.25 571.50L302.50 571.44L303.00 571.62L303.25 571.49L303.50 571.50L303.75 571.66L304.25 572.10L304.50 572.25L305.50 572.26L306.25 571.76L306.50 571.64L307.00 571.64L307.25 571.39L307.50 571.26L307.75 571.33L308.00 571.55L308.25 571.83L308.50 571.99L308.75 571.99L310.50 572.35L310.75 572.28L311.00 572.13L311.25 571.88L311.75 571.30L312.00 571.17L312.25 571.23L312.50 571.47L313.00 572.05L313.25 571.95L313.75 571.34L314.00 571.16L314.25 571.17L314.50 571.38L314.75 571.69L315.00 571.47L315.25 571.34L315.50 571.38L315.75 571.58L316.00 571.62L316.25 571.59L316.50 571.70L317.00 572.08L317.25 572.10L317.50 571.98L318.00 571.63L318.25 571.61L318.50 571.71L318.75 571.90L319.25 571.90L319.75 571.43L320.00 571.32L320.25 571.39L320.50 571.60L320.75 571.64L321.00 571.43L321.25 571.35L321.50 571.45L321.75 571.66L322.00 571.41L322.25 571.30L322.50 571.36L323.00 571.78L323.25 571.65L323.50 571.64L323.75 571.75L324.00 571.77L324.25 571.55L324.50 571.44L324.75 571.49L325.50 572.13L325.75 572.25L326.00 572.18L326.25 572.04L326.75 571.49L327.00 571.29L327.25 571.26L327.50 571.41L327.75 571.68L328.00 571.50L328.25 571.41L328.50 571.49L328.75 571.70L329.25 571.83L329.50 571.95L329.75 571.94L330.00 571.74L330.25 571.61L330.50 571.61L330.75 571.73L331.00 571.93L331.25 571.82L331.50 571.80L331.75 571.87L332.25 572.16L332.50 572.13L333.00 571.93L333.25 571.92L333.50 571.79L333.75 571.50L334.00 571.30L334.25 571.27L334.50 571.42L335.00 571.96L335.25 572.09L335.75 572.21L338.00 572.33L338.25 572.33L339.25 571.94L339.50 571.92L340.00 572.04L340.50 571.62L340.75 571.51L341.00 571.55L341.50 571.94L342.00 571.79L342.25 571.83L343.00 572.24L343.75 572.27L345.00 572.05L345.50 571.60L345.75 571.46L346.00 571.48L346.25 571.65L346.75 572.10L347.00 572.17L347.75 572.07L348.25 571.88L348.50 571.90L349.00 572.12L349.50 571.96L349.75 571.93L350.25 571.95L350.50 571.83L350.75 571.79L351.00 571.85L351.50 571.49L351.75 571.46L352.00 571.58L352.50 572.03L352.75 572.20L353.00 572.08L353.50 571.66L353.75 571.54L354.00 571.55L354.25 571.70L354.50 571.92L355.00 571.62L355.25 571.56L355.50 571.64L355.75 571.56L356.00 571.27L356.25 571.14L356.50 571.20L356.75 571.45L357.25 572.04L357.50 572.21L358.25 571.87L358.50 571.88L358.75 571.83L359.00 571.71L359.25 571.70L359.50 571.80L359.75 571.97L360.00 571.97L360.25 571.82L360.50 571.73L360.75 571.75L361.25 572.04L361.50 572.01L362.00 571.46L362.25 571.26L362.50 571.25L362.75 571.42L363.00 571.52L363.25 571.27L363.50 571.18L363.75 571.30L364.25 571.86L364.50 572.08L365.00 571.89L365.25 571.90L365.75 572.08L366.25 572.12L367.00 572.00L368.00 572.32L368.25 572.33L369.50 572.17L370.00 571.93L370.25 571.88L370.50 571.92L371.25 572.26L372.25 572.26L372.50 572.09L373.25 571.29L373.50 571.20L373.75 571.31L374.00 571.56L374.25 571.51L374.50 571.32L374.75 571.30L375.00 571.46L375.50 571.99L375.75 572.19L376.50 571.80L376.75 571.77L377.00 571.85L377.25 571.99L377.50 571.98L377.75 571.92L378.25 571.99L378.75 571.55L379.00 571.46L379.25 571.52L379.75 571.95L380.00 572.08L380.25 572.01L380.50 572.01L380.75 571.87L381.25 571.39L381.50 571.33L381.75 571.44L382.50 572.16L382.75 572.28L383.50 572.22L383.75 572.04L384.25 571.53L384.50 571.36L384.75 571.35L385.00 571.51L385.50 572.02L385.75 572.21L387.00 571.89L387.25 571.84L387.50 571.89L388.00 572.14L388.25 572.09L388.50 571.96L389.00 571.55L389.25 571.49L389.50 571.58L390.00 572.01L390.25 572.16L390.75 571.95L391.00 571.91L391.25 571.96L391.75 571.86L392.00 571.88L392.25 571.75L392.50 571.53L392.75 571.42L393.00 571.48L393.25 571.67L393.75 571.29L394.00 571.24L394.25 571.39L394.50 571.66L394.75 571.60L395.00 571.44L395.25 571.43L395.50 571.58L395.75 571.82L396.00 571.89L396.25 571.83L396.50 571.86L396.75 571.98L397.00 571.88L397.25 571.68L397.50 571.56L397.75 571.58L398.00 571.72L398.25 571.93L398.75 571.53L399.00 571.45L399.25 571.54L399.75 571.97L400.00 572.08L400.75 572.16L401.50 571.90L401.75 571.93L402.50 572.25L403.75 572.15L404.50 571.99L405.00 571.52L405.25 571.41L405.50 571.46L406.25 572.12L406.50 572.27L407.00 572.24L407.25 572.12L408.00 571.37L408.25 571.28L408.50 571.38L409.00 571.89L409.50 571.63L409.75 571.62L410.00 571.74L410.25 571.91L410.50 571.85L410.75 571.87L411.25 572.03L411.75 571.94L412.00 571.76L412.25 571.65L412.50 571.66L413.00 571.89L413.25 571.66L413.50 571.49L413.75 571.46L414.25 571.77L414.50 571.71L414.75 571.77L415.25 571.50L415.50 571.50L415.75 571.64L416.00 571.48L416.25 571.24L416.50 571.18L416.75 571.33L417.25 571.90L417.50 572.14L417.75 572.08L418.50 571.29L418.75 571.21L419.00 571.33L419.50 571.89L419.75 571.84L420.00 571.87L420.25 571.80L420.50 571.56L420.75 571.42L421.00 571.43L421.25 571.60L421.50 571.84L421.75 571.91L422.00 571.76L422.25 571.71L422.50 571.77L422.75 571.91L423.00 571.97L423.50 571.65L424.00 571.64L424.25 571.42L424.50 571.34L424.75 571.43L425.50 572.14L425.75 572.28L428.00 571.78L428.25 571.79L428.75 572.05L429.00 572.02L429.25 571.92L429.50 571.89L430.00 572.06L430.50 572.05L431.00 571.74L431.25 571.67L431.75 571.74L432.00 571.52L432.25 571.42L432.50 571.49L433.00 571.93L433.25 571.94L433.75 571.37L434.00 571.16L434.25 571.14L434.50 571.33L434.75 571.64L435.00 571.58L435.25 571.36L435.50 571.30L435.75 571.41L436.25 571.93L436.75 571.89L437.25 571.41L437.50 571.32L437.75 571.40L438.50 572.12L438.75 572.27L439.00 572.31L439.50 572.26L439.75 572.09L440.50 571.31L440.75 571.23L441.00 571.34L441.25 571.55L441.50 571.39L441.75 571.38L442.25 571.66L442.50 571.53L442.75 571.54L443.00 571.68L443.25 571.89L443.75 571.63L444.00 571.59L444.25 571.68L444.75 572.05L445.00 571.95L445.25 571.91L445.50 571.95L445.75 571.80L446.00 571.74L446.25 571.78L446.75 572.08L447.00 572.17L447.50 572.19L448.25 571.99L449.00 571.99L449.25 572.03L449.50 571.98L449.75 571.84L450.00 571.78L450.25 571.82L450.75 572.04L451.00 571.93L451.25 571.88L451.50 571.92L451.75 572.03L452.00 571.84L452.25 571.57L452.50 571.38L452.75 571.35L453.00 571.48L453.25 571.73L453.50 571.81L453.75 571.61L454.00 571.50L454.25 571.55L454.75 571.92L455.00 571.77L455.25 571.70L455.50 571.75L456.00 572.07L456.50 571.93L457.00 571.97L457.50 571.58L457.75 571.52L458.00 571.60L458.50 572.02L459.50 572.20L459.75 572.16L460.50 571.67L460.75 571.65L461.00 571.75L461.25 571.92L461.75 571.52L462.00 571.48L462.25 571.59L462.50 571.44L462.75 571.23L463.00 571.21L463.25 571.37L463.50 571.62L463.75 571.49L464.00 571.49L464.25 571.64L464.50 571.46L464.75 571.43L465.25 571.70L465.50 571.39L465.75 571.19L466.00 571.18L466.25 571.36L466.50 571.66L466.75 571.77L467.00 571.58L467.25 571.51L467.50 571.58L467.75 571.77L468.00 571.79L468.25 571.57L468.50 571.45L468.75 571.48L469.00 571.65L469.50 572.11L469.75 572.13L470.00 571.98L470.50 571.43L470.75 571.25L471.00 571.27L471.25 571.46L471.75 571.14L472.00 571.21L472.25 571.46L472.50 571.77L472.75 571.91L473.00 571.89L473.25 571.96L474.00 571.87L474.25 571.67L474.50 571.56L474.75 571.59L475.00 571.74L475.25 571.79L475.50 571.50L475.75 571.28L476.00 571.22L476.25 571.36L476.75 571.92L477.25 571.91L477.75 571.56L478.00 571.51L478.25 571.60L478.50 571.80L478.75 571.61L479.00 571.48L479.25 571.50L479.50 571.66L480.00 571.27L480.25 571.28L480.50 571.47L481.00 572.00L481.25 572.00L481.75 571.64L482.00 571.59L482.25 571.68L483.00 572.21L483.50 572.16L484.25 571.50L484.50 571.40L484.75 571.48L485.50 572.14L485.75 571.98L486.25 571.47L486.50 571.33L486.75 571.36L487.00 571.56L487.25 571.82L487.75 571.49L488.00 571.46L488.25 571.58L488.50 571.80L488.75 571.88L489.00 571.85L489.25 571.90L489.75 571.40L490.00 571.24L490.25 571.26L490.50 571.47L491.00 572.03L491.25 572.05L491.50 571.80L492.00 571.23L492.25 571.14L492.50 571.26L493.00 571.85L493.25 572.04L493.75 571.72L494.00 571.67L494.25 571.74L494.75 572.08L495.00 572.17L495.25 572.07L495.75 571.71L496.00 571.63L496.25 571.68L496.50 571.83L496.75 571.75L497.00 571.57L497.25 571.50L497.50 571.59L498.25 572.19L498.50 572.18L499.25 571.46L499.50 571.32L499.75 571.36L500.00 571.56L500.50 572.07L501.00 571.99L501.50 572.06L502.00 571.66L502.25 571.56L502.50 571.60L503.25 572.16L504.00 572.06L504.50 571.54L504.75 571.35L505.00 571.32L505.25 571.46L505.75 571.98L506.00 572.19L506.25 572.28L509.00 572.26L509.25 572.11L509.75 571.66L510.00 571.48L510.25 571.45L510.50 571.57L510.75 571.79L511.00 571.65L511.25 571.43L511.50 571.36L511.75 571.45L512.00 571.68L512.25 571.52L512.50 571.28L512.75 571.20L513.00 571.32L513.25 572.40L513.25 572.40Z" fill="#6cbc78" stroke="#5a9a66" stroke-width="0.35"/>
<path d="M332.0 572.40L332.00 572.40L332.25 572.32L332.50 572.10L332.75 571.46L333.00 570.03L333.25 567.51L333.50 564.20L333.75 561.22L334.00 560.00L334.25 561.22L334.50 559.25L334.75 557.50L335.00 559.25L335.25 563.09L335.50 561.19L335.75 561.42L336.00 563.65L336.25 566.73L336.50 569.41L336.75 571.12L337.00 571.95L337.25 572.27L337.50 572.40L337.50 572.40ZM350.8 572.40L350.75 572.40L351.00 572.27L351.25 571.88L351.50 570.72L351.75 567.97L352.00 562.89L352.25 555.78L352.50 548.79L352.75 545.11L353.00 546.75L353.25 538.87L353.50 534.40L353.75 538.87L354.00 549.35L354.25 548.10L354.50 549.56L354.75 554.94L355.00 561.54L355.25 566.91L355.50 570.14L355.75 571.64L356.00 572.19L356.25 572.35L356.50 572.40L356.50 572.40ZM382.5 572.40L382.50 572.40L383.00 572.18L383.25 571.94L383.75 571.35L384.00 571.23L384.25 571.35L384.50 571.19L384.75 570.54L385.00 570.07L385.25 570.04L385.50 570.45L385.75 571.05L386.00 570.68L386.25 570.61L386.50 570.88L386.75 571.22L387.00 570.59L387.25 570.13L387.50 570.09L387.75 570.49L388.00 571.11L388.25 570.91L388.50 570.78L388.75 570.97L389.00 571.37L389.25 571.17L389.50 570.85L389.75 570.82L390.00 571.09L390.25 570.78L390.50 570.30L390.75 570.20L391.00 570.52L391.25 570.68L391.50 570.31L391.75 570.34L392.00 570.74L392.25 570.96L392.50 570.36L392.75 570.06L393.00 570.21L393.25 570.73L393.75 569.29L394.00 569.13L394.25 569.61L394.50 570.46L394.75 571.05L395.00 570.70L395.25 570.66L395.50 570.95L395.75 571.06L396.00 570.32L396.25 569.78L396.50 569.72L397.00 570.61L397.25 569.80L397.50 569.33L397.75 569.45L398.00 570.09L398.25 570.93L398.75 570.47L399.00 570.59L399.25 570.27L399.50 569.41L399.75 568.99L400.00 569.23L400.25 570.01L400.50 570.32L400.75 569.97L401.00 570.10L401.25 570.63L401.50 570.68L401.75 570.11L402.00 569.91L402.25 570.21L402.50 570.66L402.75 570.35L403.00 570.43L403.25 570.75L403.50 570.25L403.75 570.13L404.00 570.42L404.25 569.45L404.50 568.84L404.75 568.90L405.00 569.60L405.25 569.53L405.50 568.40L405.75 567.87L406.00 568.23L406.25 569.28L406.50 568.82L406.75 568.66L407.00 569.22L407.25 570.21L407.50 570.10L407.75 569.69L408.00 569.81L408.25 570.39L408.50 570.82L408.75 570.33L409.00 570.19L409.25 570.49L409.50 571.05L409.75 570.59L410.00 570.39L410.25 570.59L410.50 569.72L410.75 569.10L411.00 569.11L411.50 570.29L411.75 569.68L412.00 569.54L412.25 569.96L412.50 570.70L412.75 570.71L413.00 570.39L413.25 570.46L413.50 570.88L413.75 571.21L414.00 570.91L414.25 570.89L414.50 571.16L414.75 570.90L415.00 570.41L415.25 570.25L415.50 570.52L415.75 571.06L416.00 571.24L416.25 571.15L416.50 571.30L416.75 571.57L417.00 571.08L417.25 570.69L417.50 570.61L417.75 570.87L418.25 571.80L418.50 572.12L418.75 572.30L419.25 572.40L419.25 572.40ZM443.0 572.40L443.00 572.40L443.50 572.30L443.75 572.15L444.00 571.83L444.25 571.26L444.50 570.34L444.75 569.08L445.00 567.61L445.25 566.22L445.50 565.26L445.75 565.02L446.00 565.57L446.25 566.74L446.75 569.62L447.00 570.75L447.25 571.53L447.50 571.98L447.75 572.21L448.00 571.78L448.25 570.67L448.50 568.34L448.75 564.41L449.00 559.18L449.25 554.01L449.50 550.90L449.75 551.27L450.00 554.94L450.25 537.22L450.50 512.93L450.75 494.10L451.00 492.12L451.25 508.30L451.50 532.53L451.75 550.03L452.00 548.00L452.25 550.03L452.50 555.16L452.75 561.23L453.00 566.32L453.25 569.61L453.50 571.33L453.75 571.05L454.00 570.18L454.50 568.08L454.75 567.29L455.00 567.00L455.25 567.29L455.50 568.08L456.00 570.18L456.25 571.05L456.50 571.67L456.75 572.05L457.00 572.25L457.25 572.11L457.50 571.80L457.75 571.30L458.00 570.59L458.50 568.88L458.75 568.24L459.00 568.00L459.25 568.24L459.50 568.88L460.00 570.59L460.25 571.30L460.50 570.09L460.75 567.85L461.25 561.94L461.50 560.17L461.75 560.38L462.00 561.36L462.25 555.94L462.50 551.78L462.75 550.68L463.00 553.16L463.25 558.08L463.50 550.52L463.75 529.42L464.00 506.66L464.25 494.09L464.50 499.75L464.75 519.91L465.00 542.86L465.25 559.46L465.50 563.64L465.75 561.03L466.00 560.00L466.25 561.03L466.50 563.64L466.75 566.72L467.00 569.31L467.25 570.98L467.50 568.03L467.75 560.80L468.00 548.45L468.25 533.89L468.50 524.17L468.75 525.36L469.00 536.67L469.25 551.27L469.50 562.66L469.75 562.86L470.00 562.00L470.25 562.86L470.50 565.05L470.75 567.64L471.00 569.28L471.25 568.00L471.50 566.85L471.75 566.13L472.00 566.06L472.25 566.66L472.50 567.75L472.75 569.03L473.00 570.22L473.25 571.13L473.50 571.74L473.75 571.55L474.00 571.00L474.50 569.68L474.75 569.18L475.00 569.00L475.25 569.18L475.50 569.68L476.00 571.00L476.25 571.55L476.50 571.94L476.75 572.18L477.00 572.30L477.50 572.40L477.50 572.40ZM479.0 572.40L479.00 572.40L479.25 572.33L479.50 572.13L479.75 571.61L480.00 570.60L480.25 569.20L480.50 567.97L480.75 567.62L481.00 568.39L481.25 569.78L481.50 571.07L481.75 571.87L482.00 572.24L482.25 572.36L482.50 572.40L482.50 572.40Z" fill="#30b430" stroke="#2a702a" stroke-width="0.42"/>
<rect x="5.00" y="579.80" width="509.50" height="2.4" fill="#f1e9ec"/>
<rect x="5.00" y="584.00" width="509.50" height="3" fill="#eefaf6"/>
<rect x="5.00" y="587.10" width="509.50" height="2.0" fill="#a2cbc0"/>
<rect x="5.00" y="589.00" width="509.50" height="7.80" fill="#ebe9d7"/>
<rect x="5.00" y="596.80" width="509.50" height="1.6" fill="#f3f4e8"/>
<rect x="173.00" y="589.00" width="0.8" height="7.80" fill="#a8a898"/>
<rect x="290.00" y="589.00" width="0.8" height="7.80" fill="#a8a898"/>
<text x="3.20" y="594.60" class="hd" textLength="37.50" lengthAdjust="spacingAndGlyphs">04_H09.fsa</text>
<text x="176.20" y="594.60" class="hd" textLength="33.80" lengthAdjust="spacingAndGlyphs">CD57+GB</text>
<text x="291.50" y="594.60" class="hd" textLength="62.50" lengthAdjust="spacingAndGlyphs">DS_33_3130_POP7</text>
<rect x="382.30" y="588.60" width="26.20" height="8.80" fill="#fdfdfb" stroke="#a4a49c" stroke-width="0.6"/>
<rect x="408.50" y="588.60" width="30.70" height="8.80" fill="#fdfdfb" stroke="#a4a49c" stroke-width="0.6"/>
<rect x="384.60" y="590.20" width="11.20" height="5.80" rx="1.6" fill="url(#gbtn)" stroke="#127a12" stroke-width="0.7"/>
<rect x="411.50" y="590.20" width="11.50" height="5.80" rx="1.6" fill="url(#gbtn)" stroke="#127a12" stroke-width="0.7"/>
<rect x="26.65" y="608.90" width="1.1" height="146.10" fill="#303030"/>
<rect x="27.20" y="608.75" width="487.30" height="1.3" fill="#7c7c7c"/>
<rect x="27.20" y="753.90" width="487.30" height="1.2" fill="#8c8c8c"/>
<rect x="26.60" y="608.60" width="1.2" height="1.6" fill="#222"/>
<text transform="translate(28.20 607.20) scale(0.660 0.440)" class="ax" text-anchor="middle">0</text>
<rect x="61.38" y="608.60" width="1.2" height="1.6" fill="#222"/>
<rect x="96.16" y="608.60" width="1.2" height="1.6" fill="#222"/>
<text transform="translate(97.76 607.20) scale(0.660 0.440)" class="ax" text-anchor="middle">40</text>
<rect x="130.94" y="608.60" width="1.2" height="1.6" fill="#222"/>
<rect x="165.72" y="608.60" width="1.2" height="1.6" fill="#222"/>
<text transform="translate(167.32 607.20) scale(0.660 0.440)" class="ax" text-anchor="middle">80</text>
<rect x="200.50" y="608.60" width="1.2" height="1.6" fill="#222"/>
<rect x="235.28" y="608.60" width="1.2" height="1.6" fill="#222"/>
<text transform="translate(236.88 607.20) scale(0.660 0.440)" class="ax" text-anchor="middle">120</text>
<rect x="270.06" y="608.60" width="1.2" height="1.6" fill="#222"/>
<rect x="304.84" y="608.60" width="1.2" height="1.6" fill="#222"/>
<text transform="translate(306.44 607.20) scale(0.660 0.440)" class="ax" text-anchor="middle">160</text>
<rect x="339.62" y="608.60" width="1.2" height="1.6" fill="#222"/>
<rect x="374.40" y="608.60" width="1.2" height="1.6" fill="#222"/>
<text transform="translate(376.00 607.20) scale(0.660 0.440)" class="ax" text-anchor="middle">200</text>
<rect x="409.18" y="608.60" width="1.2" height="1.6" fill="#222"/>
<rect x="443.96" y="608.60" width="1.2" height="1.6" fill="#222"/>
<text transform="translate(445.56 607.20) scale(0.660 0.440)" class="ax" text-anchor="middle">240</text>
<rect x="478.74" y="608.60" width="1.2" height="1.6" fill="#222"/>
<rect x="513.52" y="608.60" width="1.2" height="1.6" fill="#222"/>
<text transform="translate(515.12 607.20) scale(0.660 0.440)" class="ax" text-anchor="middle">280</text>
<rect x="25.90" y="622.75" width="2.6" height="1.1" fill="#222"/>
<text transform="translate(23.80 625.10) scale(0.660 0.440)" class="ax" text-anchor="end">3600</text>
<rect x="25.90" y="637.22" width="2.6" height="1.1" fill="#222"/>
<text transform="translate(23.80 639.57) scale(0.660 0.440)" class="ax" text-anchor="end">3200</text>
<rect x="25.90" y="651.69" width="2.6" height="1.1" fill="#222"/>
<text transform="translate(23.80 654.04) scale(0.660 0.440)" class="ax" text-anchor="end">2800</text>
<rect x="25.90" y="666.16" width="2.6" height="1.1" fill="#222"/>
<text transform="translate(23.80 668.51) scale(0.660 0.440)" class="ax" text-anchor="end">2400</text>
<rect x="25.90" y="680.63" width="2.6" height="1.1" fill="#222"/>
<text transform="translate(23.80 682.98) scale(0.660 0.440)" class="ax" text-anchor="end">2000</text>
<rect x="25.90" y="695.10" width="2.6" height="1.1" fill="#222"/>
<text transform="translate(23.80 697.45) scale(0.660 0.440)" class="ax" text-anchor="end">1600</text>
<rect x="25.90" y="709.57" width="2.6" height="1.1" fill="#222"/>
<text transform="translate(23.80 711.92) scale(0.660 0.440)" class="ax" text-anchor="end">1200</text>
<rect x="25.90" y="724.04" width="2.6" height="1.1" fill="#222"/>
<text transform="translate(23.80 726.39) scale(0.660 0.440)" class="ax" text-anchor="end">800</text>
<rect x="25.90" y="738.51" width="2.6" height="1.1" fill="#222"/>
<text transform="translate(23.80 740.86) scale(0.660 0.440)" class="ax" text-anchor="end">400</text>
<rect x="25.90" y="752.98" width="2.6" height="1.1" fill="#222"/>
<text transform="translate(23.80 755.33) scale(0.660 0.440)" class="ax" text-anchor="end">0</text>
<rect x="26.00" y="630.03" width="2.4" height="1" fill="#333"/>
<rect x="26.00" y="644.50" width="2.4" height="1" fill="#333"/>
<rect x="26.00" y="658.98" width="2.4" height="1" fill="#333"/>
<rect x="26.00" y="673.44" width="2.4" height="1" fill="#333"/>
<rect x="26.00" y="687.91" width="2.4" height="1" fill="#333"/>
<rect x="26.00" y="702.38" width="2.4" height="1" fill="#333"/>
<rect x="26.00" y="716.86" width="2.4" height="1" fill="#333"/>
<rect x="26.00" y="731.32" width="2.4" height="1" fill="#333"/>
<rect x="26.00" y="745.79" width="2.4" height="1" fill="#333"/>
<rect x="26.00" y="615.56" width="2.4" height="1" fill="#333"/>
<text x="42.50" y="637.20" class="tc" textLength="117.50" lengthAdjust="spacingAndGlyphs">TCRG Tube B</text>
<path d="M178.5 753.30L178.50 753.30L180.00 752.94L180.75 753.13L182.00 753.18L182.25 753.16L182.50 752.98L182.75 752.68L183.25 751.92L183.50 751.71L183.75 751.77L184.25 752.35L184.50 752.27L184.75 752.37L185.00 752.59L185.25 752.66L185.50 752.58L185.75 752.61L186.25 752.93L186.50 753.00L187.50 753.19L188.75 753.17L189.50 752.74L189.75 752.66L190.00 752.67L190.25 752.78L190.50 751.86L190.75 750.16L191.00 748.00L191.25 746.32L191.50 745.05L191.75 743.06L192.00 743.97L192.25 747.05L192.50 750.23L192.75 752.19L193.00 753.01L193.25 753.21L193.50 753.20L194.50 752.72L194.75 752.70L195.25 752.93L195.75 752.77L196.00 752.77L196.25 752.86L196.50 752.81L196.75 752.62L197.00 752.51L197.25 752.53L197.50 752.67L198.00 752.01L198.25 751.86L198.50 751.95L198.75 752.23L199.25 752.90L199.50 752.61L200.00 751.91L200.25 751.79L200.50 751.91L201.00 752.60L201.25 752.92L201.75 753.05L202.50 752.44L202.75 752.37L203.00 752.46L203.25 752.64L203.75 752.00L204.00 751.89L204.25 752.02L204.75 752.67L205.25 752.80L205.75 753.07L206.00 753.11L207.00 753.19L207.50 753.14L207.75 753.06L208.50 752.31L208.75 752.18L209.00 752.24L209.50 752.61L209.75 752.27L210.00 752.02L210.25 751.96L210.50 752.11L211.00 752.75L211.25 752.98L211.50 752.84L212.00 752.49L212.25 752.46L212.50 752.58L213.25 753.13L213.50 753.17L214.25 752.64L214.50 752.51L214.75 752.50L215.00 752.62L215.50 753.01L216.75 753.18L217.75 752.87L218.25 752.93L218.75 752.71L219.00 752.72L219.25 752.82L219.50 752.53L219.75 752.18L220.00 751.93L220.25 751.89L220.50 752.07L220.75 752.41L221.00 752.67L221.25 752.70L221.75 752.29L222.00 752.25L222.25 752.38L222.75 752.88L223.00 753.03L223.75 753.04L224.00 753.02L224.50 752.83L224.75 752.62L225.00 752.32L225.25 752.12L225.50 752.09L225.75 752.27L226.25 752.85L226.50 753.03L226.75 753.07L227.50 752.93L227.75 752.97L228.25 752.64L228.50 752.59L229.00 752.67L229.25 752.46L229.50 752.36L229.75 752.41L230.25 752.83L230.50 752.72L230.75 752.23L231.00 751.53L231.50 749.86L231.75 749.23L232.00 749.00L232.25 749.23L232.50 749.86L233.00 751.53L233.25 752.23L233.50 752.56L233.75 752.10L234.00 751.33L234.50 749.46L234.75 748.76L235.00 748.50L235.25 748.76L235.50 749.46L236.00 751.33L236.25 752.10L236.50 752.65L237.00 752.77L237.50 752.26L237.75 752.12L238.00 752.17L238.25 752.30L238.50 751.95L238.75 751.76L239.00 751.83L239.25 752.12L239.50 751.97L239.75 752.02L240.00 752.25L240.25 752.01L240.50 751.90L240.75 752.03L241.25 751.76L241.50 751.86L241.75 752.16L242.00 752.26L242.25 751.90L242.50 751.72L242.75 751.80L243.00 752.10L243.25 752.49L243.50 752.58L243.75 751.98L244.00 751.12L244.50 749.06L244.75 748.29L245.00 748.00L245.25 748.29L245.50 749.06L246.00 751.12L246.25 751.98L246.50 752.58L246.75 752.63L247.00 752.54L247.25 752.59L248.00 753.09L248.25 752.98L248.50 752.65L248.75 752.10L249.00 751.33L249.50 749.46L249.75 748.76L250.00 748.50L250.25 748.76L250.50 749.46L251.00 751.33L251.25 752.10L251.75 752.59L252.00 752.72L252.25 752.67L252.50 752.52L252.75 751.85L253.00 750.92L253.50 748.66L253.75 747.81L254.00 747.50L254.25 747.81L254.50 748.66L255.00 750.92L255.25 751.85L255.50 752.48L255.75 752.10L256.00 751.33L256.50 749.46L256.75 748.76L257.00 748.50L257.25 748.76L257.50 749.46L258.00 751.33L258.25 752.10L258.50 752.65L258.75 752.73L259.25 752.18L259.50 752.09L259.75 752.20L260.00 752.47L260.50 752.18L260.75 752.21L261.00 752.41L261.50 752.93L261.75 752.87L262.25 752.30L262.50 752.13L262.75 752.14L263.00 752.34L263.25 751.79L263.50 750.62L263.75 749.30L264.00 748.29L264.25 748.02L264.50 747.68L264.75 747.78L265.00 748.74L265.25 750.13L265.50 751.45L265.75 752.23L266.00 751.93L266.25 751.82L266.50 751.95L267.00 752.64L267.25 752.94L267.75 752.95L268.25 752.58L268.50 752.44L268.75 752.44L269.00 752.58L269.25 752.79L269.50 752.90L269.75 752.77L270.00 752.71L270.25 752.75L270.50 752.86L271.00 752.24L271.25 752.00L271.50 751.95L271.75 752.12L272.00 752.44L272.25 752.41L272.50 752.30L272.75 752.36L273.00 752.56L273.25 752.65L273.50 752.34L273.75 752.11L274.00 752.05L274.25 752.20L274.50 752.22L274.75 751.99L275.00 751.96L275.25 752.15L275.50 752.47L275.75 752.71L276.00 752.74L276.25 752.85L276.50 752.62L276.75 752.28L277.00 752.02L277.25 751.95L277.50 752.10L278.00 752.74L278.25 752.84L278.50 752.81L279.00 752.17L279.25 751.97L279.50 751.99L279.75 752.21L280.00 752.36L280.25 752.01L280.50 751.81L280.75 751.86L281.00 752.13L281.25 752.48L281.50 752.17L281.75 752.00L282.00 752.04L282.25 752.27L282.50 752.60L282.75 752.77L283.00 752.72L283.50 752.79L283.75 752.61L284.00 752.52L284.50 752.58L284.75 752.25L285.00 752.01L285.25 751.97L285.50 752.15L286.00 752.79L286.25 753.04L286.50 753.15L287.25 752.88L287.50 752.88L288.25 753.12L288.75 753.14L289.00 753.09L289.75 752.86L290.00 752.65L290.25 752.33L290.50 752.08L290.75 752.02L291.00 752.17L291.50 752.77L291.75 752.86L292.00 752.88L292.25 752.96L292.50 752.94L293.00 752.66L293.25 752.65L293.50 752.46L293.75 752.08L294.00 751.81L294.25 751.77L294.50 751.98L294.75 752.34L295.00 752.40L295.25 752.17L295.50 752.11L295.75 752.24L296.00 752.25L296.25 752.03L296.50 752.02L297.00 752.43L297.25 752.13L297.50 751.98L297.75 752.04L298.00 752.29L298.25 752.21L298.50 752.06L298.75 752.11L299.00 752.34L299.25 752.65L299.50 752.78L299.75 752.69L300.00 752.70L300.25 752.80L300.75 752.21L301.00 752.06L301.25 752.11L301.75 752.61L302.00 752.24L302.25 751.94L302.50 751.83L302.75 751.96L303.25 752.64L303.50 752.94L303.75 753.08L304.00 752.99L304.50 752.47L304.75 752.26L305.00 752.21L305.25 752.33L305.50 752.58L305.75 752.56L306.00 752.61L306.25 752.76L306.75 752.10L307.00 751.88L307.25 751.88L307.50 752.11L308.00 752.80L308.25 753.05L308.50 753.10L308.75 752.88L309.25 752.22L309.50 751.97L309.75 751.93L310.00 752.11L310.50 752.76L310.75 752.80L311.00 752.51L311.25 752.15L311.50 751.89L311.75 751.84L312.00 752.04L312.25 752.38L312.50 752.57L312.75 752.35L313.00 752.25L313.50 752.39L313.75 752.10L314.00 751.98L314.25 752.07L314.75 752.57L315.00 752.30L315.25 752.15L315.50 752.19L315.75 752.40L316.00 752.68L316.25 752.83L316.50 752.79L317.00 752.87L317.25 752.76L317.50 752.73L317.75 752.79L318.25 752.51L318.50 752.47L318.75 752.53L319.00 752.27L319.25 752.15L319.50 752.22L319.75 752.44L320.25 752.98L320.50 753.00L321.00 752.72L321.25 752.68L321.50 752.74L321.75 752.31L322.00 751.41L322.25 750.28L322.50 749.24L322.75 748.72L323.00 748.95L323.25 749.83L323.50 750.97L323.75 751.99L324.00 752.31L324.25 751.36L324.75 748.83L325.00 748.07L325.25 748.16L325.50 749.06L325.75 750.35L326.00 751.58L326.25 752.42L326.50 752.55L326.75 752.57L327.00 752.25L327.25 752.02L327.50 752.00L327.75 752.18L328.25 752.81L328.50 752.78L328.75 752.81L329.00 752.91L329.50 752.35L329.75 752.16L330.00 752.14L330.25 752.31L330.50 751.06L330.75 748.90L331.25 743.18L331.50 741.47L331.75 741.67L332.00 743.69L332.25 746.63L332.50 745.59L332.75 739.84L333.00 734.17L333.25 731.19L333.50 732.52L333.75 737.41L334.00 743.42L334.25 748.31L334.50 751.25L334.75 750.48L335.00 749.51L335.25 749.01L335.50 749.23L335.75 750.05L336.00 751.12L336.25 751.94L336.50 751.89L336.75 752.07L337.00 752.39L337.25 752.46L337.50 752.33L337.75 752.35L338.00 752.44L338.25 752.08L338.50 751.84L338.75 751.83L339.25 752.33L339.50 752.02L339.75 751.87L340.00 751.96L340.25 752.24L340.50 752.60L341.00 752.23L341.25 752.20L341.50 752.35L341.75 752.61L342.00 752.81L342.25 752.63L342.50 752.52L342.75 752.55L343.00 752.47L343.25 752.15L343.50 751.97L343.75 751.99L344.00 752.23L344.50 752.84L344.75 752.81L345.25 752.90L345.75 752.57L346.00 752.54L346.25 752.40L346.50 752.10L346.75 751.96L347.00 752.04L347.25 752.31L347.75 751.78L348.00 751.77L348.50 752.25L348.75 751.93L349.00 751.80L349.25 751.92L349.50 752.23L350.00 752.92L350.25 752.83L350.75 752.25L351.00 752.09L351.25 752.12L351.50 751.86L351.75 751.00L352.00 750.21L352.25 749.81L352.50 749.99L352.75 750.66L353.00 751.53L353.25 752.30L353.50 752.72L353.75 752.77L354.00 752.71L354.25 752.74L354.75 753.00L355.25 752.77L355.50 752.75L355.75 752.81L356.00 752.77L356.25 752.52L356.50 752.34L356.75 752.31L357.00 752.45L357.50 752.20L357.75 752.27L358.50 753.00L359.00 753.13L360.75 753.30L360.75 753.30ZM498.0 753.30L498.00 753.30L498.50 753.08L498.75 752.80L499.00 752.35L499.50 751.27L499.75 751.01L500.00 751.12L500.25 751.56L500.50 752.14L500.75 752.64L501.00 752.99L501.25 753.18L501.75 753.30L501.75 753.30Z" fill="#1010e0" stroke="#2a2a78" stroke-width="0.42"/>
<rect x="221.60" y="659.00" width="0.80" height="94.30" fill="#3a3a72"/>
<path d="M218.3 753.30L218.30 753.04L218.55 752.68L218.80 751.90L219.05 750.39L219.30 747.69L219.55 743.29L219.80 736.77L220.05 728.03L220.30 717.54L220.55 706.45L220.80 696.48L221.05 689.51L221.30 687.00L221.55 689.51L221.80 696.48L222.05 691.83L222.30 687.41L222.55 687.91L222.80 693.24L223.05 701.23L223.30 700.82L223.55 704.35L223.80 711.02L224.05 719.50L224.30 728.28L224.55 736.16L224.80 742.43L225.05 746.92L225.30 749.83L225.55 751.55L225.80 752.49L226.05 752.95L226.05 753.30Z" fill="#8a8ac0"/>
<path d="M218.3 753.30L218.30 753.30L220.10 753.30L220.30 751.63L220.50 712.11L220.70 694.04L220.90 692.76L221.70 692.76L221.90 694.04L222.10 694.20L222.70 694.20L222.90 694.40L223.10 699.90L223.30 705.05L223.50 705.05L223.70 705.22L223.90 709.70L224.10 739.50L224.30 753.30L226.10 753.30L226.10 753.30Z" fill="#1010e0" stroke="#1c1c90" stroke-width="0.3"/>
<line x1="221.60" y1="687.40" x2="221.60" y2="706.89" stroke="#2a2a78" stroke-width="0.75"/>
<line x1="222.70" y1="687.40" x2="222.70" y2="706.89" stroke="#2a2a78" stroke-width="0.75"/>
<line x1="223.50" y1="700.90" x2="223.50" y2="716.34" stroke="#2a2a78" stroke-width="0.75"/>
<path d="M235.9 753.30L235.90 753.17L236.15 752.97L236.40 752.57L236.65 751.78L236.90 750.36L237.15 748.06L237.40 744.65L237.65 740.07L237.90 734.58L238.15 728.78L238.40 723.56L238.65 719.91L238.90 718.60L239.15 719.91L239.40 723.56L239.65 723.91L239.90 720.81L240.15 720.05L240.40 721.80L240.65 724.74L240.90 722.69L241.15 722.92L241.40 725.40L241.65 729.57L242.15 739.69L242.40 744.11L242.65 747.56L242.90 749.98L243.15 751.52L243.40 752.42L243.65 752.90L243.90 753.13L243.90 753.30Z" fill="#8a8ac0"/>
<path d="M235.9 753.30L235.90 753.30L237.70 753.30L237.90 752.40L238.10 731.23L238.30 721.54L238.50 720.85L239.30 720.85L239.50 721.54L239.70 721.91L240.50 721.91L240.70 722.58L240.90 723.80L241.30 723.80L241.50 723.90L241.70 726.64L241.90 744.86L242.10 753.30L243.90 753.30L243.90 753.30Z" fill="#1010e0" stroke="#1c1c90" stroke-width="0.3"/>
<line x1="239.20" y1="719.00" x2="239.20" y2="729.01" stroke="#2a2a78" stroke-width="0.75"/>
<line x1="240.40" y1="720.40" x2="240.40" y2="729.99" stroke="#2a2a78" stroke-width="0.75"/>
<line x1="241.30" y1="722.90" x2="241.30" y2="731.74" stroke="#2a2a78" stroke-width="0.75"/>
<rect x="288.90" y="611.50" width="0.80" height="141.80" fill="#3a3a72"/>
<path d="M284.9 753.30L284.90 752.88L285.15 752.28L285.40 751.01L285.65 748.54L285.90 744.13L286.15 736.95L286.40 726.30L286.65 712.02L286.90 694.88L287.15 676.77L287.40 660.49L287.65 649.10L287.90 645.00L288.15 649.10L288.40 660.49L288.65 669.86L288.90 655.19L289.15 646.49L289.40 645.67L289.65 652.89L289.90 666.58L290.15 677.62L290.40 679.35L290.65 686.41L290.90 697.28L291.15 709.88L291.40 722.14L291.65 732.60L291.90 740.57L292.15 746.05L292.40 749.48L292.65 751.44L292.90 752.46L293.15 752.95L293.15 753.30Z" fill="#8a8ac0"/>
<path d="M284.9 753.30L284.90 753.30L286.70 753.30L286.90 750.62L287.10 687.31L287.30 658.34L287.50 656.30L288.30 656.30L288.70 660.39L288.90 658.39L289.70 658.39L289.90 660.39L290.10 678.07L290.50 678.08L290.70 678.34L290.90 685.33L291.10 731.79L291.30 753.29L293.10 753.30L293.10 753.30Z" fill="#1010e0" stroke="#1c1c90" stroke-width="0.3"/>
<line x1="288.20" y1="645.40" x2="288.20" y2="677.49" stroke="#2a2a78" stroke-width="0.75"/>
<line x1="289.60" y1="645.40" x2="289.60" y2="677.49" stroke="#2a2a78" stroke-width="0.75"/>
<line x1="290.50" y1="677.90" x2="290.50" y2="700.24" stroke="#2a2a78" stroke-width="0.75"/>
<path d="M338.2 753.30L338.20 753.11L338.45 752.83L338.70 752.24L338.95 751.09L339.20 749.05L339.45 745.72L339.70 740.78L339.95 734.17L340.20 726.22L340.45 717.83L340.70 710.28L340.95 705.00L341.20 703.10L341.45 705.00L341.70 710.28L341.95 708.08L342.20 693.14L342.45 679.21L342.70 668.83L342.95 664.14L343.20 666.18L343.45 657.52L343.70 650.64L343.95 651.42L344.20 659.71L344.45 673.71L344.70 690.65L344.95 707.64L345.20 722.49L345.45 724.09L345.70 721.99L345.95 722.23L346.20 724.76L346.45 729.03L346.95 739.38L347.20 743.91L347.45 747.43L347.70 749.91L347.95 751.48L348.20 752.40L348.45 752.89L348.70 753.12L348.70 753.30Z" fill="#8a8ac0"/>
<path d="M338.2 753.30L338.20 753.30L340.00 753.30L340.20 751.99L340.40 720.95L340.60 706.76L340.80 705.76L341.60 705.76L341.80 706.76L342.00 720.95L342.20 707.47L342.40 687.35L342.60 685.93L343.40 685.93L343.60 687.35L343.80 688.11L344.20 688.14L344.40 689.51L344.60 708.97L344.80 721.39L345.00 721.40L345.20 722.08L345.40 724.93L346.20 724.93L346.40 725.53L346.60 734.00L346.80 752.52L347.00 753.30L348.80 753.30L348.80 753.30Z" fill="#1010e0" stroke="#1c1c90" stroke-width="0.3"/>
<line x1="341.50" y1="703.50" x2="341.50" y2="718.16" stroke="#2a2a78" stroke-width="0.75"/>
<line x1="343.30" y1="664.40" x2="343.30" y2="690.79" stroke="#2a2a78" stroke-width="0.75"/>
<line x1="344.10" y1="650.40" x2="344.10" y2="680.99" stroke="#2a2a78" stroke-width="0.75"/>
<line x1="344.90" y1="718.80" x2="344.90" y2="728.87" stroke="#2a2a78" stroke-width="0.75"/>
<line x1="346.10" y1="722.20" x2="346.10" y2="731.25" stroke="#2a2a78" stroke-width="0.75"/>
<rect x="343.45" y="643.60" width="0.70" height="89.70" fill="#3a3a72"/>
<rect x="80.00" y="753.60" width="434.00" height="1.9" fill="#adc9b2"/>
<rect x="80.00" y="752.20" width="434.00" height="1.4" fill="#6aa876"/>
<path d="M79.70 750.70 L81.60 753.90" stroke="#3c4a44" stroke-width="0.9"/>
<path d="M79.8 753.30L79.75 753.30L80.00 753.11L80.75 752.92L81.00 752.92L83.25 753.30L83.25 753.30ZM84.2 753.30L84.25 753.30L86.75 753.23L88.00 752.93L88.50 753.06L88.75 753.08L89.75 752.94L90.25 752.72L90.50 752.73L90.75 752.83L91.25 752.79L92.25 753.20L93.75 753.22L94.50 753.18L95.50 752.92L96.00 753.05L97.25 753.17L98.00 752.91L98.25 752.90L99.00 753.12L99.75 753.14L100.75 753.00L101.25 752.83L101.50 752.84L102.25 753.15L103.00 753.14L104.25 753.09L105.00 752.86L105.50 752.90L105.75 752.77L106.00 752.71L106.25 752.75L106.75 753.02L107.75 753.21L110.25 752.86L110.50 752.84L111.00 752.98L111.50 752.78L111.75 752.79L112.25 752.94L112.50 752.89L112.75 752.90L113.25 753.05L114.25 752.97L114.75 752.80L115.00 752.82L115.50 753.04L115.75 753.08L117.50 753.24L118.75 752.92L119.25 753.07L120.00 752.81L120.25 752.83L120.75 753.05L122.25 753.30L122.25 753.30ZM122.2 753.30L122.25 753.30L124.50 753.30L124.50 753.30ZM124.5 753.30L124.50 753.30L127.50 753.25L129.25 753.06L129.50 753.02L130.00 752.82L130.25 752.82L131.00 753.13L133.00 753.10L133.75 752.74L134.00 752.74L135.00 753.20L136.00 753.14L137.75 753.21L139.00 753.10L139.75 752.74L140.00 752.74L140.50 752.96L140.75 753.04L141.50 753.05L141.75 753.03L142.25 752.89L142.50 752.92L143.00 752.77L143.25 752.78L143.75 752.99L144.25 752.79L144.50 752.79L145.25 753.12L152.00 753.30L152.00 753.30ZM152.2 753.30L152.25 753.30L155.50 753.08L156.25 752.80L156.50 752.81L157.25 753.11L158.75 753.23L159.75 753.10L160.50 752.81L160.75 752.81L161.75 753.21L163.25 753.03L164.25 753.02L165.00 753.06L165.25 753.05L165.75 752.82L166.00 752.78L166.25 752.83L167.00 753.15L168.50 753.21L170.25 753.15L171.00 753.05L171.50 752.84L171.75 752.81L172.25 752.98L172.50 753.00L173.00 752.80L173.25 752.80L173.75 753.01L174.25 752.83L174.50 752.81L175.25 753.11L175.50 753.17L177.75 753.23L178.75 753.15L179.50 752.78L179.75 752.73L180.00 752.77L180.25 752.89L180.75 752.74L181.00 752.76L181.50 753.00L182.00 752.77L182.25 752.73L182.50 752.78L183.25 753.16L184.25 753.16L185.00 752.93L185.75 753.04L186.25 752.82L186.50 752.80L187.00 752.97L187.50 752.91L188.75 753.25L189.75 752.81L190.00 752.76L190.25 752.79L190.75 753.02L191.25 752.85L191.50 752.87L192.25 753.16L194.00 753.12L194.75 752.77L195.00 752.72L195.25 752.77L195.75 753.03L196.50 753.12L197.25 752.88L197.50 752.87L198.25 753.13L199.00 752.78L199.25 752.76L200.25 753.19L200.50 753.21L200.75 753.17L201.50 752.78L201.75 752.71L202.00 752.75L202.75 753.11L203.75 753.20L204.75 752.74L205.00 752.72L205.75 753.04L206.75 753.12L208.00 753.11L208.75 752.81L209.00 752.82L209.75 753.14L211.25 753.20L214.75 753.09L216.00 753.10L216.25 753.12L217.25 753.13L217.50 753.12L218.75 753.07L219.75 753.06L222.25 753.20L223.25 752.87L224.00 753.09L224.75 753.13L228.00 753.15L228.75 752.85L229.00 752.84L229.50 753.02L230.50 753.06L231.00 752.81L231.25 752.75L231.50 752.79L232.00 752.99L233.00 753.07L234.00 753.10L235.25 753.11L236.50 753.08L237.25 752.88L237.75 753.03L238.25 752.80L238.50 752.74L238.75 752.77L239.25 752.99L240.00 753.07L240.75 752.81L241.00 752.81L244.75 752.85L245.00 752.83L246.00 753.20L246.50 753.21L247.50 752.90L247.75 752.93L248.25 752.79L248.50 752.78L249.50 753.18L251.50 753.06L252.00 752.78L252.25 752.71L252.50 752.74L253.50 753.21L253.75 753.21L255.50 753.18L255.75 753.16L256.50 752.88L256.75 752.87L257.25 752.98L258.50 753.20L259.50 752.93L260.75 753.25L262.00 752.83L262.25 752.86L263.25 753.24L264.25 753.30L264.25 753.30ZM264.5 753.30L264.50 753.30L267.00 753.12L267.75 752.82L268.00 752.82L269.00 753.21L269.25 753.20L271.25 753.19L272.25 752.89L273.50 753.24L274.75 752.92L276.75 753.30L276.75 753.30ZM276.8 753.30L276.75 753.30L279.00 753.07L280.50 753.18L284.75 753.12L285.50 752.85L285.75 752.87L286.25 753.03L288.00 753.16L289.00 752.86L290.00 753.19L290.25 753.13L291.00 752.77L291.25 752.74L291.75 752.86L292.00 752.81L292.25 752.84L292.75 753.05L293.75 753.14L294.75 753.10L295.50 752.89L296.25 753.11L296.50 753.14L297.50 753.10L298.25 752.88L299.00 753.11L300.75 753.30L300.75 753.30ZM300.8 753.30L300.75 753.30L303.50 753.24L304.50 752.82L304.75 752.78L305.00 752.82L305.75 753.14L309.50 753.13L310.25 752.74L310.50 752.72L310.75 752.79L311.50 753.15L312.25 753.21L314.00 753.23L317.25 753.30L317.25 753.30ZM317.5 753.30L317.50 753.30L320.25 753.10L321.25 753.01L321.50 752.99L322.00 752.85L322.50 752.98L322.75 752.98L323.25 752.87L324.00 753.12L324.75 753.06L325.25 752.78L325.50 752.71L325.75 752.74L326.00 752.85L326.50 752.87L327.50 753.21L327.75 753.22L328.75 752.79L329.00 752.77L329.50 752.95L330.00 752.87L330.25 752.87L331.25 753.22L333.00 753.07L333.75 752.83L334.00 752.83L334.50 753.02L334.75 753.03L335.75 753.08L336.50 752.89L337.50 753.18L341.50 753.06L342.00 752.93L342.75 753.10L343.50 752.99L344.00 752.82L344.25 752.84L344.75 753.05L345.75 753.06L346.50 752.91L346.75 752.95L347.25 752.86L348.25 753.16L349.00 752.88L349.25 752.87L349.50 752.93L350.00 752.86L350.25 752.88L350.75 753.07L351.00 753.08L352.00 753.09L353.00 753.07L353.50 752.87L353.75 752.84L354.25 752.99L355.00 752.92L355.75 753.15L356.50 752.87L356.75 752.86L357.25 753.02L358.50 753.15L359.25 752.90L359.50 752.91L360.00 753.04L360.50 752.90L361.25 753.02L362.00 753.07L362.75 753.03L363.25 752.79L363.50 752.77L363.75 752.82L364.00 752.81L364.25 752.72L364.50 752.73L365.50 753.20L365.75 753.20L366.75 752.81L367.00 752.83L367.50 753.04L367.75 753.10L369.00 753.18L371.75 753.19L372.75 752.73L373.00 752.75L373.25 752.85L373.75 752.81L374.25 752.95L374.75 752.77L375.00 752.80L375.75 753.15L376.50 753.20L378.25 753.19L382.50 753.26L383.75 752.80L384.25 752.87L384.50 752.77L384.75 752.75L385.25 752.94L385.75 752.78L386.00 752.76L386.75 753.08L387.00 753.08L387.75 752.72L388.00 752.71L388.75 753.07L393.00 753.21L396.00 753.12L396.75 752.78L397.00 752.78L397.50 752.99L397.75 753.01L398.25 752.92L398.75 753.06L399.25 752.80L399.50 752.74L399.75 752.76L400.25 752.97L400.50 752.89L400.75 752.87L401.00 752.92L401.50 752.86L402.00 752.99L402.50 752.85L402.75 752.87L403.50 753.14L403.75 753.08L404.25 752.81L404.50 752.75L404.75 752.77L405.25 753.01L406.00 753.12L406.75 753.12L407.50 752.74L407.75 752.72L408.25 752.94L408.75 752.92L409.25 753.01L410.50 753.20L412.00 753.19L413.00 753.01L413.50 752.81L413.75 752.76L414.00 752.80L414.50 753.04L414.75 753.09L416.00 753.19L419.25 753.09L420.00 752.85L420.75 753.08L423.00 753.20L424.00 752.73L424.25 752.73L424.75 752.97L425.50 753.02L426.00 752.80L426.25 752.79L427.00 753.11L428.25 753.07L428.75 752.80L429.00 752.73L429.25 752.75L429.75 753.00L430.25 752.79L430.50 752.78L431.25 753.11L431.50 753.13L432.25 752.78L432.50 752.77L433.00 752.96L434.75 753.13L435.50 752.82L435.75 752.81L436.25 753.00L436.75 752.76L437.00 752.72L437.25 752.77L438.00 753.16L439.25 753.05L439.75 752.79L440.00 752.74L440.25 752.78L440.75 753.03L441.25 752.91L442.00 753.12L445.50 753.15L446.25 752.92L447.25 753.18L448.25 752.92L449.25 753.21L451.00 753.12L451.75 753.08L453.00 753.10L453.25 753.12L454.00 752.76L454.25 752.73L454.50 752.79L454.75 752.92L455.25 752.79L455.50 752.78L456.25 753.10L456.50 753.12L457.25 752.75L457.50 752.73L458.25 753.08L460.00 753.11L461.00 753.06L461.50 752.90L461.75 752.91L462.50 753.17L464.00 753.11L464.75 752.89L465.25 752.95L465.50 752.85L465.75 752.82L466.50 753.08L467.25 752.97L467.75 752.73L468.00 752.73L468.50 752.89L468.75 752.82L469.00 752.82L469.75 753.14L473.25 753.17L473.50 753.17L474.25 752.91L474.50 752.91L475.50 753.22L478.75 753.24L480.00 752.76L480.25 752.79L480.75 753.02L481.25 752.88L481.50 752.86L482.00 753.03L482.25 752.96L482.75 752.75L483.00 752.76L484.00 753.19L484.25 753.18L485.00 752.88L485.25 752.85L485.75 752.94L486.00 752.90L486.75 753.10L489.00 753.06L489.50 752.79L489.75 752.73L490.25 752.83L490.50 752.74L490.75 752.73L491.50 753.09L492.00 753.12L492.75 752.82L493.00 752.82L494.00 753.22L497.25 752.78L497.50 752.77L498.75 753.08L499.25 752.87L499.50 752.84L500.25 753.09L501.00 752.75L501.25 752.77L501.75 752.90L502.00 752.85L502.25 752.88L503.00 753.14L503.50 753.09L504.25 752.73L504.50 752.74L505.25 753.12L507.75 753.23L508.75 752.79L509.00 752.75L509.25 752.80L509.50 752.92L510.00 752.76L510.25 752.74L511.00 753.08L511.25 753.06L511.75 752.79L512.00 752.73L512.25 752.76L513.25 753.30L513.25 753.30Z" fill="#6cbc78" stroke="#5a9a66" stroke-width="0.35"/>
<path d="M194.2 753.30L194.25 753.30L194.50 753.20L194.75 752.99L195.00 752.52L195.25 751.64L195.50 750.36L195.75 748.92L196.00 747.81L196.25 747.52L196.50 748.18L196.75 749.49L197.00 748.18L197.25 747.10L197.50 746.99L197.75 747.90L198.00 749.06L198.25 748.16L198.50 748.07L198.75 748.83L199.25 751.36L199.50 752.31L199.75 752.88L200.00 753.15L200.25 753.25L200.50 753.30L200.50 753.30ZM286.2 753.30L286.25 753.30L286.50 753.21L286.75 753.05L287.00 752.69L287.25 752.01L287.50 750.89L287.75 749.33L288.00 747.55L288.25 745.98L288.50 745.08L288.75 745.19L289.00 746.25L289.25 745.53L289.50 744.59L289.75 744.70L290.00 745.83L290.25 747.58L290.50 749.45L290.75 751.02L291.00 752.11L291.25 752.75L291.50 753.08L291.75 753.22L292.00 753.30L292.00 753.30ZM331.8 753.30L331.75 753.30L332.00 753.24L332.25 753.11L332.50 752.79L332.75 752.15L333.00 751.12L333.25 749.82L333.50 748.62L333.75 748.02L334.00 748.29L334.25 749.30L334.50 750.62L334.75 751.79L335.00 752.58L335.25 753.01L335.50 753.20L335.75 753.30L335.75 753.30ZM341.0 753.30L341.00 753.30L341.50 753.19L341.75 753.02L342.00 752.67L342.25 752.02L342.50 751.03L343.00 748.42L343.25 747.39L343.50 747.00L343.75 747.39L344.00 748.42L344.50 751.03L344.75 752.02L345.00 752.67L345.25 753.02L345.50 753.19L346.00 753.30L346.00 753.30Z" fill="#30b430" stroke="#2a702a" stroke-width="0.42"/>
<rect x="515.00" y="406" width="5.50" height="358" fill="#fff"/>
<rect x="0" y="406" width="4.50" height="358" fill="#fff"/>
<rect x="5.00" y="407.6" width="509.50" height="352.6" fill="none" stroke="#262626" stroke-width="1.6"/>
</svg></body></html>
